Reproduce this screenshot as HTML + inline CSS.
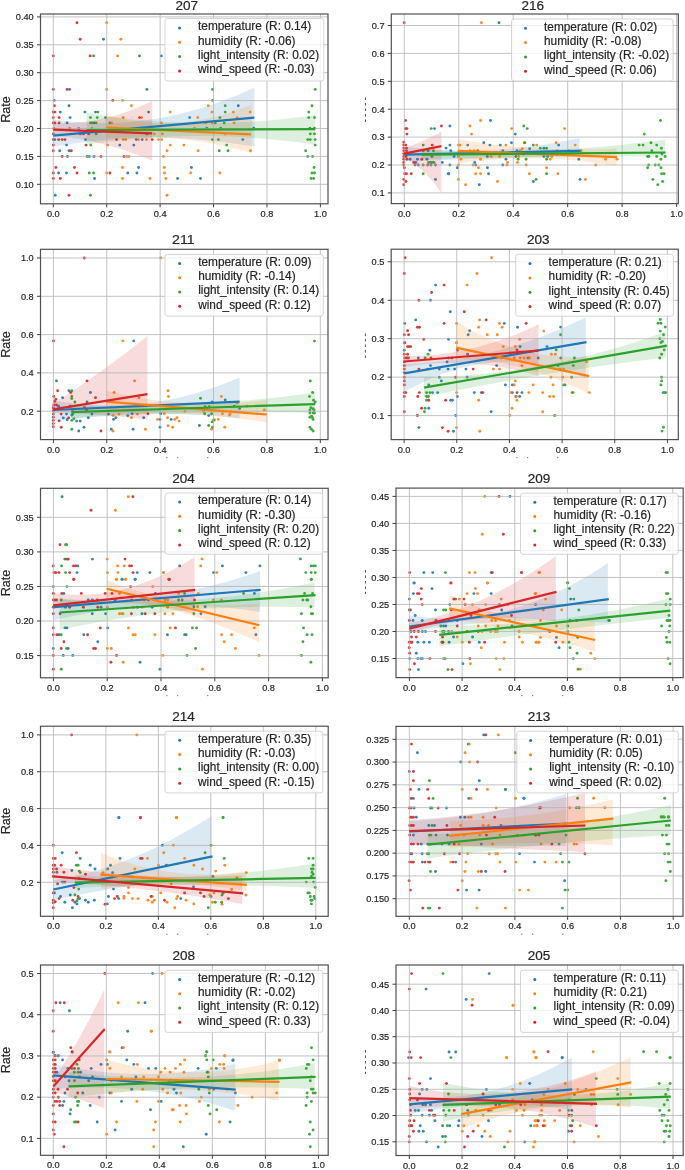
<!DOCTYPE html>
<html><head><meta charset="utf-8"><style>
html,body{margin:0;padding:0;background:#fff;width:685px;height:1170px;overflow:hidden}
svg{display:block;font-family:"Liberation Sans",sans-serif;filter:blur(0.35px)}
text{stroke:#262626;stroke-width:0.2px}
</style></head><body>
<svg width="685" height="1170" viewBox="0 0 685 1170">
<rect width="685" height="1170" fill="#fff"/>
<g>
<clipPath id="c207"><rect x="40.50" y="14.00" width="287.50" height="189.80"/></clipPath>
<g clip-path="url(#c207)">
<g fill="#1f77b4" opacity="0.9">
<circle cx="103.5" cy="39.2" r="1.45"/>
<circle cx="139.5" cy="55.9" r="1.45"/>
<circle cx="161.3" cy="55.9" r="1.45"/>
<circle cx="69.6" cy="89.4" r="1.45"/>
<circle cx="146.9" cy="89.4" r="1.45"/>
<circle cx="54.2" cy="100.4" r="1.45"/>
<circle cx="69.0" cy="105.7" r="1.45"/>
<circle cx="60.3" cy="112.1" r="1.45"/>
<circle cx="84.9" cy="112.1" r="1.45"/>
<circle cx="95.5" cy="112.1" r="1.45"/>
<circle cx="148.6" cy="112.1" r="1.45"/>
<circle cx="70.1" cy="117.6" r="1.45"/>
<circle cx="105.6" cy="117.6" r="1.45"/>
<circle cx="67.1" cy="122.9" r="1.45"/>
<circle cx="94.0" cy="122.9" r="1.45"/>
<circle cx="109.9" cy="122.9" r="1.45"/>
<circle cx="78.7" cy="128.6" r="1.45"/>
<circle cx="80.2" cy="133.9" r="1.45"/>
<circle cx="146.9" cy="133.9" r="1.45"/>
<circle cx="54.8" cy="139.6" r="1.45"/>
<circle cx="85.5" cy="139.6" r="1.45"/>
<circle cx="136.3" cy="139.6" r="1.45"/>
<circle cx="142.2" cy="139.6" r="1.45"/>
<circle cx="66.5" cy="145.1" r="1.45"/>
<circle cx="119.8" cy="145.1" r="1.45"/>
<circle cx="133.8" cy="145.1" r="1.45"/>
<circle cx="59.7" cy="150.8" r="1.45"/>
<circle cx="69.0" cy="150.8" r="1.45"/>
<circle cx="67.5" cy="156.5" r="1.45"/>
<circle cx="89.3" cy="156.5" r="1.45"/>
<circle cx="94.0" cy="156.5" r="1.45"/>
<circle cx="138.6" cy="167.5" r="1.45"/>
<circle cx="58.6" cy="173.0" r="1.45"/>
<circle cx="66.5" cy="173.0" r="1.45"/>
<circle cx="127.8" cy="173.0" r="1.45"/>
<circle cx="136.9" cy="173.0" r="1.45"/>
<circle cx="94.6" cy="178.5" r="1.45"/>
<circle cx="177.6" cy="178.5" r="1.45"/>
<circle cx="55.2" cy="195.3" r="1.45"/>
<circle cx="238.3" cy="105.7" r="1.45"/>
<circle cx="189.7" cy="117.6" r="1.45"/>
<circle cx="206.8" cy="128.2" r="1.45"/>
<circle cx="253.8" cy="128.2" r="1.45"/>
<circle cx="242.8" cy="139.6" r="1.45"/>
<circle cx="191.4" cy="167.5" r="1.45"/>
<circle cx="200.5" cy="178.5" r="1.45"/>
</g>
<polygon points="53.3,119.3 61.7,120.5 70.1,121.4 78.4,122.2 86.8,122.7 95.2,123.0 103.6,123.1 112.0,123.0 120.3,122.7 128.7,122.1 137.1,121.3 145.5,120.3 153.9,119.1 162.2,117.7 170.6,116.0 179.0,114.2 187.4,112.1 195.7,109.8 204.1,107.2 212.5,104.5 220.9,101.5 229.3,98.3 237.6,94.9 246.0,91.3 254.4,87.5 254.4,146.8 246.0,145.4 237.6,144.1 229.3,142.9 220.9,141.8 212.5,140.9 204.1,140.1 195.7,139.4 187.4,138.8 179.0,138.4 170.6,138.1 162.2,137.9 153.9,137.8 145.5,137.9 137.1,138.1 128.7,138.4 120.3,138.8 112.0,139.4 103.6,140.1 95.2,140.9 86.8,141.8 78.4,142.9 70.1,144.1 61.7,145.4 53.3,146.8" fill="#1f77b4" fill-opacity="0.16"/>
<g fill="#ff7f0e" opacity="0.9">
<circle cx="106.7" cy="22.7" r="1.45"/>
<circle cx="120.9" cy="39.2" r="1.45"/>
<circle cx="117.7" cy="55.9" r="1.45"/>
<circle cx="106.7" cy="89.4" r="1.45"/>
<circle cx="122.6" cy="100.4" r="1.45"/>
<circle cx="131.4" cy="105.7" r="1.45"/>
<circle cx="170.2" cy="112.1" r="1.45"/>
<circle cx="123.2" cy="117.6" r="1.45"/>
<circle cx="141.6" cy="117.6" r="1.45"/>
<circle cx="111.5" cy="122.9" r="1.45"/>
<circle cx="161.3" cy="122.9" r="1.45"/>
<circle cx="154.3" cy="133.9" r="1.45"/>
<circle cx="162.4" cy="133.9" r="1.45"/>
<circle cx="123.2" cy="139.6" r="1.45"/>
<circle cx="125.7" cy="139.6" r="1.45"/>
<circle cx="138.4" cy="139.6" r="1.45"/>
<circle cx="146.5" cy="139.6" r="1.45"/>
<circle cx="158.5" cy="139.6" r="1.45"/>
<circle cx="161.7" cy="139.6" r="1.45"/>
<circle cx="107.7" cy="145.1" r="1.45"/>
<circle cx="170.2" cy="145.1" r="1.45"/>
<circle cx="183.9" cy="145.1" r="1.45"/>
<circle cx="167.0" cy="150.8" r="1.45"/>
<circle cx="126.8" cy="156.5" r="1.45"/>
<circle cx="128.9" cy="156.5" r="1.45"/>
<circle cx="163.4" cy="156.5" r="1.45"/>
<circle cx="122.6" cy="167.5" r="1.45"/>
<circle cx="164.3" cy="167.5" r="1.45"/>
<circle cx="106.7" cy="173.0" r="1.45"/>
<circle cx="164.5" cy="173.0" r="1.45"/>
<circle cx="122.6" cy="178.5" r="1.45"/>
<circle cx="150.1" cy="178.5" r="1.45"/>
<circle cx="165.9" cy="178.5" r="1.45"/>
<circle cx="167.0" cy="195.3" r="1.45"/>
<circle cx="208.3" cy="105.7" r="1.45"/>
<circle cx="211.9" cy="112.1" r="1.45"/>
<circle cx="233.3" cy="112.1" r="1.45"/>
<circle cx="250.2" cy="112.1" r="1.45"/>
<circle cx="197.7" cy="117.6" r="1.45"/>
<circle cx="237.1" cy="117.6" r="1.45"/>
<circle cx="205.7" cy="122.9" r="1.45"/>
<circle cx="212.1" cy="122.9" r="1.45"/>
<circle cx="234.1" cy="122.9" r="1.45"/>
<circle cx="194.5" cy="128.2" r="1.45"/>
<circle cx="225.2" cy="133.9" r="1.45"/>
<circle cx="198.1" cy="150.8" r="1.45"/>
<circle cx="250.6" cy="150.8" r="1.45"/>
<circle cx="190.7" cy="173.0" r="1.45"/>
<circle cx="219.9" cy="173.0" r="1.45"/>
</g>
<polygon points="105.6,115.0 111.7,116.6 117.8,118.0 123.9,119.3 129.9,120.4 136.0,121.3 142.1,122.0 148.2,122.5 154.3,122.9 160.4,123.1 166.5,123.1 172.6,122.9 178.6,122.6 184.7,122.0 190.8,121.3 196.9,120.4 203.0,119.4 209.1,118.1 215.2,116.7 221.3,115.1 227.3,113.4 233.4,111.4 239.5,109.3 245.6,107.0 251.7,104.5 251.7,153.0 245.6,151.3 239.5,149.7 233.4,148.2 227.3,146.8 221.3,145.5 215.2,144.2 209.1,143.1 203.0,142.0 196.9,141.1 190.8,140.2 184.7,139.5 178.6,138.8 172.6,138.2 166.5,137.7 160.4,137.3 154.3,137.0 148.2,136.8 142.1,136.7 136.0,136.7 129.9,136.8 123.9,136.9 117.8,137.2 111.7,137.6 105.6,138.0" fill="#ff7f0e" fill-opacity="0.16"/>
<g fill="#2ca02c" opacity="0.9">
<circle cx="93.6" cy="55.9" r="1.45"/>
<circle cx="97.8" cy="112.1" r="1.45"/>
<circle cx="90.4" cy="117.6" r="1.45"/>
<circle cx="97.2" cy="117.6" r="1.45"/>
<circle cx="90.4" cy="122.9" r="1.45"/>
<circle cx="91.9" cy="122.9" r="1.45"/>
<circle cx="96.1" cy="122.9" r="1.45"/>
<circle cx="91.9" cy="128.6" r="1.45"/>
<circle cx="96.1" cy="133.9" r="1.45"/>
<circle cx="90.8" cy="145.1" r="1.45"/>
<circle cx="87.0" cy="156.5" r="1.45"/>
<circle cx="89.3" cy="173.0" r="1.45"/>
<circle cx="93.6" cy="173.0" r="1.45"/>
<circle cx="90.4" cy="195.3" r="1.45"/>
<circle cx="225.2" cy="105.7" r="1.45"/>
<circle cx="312.0" cy="105.7" r="1.45"/>
<circle cx="225.2" cy="112.1" r="1.45"/>
<circle cx="308.8" cy="112.1" r="1.45"/>
<circle cx="219.9" cy="117.6" r="1.45"/>
<circle cx="308.8" cy="117.6" r="1.45"/>
<circle cx="314.5" cy="117.6" r="1.45"/>
<circle cx="215.3" cy="122.9" r="1.45"/>
<circle cx="224.2" cy="122.9" r="1.45"/>
<circle cx="220.6" cy="128.2" r="1.45"/>
<circle cx="309.9" cy="128.2" r="1.45"/>
<circle cx="314.5" cy="128.2" r="1.45"/>
<circle cx="310.3" cy="133.9" r="1.45"/>
<circle cx="314.5" cy="133.9" r="1.45"/>
<circle cx="212.5" cy="139.6" r="1.45"/>
<circle cx="218.4" cy="139.6" r="1.45"/>
<circle cx="307.8" cy="139.6" r="1.45"/>
<circle cx="310.3" cy="139.6" r="1.45"/>
<circle cx="315.2" cy="139.6" r="1.45"/>
<circle cx="226.7" cy="145.1" r="1.45"/>
<circle cx="315.2" cy="145.1" r="1.45"/>
<circle cx="219.3" cy="150.8" r="1.45"/>
<circle cx="228.0" cy="150.8" r="1.45"/>
<circle cx="305.7" cy="150.8" r="1.45"/>
<circle cx="307.8" cy="156.5" r="1.45"/>
<circle cx="312.6" cy="156.5" r="1.45"/>
<circle cx="314.1" cy="167.5" r="1.45"/>
<circle cx="312.0" cy="173.0" r="1.45"/>
<circle cx="314.5" cy="173.0" r="1.45"/>
<circle cx="311.2" cy="178.5" r="1.45"/>
<circle cx="313.7" cy="178.5" r="1.45"/>
<circle cx="212.5" cy="89.4" r="1.45"/>
<circle cx="315.2" cy="89.4" r="1.45"/>
<circle cx="212.5" cy="100.4" r="1.45"/>
</g>
<polygon points="86.6,113.0 96.1,114.5 105.6,115.9 115.2,117.2 124.7,118.3 134.2,119.4 143.8,120.3 153.3,121.0 162.8,121.7 172.3,122.2 181.8,122.6 191.4,122.9 200.9,123.0 210.4,123.0 219.9,122.9 229.5,122.7 239.0,122.3 248.5,121.9 258.1,121.3 267.6,120.5 277.1,119.7 286.6,118.7 296.1,117.6 305.7,116.4 315.2,115.0 315.2,144.7 305.7,143.3 296.1,142.0 286.6,140.9 277.1,139.9 267.6,139.0 258.1,138.2 248.5,137.5 239.0,137.0 229.5,136.5 219.9,136.2 210.4,136.1 200.9,136.0 191.4,136.1 181.8,136.2 172.3,136.5 162.8,137.0 153.3,137.5 143.8,138.2 134.2,139.0 124.7,139.9 115.2,140.9 105.6,142.0 96.1,143.3 86.6,144.7" fill="#2ca02c" fill-opacity="0.16"/>
<g fill="#d62728" opacity="0.9">
<circle cx="77.0" cy="22.7" r="1.45"/>
<circle cx="80.2" cy="39.2" r="1.45"/>
<circle cx="53.3" cy="55.9" r="1.45"/>
<circle cx="90.2" cy="55.9" r="1.45"/>
<circle cx="53.3" cy="89.4" r="1.45"/>
<circle cx="67.1" cy="89.4" r="1.45"/>
<circle cx="112.8" cy="100.4" r="1.45"/>
<circle cx="54.4" cy="105.7" r="1.45"/>
<circle cx="53.3" cy="112.1" r="1.45"/>
<circle cx="54.8" cy="112.1" r="1.45"/>
<circle cx="53.3" cy="117.6" r="1.45"/>
<circle cx="59.1" cy="117.6" r="1.45"/>
<circle cx="139.5" cy="117.6" r="1.45"/>
<circle cx="53.3" cy="122.9" r="1.45"/>
<circle cx="54.8" cy="122.9" r="1.45"/>
<circle cx="59.1" cy="122.9" r="1.45"/>
<circle cx="53.8" cy="128.6" r="1.45"/>
<circle cx="69.6" cy="128.6" r="1.45"/>
<circle cx="53.3" cy="133.9" r="1.45"/>
<circle cx="83.4" cy="133.9" r="1.45"/>
<circle cx="88.7" cy="133.9" r="1.45"/>
<circle cx="53.3" cy="139.6" r="1.45"/>
<circle cx="58.6" cy="139.6" r="1.45"/>
<circle cx="62.2" cy="139.6" r="1.45"/>
<circle cx="65.0" cy="139.6" r="1.45"/>
<circle cx="116.6" cy="139.6" r="1.45"/>
<circle cx="152.2" cy="139.6" r="1.45"/>
<circle cx="53.3" cy="145.1" r="1.45"/>
<circle cx="86.1" cy="145.1" r="1.45"/>
<circle cx="53.3" cy="150.8" r="1.45"/>
<circle cx="71.3" cy="150.8" r="1.45"/>
<circle cx="62.2" cy="156.5" r="1.45"/>
<circle cx="101.0" cy="156.5" r="1.45"/>
<circle cx="124.0" cy="156.5" r="1.45"/>
<circle cx="55.9" cy="167.5" r="1.45"/>
<circle cx="74.5" cy="167.5" r="1.45"/>
<circle cx="53.3" cy="173.0" r="1.45"/>
<circle cx="77.0" cy="173.0" r="1.45"/>
<circle cx="109.9" cy="173.0" r="1.45"/>
<circle cx="53.3" cy="178.5" r="1.45"/>
<circle cx="60.3" cy="178.5" r="1.45"/>
<circle cx="69.0" cy="195.3" r="1.45"/>
</g>
<polygon points="53.3,123.0 57.4,123.1 61.5,123.2 65.7,123.1 69.8,123.0 73.9,122.8 78.0,122.5 82.1,122.0 86.3,121.5 90.4,120.9 94.5,120.3 98.6,119.5 102.8,118.6 106.9,117.6 111.0,116.6 115.1,115.4 119.2,114.2 123.4,112.9 127.5,111.5 131.6,109.9 135.7,108.3 139.8,106.6 144.0,104.9 148.1,103.0 152.2,101.0 152.2,160.8 148.1,159.0 144.0,157.4 139.8,155.7 135.7,154.2 131.6,152.7 127.5,151.2 123.4,149.8 119.2,148.5 115.1,147.3 111.0,146.1 106.9,145.0 102.8,143.9 98.6,142.9 94.5,142.0 90.4,141.1 86.3,140.3 82.1,139.5 78.0,138.8 73.9,138.2 69.8,137.6 65.7,137.1 61.5,136.7 57.4,136.3 53.3,136.0" fill="#d62728" fill-opacity="0.16"/>
</g>
<g clip-path="url(#c207)" stroke="#b0b0b0" stroke-width="0.9" fill="none" opacity="0.85">
<line x1="53.30" y1="14.00" x2="53.30" y2="203.80"/>
<line x1="106.72" y1="14.00" x2="106.72" y2="203.80"/>
<line x1="160.14" y1="14.00" x2="160.14" y2="203.80"/>
<line x1="213.56" y1="14.00" x2="213.56" y2="203.80"/>
<line x1="266.98" y1="14.00" x2="266.98" y2="203.80"/>
<line x1="320.40" y1="14.00" x2="320.40" y2="203.80"/>
<line x1="40.50" y1="184.30" x2="328.00" y2="184.30"/>
<line x1="40.50" y1="156.40" x2="328.00" y2="156.40"/>
<line x1="40.50" y1="128.50" x2="328.00" y2="128.50"/>
<line x1="40.50" y1="100.60" x2="328.00" y2="100.60"/>
<line x1="40.50" y1="72.70" x2="328.00" y2="72.70"/>
<line x1="40.50" y1="44.80" x2="328.00" y2="44.80"/>
<line x1="40.50" y1="16.90" x2="328.00" y2="16.90"/>
</g>
<g clip-path="url(#c207)">
<line x1="53.3" y1="135.6" x2="254.4" y2="117.6" stroke="#1f77b4" stroke-width="2.2"/>
<line x1="106.0" y1="127.5" x2="251.0" y2="134.3" stroke="#ff7f0e" stroke-width="2.2"/>
<line x1="86.6" y1="130.0" x2="315.2" y2="129.2" stroke="#2ca02c" stroke-width="2.2"/>
<line x1="53.3" y1="129.6" x2="152.2" y2="133.4" stroke="#d62728" stroke-width="2.2"/>
</g>
<rect x="165.0" y="18.5" width="158.8" height="62.5" rx="2.5" fill="#fff" fill-opacity="0.8" stroke="#d0d0d0" stroke-width="0.9"/>
<circle cx="179.6" cy="28.0" r="1.5" fill="#1f77b4"/>
<text x="198.0" y="30.3" font-size="11.85" fill="#262626">temperature (R: 0.14)</text>
<circle cx="179.6" cy="42.3" r="1.5" fill="#ff7f0e"/>
<text x="198.0" y="44.6" font-size="11.85" fill="#262626">humidity (R: -0.06)</text>
<circle cx="179.6" cy="56.6" r="1.5" fill="#2ca02c"/>
<text x="198.0" y="58.9" font-size="11.85" fill="#262626">light_intensity (R: 0.02)</text>
<circle cx="179.6" cy="70.9" r="1.5" fill="#d62728"/>
<text x="198.0" y="73.2" font-size="11.85" fill="#262626">wind_speed (R: -0.03)</text>
<rect x="40.50" y="14.00" width="287.50" height="189.80" fill="none" stroke="#505050" stroke-width="1.2"/>
<g stroke="#404040" stroke-width="1"><line x1="53.30" y1="203.80" x2="53.30" y2="207.30"/><line x1="106.72" y1="203.80" x2="106.72" y2="207.30"/><line x1="160.14" y1="203.80" x2="160.14" y2="207.30"/><line x1="213.56" y1="203.80" x2="213.56" y2="207.30"/><line x1="266.98" y1="203.80" x2="266.98" y2="207.30"/><line x1="320.40" y1="203.80" x2="320.40" y2="207.30"/><line x1="37.00" y1="184.30" x2="40.50" y2="184.30"/><line x1="37.00" y1="156.40" x2="40.50" y2="156.40"/><line x1="37.00" y1="128.50" x2="40.50" y2="128.50"/><line x1="37.00" y1="100.60" x2="40.50" y2="100.60"/><line x1="37.00" y1="72.70" x2="40.50" y2="72.70"/><line x1="37.00" y1="44.80" x2="40.50" y2="44.80"/><line x1="37.00" y1="16.90" x2="40.50" y2="16.90"/></g>
<text x="53.30" y="216.80" font-size="9.2" fill="#262626" text-anchor="middle">0.0</text>
<text x="106.72" y="216.80" font-size="9.2" fill="#262626" text-anchor="middle">0.2</text>
<text x="160.14" y="216.80" font-size="9.2" fill="#262626" text-anchor="middle">0.4</text>
<text x="213.56" y="216.80" font-size="9.2" fill="#262626" text-anchor="middle">0.6</text>
<text x="266.98" y="216.80" font-size="9.2" fill="#262626" text-anchor="middle">0.8</text>
<text x="320.40" y="216.80" font-size="9.2" fill="#262626" text-anchor="middle">1.0</text>
<text x="33.70" y="187.60" font-size="9.2" fill="#262626" text-anchor="end">0.10</text>
<text x="33.70" y="159.70" font-size="9.2" fill="#262626" text-anchor="end">0.15</text>
<text x="33.70" y="131.80" font-size="9.2" fill="#262626" text-anchor="end">0.20</text>
<text x="33.70" y="103.90" font-size="9.2" fill="#262626" text-anchor="end">0.25</text>
<text x="33.70" y="76.00" font-size="9.2" fill="#262626" text-anchor="end">0.30</text>
<text x="33.70" y="48.10" font-size="9.2" fill="#262626" text-anchor="end">0.35</text>
<text x="33.70" y="20.20" font-size="9.2" fill="#262626" text-anchor="end">0.40</text>
<text x="186.70" y="9.60" font-size="12.6" fill="#262626" text-anchor="middle" textLength="22.6" lengthAdjust="spacingAndGlyphs">207</text>
<text transform="translate(10.3,109.5) rotate(-90)" font-size="13" fill="#262626" text-anchor="middle" textLength="26.6" lengthAdjust="spacingAndGlyphs">Rate</text>
</g>
<g>
<clipPath id="c216"><rect x="391.30" y="14.00" width="287.00" height="189.60"/></clipPath>
<g clip-path="url(#c216)">
<g fill="#1f77b4" opacity="0.9">
<circle cx="499.0" cy="22.7" r="1.45"/>
<circle cx="490.5" cy="120.5" r="1.45"/>
<circle cx="434.5" cy="128.6" r="1.45"/>
<circle cx="449.9" cy="126.0" r="1.45"/>
<circle cx="515.3" cy="134.1" r="1.45"/>
<circle cx="483.8" cy="142.8" r="1.45"/>
<circle cx="449.9" cy="145.1" r="1.45"/>
<circle cx="467.7" cy="145.1" r="1.45"/>
<circle cx="489.9" cy="145.1" r="1.45"/>
<circle cx="500.3" cy="145.1" r="1.45"/>
<circle cx="511.5" cy="142.8" r="1.45"/>
<circle cx="446.1" cy="148.1" r="1.45"/>
<circle cx="428.1" cy="150.8" r="1.45"/>
<circle cx="450.8" cy="150.8" r="1.45"/>
<circle cx="477.8" cy="150.8" r="1.45"/>
<circle cx="502.8" cy="150.8" r="1.45"/>
<circle cx="517.0" cy="150.8" r="1.45"/>
<circle cx="529.7" cy="148.7" r="1.45"/>
<circle cx="454.1" cy="156.5" r="1.45"/>
<circle cx="487.4" cy="156.5" r="1.45"/>
<circle cx="515.9" cy="156.5" r="1.45"/>
<circle cx="410.1" cy="159.3" r="1.45"/>
<circle cx="417.5" cy="159.3" r="1.45"/>
<circle cx="427.0" cy="159.3" r="1.45"/>
<circle cx="506.0" cy="159.3" r="1.45"/>
<circle cx="415.8" cy="162.4" r="1.45"/>
<circle cx="442.3" cy="162.4" r="1.45"/>
<circle cx="474.7" cy="162.4" r="1.45"/>
<circle cx="418.2" cy="165.0" r="1.45"/>
<circle cx="430.9" cy="165.0" r="1.45"/>
<circle cx="435.5" cy="165.0" r="1.45"/>
<circle cx="449.9" cy="165.0" r="1.45"/>
<circle cx="475.7" cy="165.0" r="1.45"/>
<circle cx="502.8" cy="165.0" r="1.45"/>
<circle cx="457.3" cy="167.7" r="1.45"/>
<circle cx="487.4" cy="167.7" r="1.45"/>
<circle cx="448.2" cy="173.7" r="1.45"/>
<circle cx="448.8" cy="173.7" r="1.45"/>
<circle cx="488.6" cy="173.7" r="1.45"/>
<circle cx="435.5" cy="179.4" r="1.45"/>
<circle cx="533.3" cy="181.5" r="1.45"/>
<circle cx="479.3" cy="184.7" r="1.45"/>
<circle cx="543.9" cy="148.3" r="1.45"/>
<circle cx="558.7" cy="145.1" r="1.45"/>
<circle cx="543.9" cy="156.5" r="1.45"/>
<circle cx="547.7" cy="156.5" r="1.45"/>
<circle cx="578.8" cy="159.3" r="1.45"/>
<circle cx="580.1" cy="179.4" r="1.45"/>
</g>
<polygon points="404.2,146.6 411.5,147.5 418.8,148.2 426.1,148.8 433.4,149.4 440.7,149.8 448.0,150.1 455.3,150.4 462.6,150.5 469.9,150.5 477.2,150.4 484.5,150.2 491.9,149.9 499.2,149.5 506.5,149.0 513.8,148.4 521.1,147.7 528.4,146.8 535.7,145.9 543.0,144.9 550.3,143.7 557.6,142.5 564.9,141.1 572.2,139.7 579.5,138.1 579.5,156.0 572.2,156.2 564.9,156.4 557.6,156.6 550.3,156.8 543.0,157.0 535.7,157.2 528.4,157.4 521.1,157.6 513.8,157.8 506.5,158.0 499.2,158.2 491.9,158.4 484.5,158.7 477.2,158.9 469.9,159.1 462.6,159.4 455.3,159.6 448.0,159.9 440.7,160.1 433.4,160.4 426.1,160.6 418.8,160.9 411.5,161.1 404.2,161.4" fill="#1f77b4" fill-opacity="0.16"/>
<g fill="#ff7f0e" opacity="0.9">
<circle cx="481.4" cy="22.7" r="1.45"/>
<circle cx="480.6" cy="120.5" r="1.45"/>
<circle cx="470.0" cy="126.0" r="1.45"/>
<circle cx="511.7" cy="128.6" r="1.45"/>
<circle cx="471.5" cy="134.1" r="1.45"/>
<circle cx="524.4" cy="142.8" r="1.45"/>
<circle cx="458.4" cy="145.1" r="1.45"/>
<circle cx="459.9" cy="145.1" r="1.45"/>
<circle cx="506.0" cy="145.1" r="1.45"/>
<circle cx="470.0" cy="150.8" r="1.45"/>
<circle cx="474.2" cy="150.8" r="1.45"/>
<circle cx="520.2" cy="150.8" r="1.45"/>
<circle cx="522.3" cy="148.7" r="1.45"/>
<circle cx="458.4" cy="156.5" r="1.45"/>
<circle cx="491.2" cy="156.5" r="1.45"/>
<circle cx="499.6" cy="156.5" r="1.45"/>
<circle cx="518.7" cy="156.5" r="1.45"/>
<circle cx="460.9" cy="159.3" r="1.45"/>
<circle cx="480.6" cy="159.3" r="1.45"/>
<circle cx="507.5" cy="162.4" r="1.45"/>
<circle cx="517.4" cy="162.4" r="1.45"/>
<circle cx="458.4" cy="165.0" r="1.45"/>
<circle cx="473.0" cy="165.0" r="1.45"/>
<circle cx="507.1" cy="165.0" r="1.45"/>
<circle cx="526.1" cy="165.0" r="1.45"/>
<circle cx="478.5" cy="167.7" r="1.45"/>
<circle cx="475.7" cy="173.7" r="1.45"/>
<circle cx="480.6" cy="173.7" r="1.45"/>
<circle cx="529.3" cy="173.7" r="1.45"/>
<circle cx="458.4" cy="179.4" r="1.45"/>
<circle cx="497.5" cy="181.5" r="1.45"/>
<circle cx="465.6" cy="184.7" r="1.45"/>
<circle cx="564.6" cy="128.6" r="1.45"/>
<circle cx="536.7" cy="145.1" r="1.45"/>
<circle cx="556.2" cy="142.8" r="1.45"/>
<circle cx="575.2" cy="145.1" r="1.45"/>
<circle cx="557.2" cy="150.8" r="1.45"/>
<circle cx="568.9" cy="150.8" r="1.45"/>
<circle cx="581.1" cy="150.8" r="1.45"/>
<circle cx="551.9" cy="156.5" r="1.45"/>
<circle cx="550.2" cy="159.3" r="1.45"/>
<circle cx="605.5" cy="159.3" r="1.45"/>
<circle cx="617.1" cy="159.3" r="1.45"/>
<circle cx="595.8" cy="165.0" r="1.45"/>
<circle cx="546.6" cy="167.7" r="1.45"/>
<circle cx="557.9" cy="173.7" r="1.45"/>
<circle cx="585.4" cy="179.4" r="1.45"/>
</g>
<polygon points="457.7,139.2 464.3,140.3 470.9,141.4 477.6,142.3 484.2,143.3 490.8,144.1 497.4,144.9 504.0,145.6 510.6,146.3 517.2,146.9 523.9,147.5 530.5,147.9 537.1,148.3 543.7,148.7 550.3,149.0 557.0,149.2 563.6,149.3 570.2,149.4 576.8,149.5 583.4,149.4 590.0,149.3 596.6,149.2 603.3,148.9 609.9,148.7 616.5,148.3 616.5,166.0 609.9,164.9 603.3,163.9 596.6,162.9 590.0,162.1 583.4,161.3 576.8,160.6 570.2,160.1 563.6,159.6 557.0,159.2 550.3,158.8 543.7,158.6 537.1,158.4 530.5,158.4 523.9,158.4 517.2,158.5 510.6,158.7 504.0,159.0 497.4,159.4 490.8,159.9 484.2,160.4 477.6,161.1 470.9,161.8 464.3,162.6 457.7,163.5" fill="#ff7f0e" fill-opacity="0.16"/>
<g fill="#2ca02c" opacity="0.9">
<circle cx="431.3" cy="128.6" r="1.45"/>
<circle cx="523.8" cy="126.0" r="1.45"/>
<circle cx="527.2" cy="128.6" r="1.45"/>
<circle cx="423.2" cy="145.1" r="1.45"/>
<circle cx="524.8" cy="142.8" r="1.45"/>
<circle cx="533.3" cy="145.1" r="1.45"/>
<circle cx="423.2" cy="150.8" r="1.45"/>
<circle cx="433.4" cy="150.8" r="1.45"/>
<circle cx="431.9" cy="156.5" r="1.45"/>
<circle cx="523.4" cy="154.0" r="1.45"/>
<circle cx="518.1" cy="159.3" r="1.45"/>
<circle cx="526.1" cy="159.3" r="1.45"/>
<circle cx="428.7" cy="162.4" r="1.45"/>
<circle cx="430.6" cy="162.4" r="1.45"/>
<circle cx="432.3" cy="162.4" r="1.45"/>
<circle cx="434.0" cy="162.4" r="1.45"/>
<circle cx="423.2" cy="165.0" r="1.45"/>
<circle cx="423.2" cy="173.7" r="1.45"/>
<circle cx="660.5" cy="120.5" r="1.45"/>
<circle cx="644.2" cy="134.1" r="1.45"/>
<circle cx="540.3" cy="148.3" r="1.45"/>
<circle cx="546.6" cy="148.3" r="1.45"/>
<circle cx="639.1" cy="145.1" r="1.45"/>
<circle cx="643.0" cy="145.1" r="1.45"/>
<circle cx="651.0" cy="142.8" r="1.45"/>
<circle cx="656.7" cy="145.1" r="1.45"/>
<circle cx="661.4" cy="148.3" r="1.45"/>
<circle cx="651.8" cy="150.8" r="1.45"/>
<circle cx="647.6" cy="156.5" r="1.45"/>
<circle cx="648.9" cy="156.5" r="1.45"/>
<circle cx="656.7" cy="156.5" r="1.45"/>
<circle cx="662.0" cy="154.0" r="1.45"/>
<circle cx="665.2" cy="156.5" r="1.45"/>
<circle cx="546.6" cy="159.3" r="1.45"/>
<circle cx="660.9" cy="159.3" r="1.45"/>
<circle cx="648.7" cy="165.0" r="1.45"/>
<circle cx="655.2" cy="165.0" r="1.45"/>
<circle cx="658.8" cy="165.0" r="1.45"/>
<circle cx="647.6" cy="167.7" r="1.45"/>
<circle cx="660.9" cy="167.7" r="1.45"/>
<circle cx="546.6" cy="173.7" r="1.45"/>
<circle cx="661.6" cy="173.7" r="1.45"/>
<circle cx="664.1" cy="173.7" r="1.45"/>
<circle cx="536.1" cy="179.4" r="1.45"/>
<circle cx="652.9" cy="179.4" r="1.45"/>
<circle cx="662.6" cy="181.5" r="1.45"/>
<circle cx="657.8" cy="184.7" r="1.45"/>
</g>
<polygon points="421.8,149.7 431.9,150.2 442.1,150.6 452.2,150.9 462.4,151.1 472.5,151.3 482.7,151.4 492.8,151.4 502.9,151.3 513.1,151.2 523.2,151.0 533.4,150.7 543.5,150.3 553.6,149.8 563.8,149.3 573.9,148.7 584.1,148.0 594.2,147.2 604.4,146.4 614.5,145.4 624.6,144.4 634.8,143.3 644.9,142.2 655.1,140.9 665.2,139.6 665.2,156.7 655.1,156.6 644.9,156.5 634.8,156.4 624.6,156.4 614.5,156.4 604.4,156.3 594.2,156.3 584.1,156.4 573.9,156.4 563.8,156.5 553.6,156.6 543.5,156.7 533.4,156.8 523.2,156.9 513.1,157.1 502.9,157.2 492.8,157.4 482.7,157.6 472.5,157.9 462.4,158.1 452.2,158.4 442.1,158.7 431.9,159.0 421.8,159.3" fill="#2ca02c" fill-opacity="0.16"/>
<g fill="#d62728" opacity="0.9">
<circle cx="404.2" cy="22.7" r="1.45"/>
<circle cx="405.5" cy="120.5" r="1.45"/>
<circle cx="405.5" cy="128.6" r="1.45"/>
<circle cx="406.9" cy="128.6" r="1.45"/>
<circle cx="441.4" cy="126.0" r="1.45"/>
<circle cx="406.9" cy="134.1" r="1.45"/>
<circle cx="403.8" cy="142.3" r="1.45"/>
<circle cx="403.8" cy="145.1" r="1.45"/>
<circle cx="405.9" cy="145.1" r="1.45"/>
<circle cx="432.3" cy="145.1" r="1.45"/>
<circle cx="403.8" cy="148.1" r="1.45"/>
<circle cx="406.5" cy="148.1" r="1.45"/>
<circle cx="403.8" cy="150.8" r="1.45"/>
<circle cx="406.5" cy="150.8" r="1.45"/>
<circle cx="403.8" cy="153.6" r="1.45"/>
<circle cx="406.9" cy="153.6" r="1.45"/>
<circle cx="403.8" cy="156.5" r="1.45"/>
<circle cx="405.9" cy="156.5" r="1.45"/>
<circle cx="403.8" cy="159.3" r="1.45"/>
<circle cx="406.9" cy="159.3" r="1.45"/>
<circle cx="421.8" cy="159.3" r="1.45"/>
<circle cx="403.8" cy="162.4" r="1.45"/>
<circle cx="413.7" cy="162.4" r="1.45"/>
<circle cx="403.8" cy="165.0" r="1.45"/>
<circle cx="415.0" cy="165.0" r="1.45"/>
<circle cx="427.7" cy="165.0" r="1.45"/>
<circle cx="404.4" cy="167.7" r="1.45"/>
<circle cx="404.8" cy="173.7" r="1.45"/>
<circle cx="406.5" cy="173.7" r="1.45"/>
<circle cx="411.2" cy="173.7" r="1.45"/>
<circle cx="403.8" cy="179.4" r="1.45"/>
<circle cx="405.9" cy="181.5" r="1.45"/>
<circle cx="403.8" cy="184.7" r="1.45"/>
</g>
<polygon points="404.2,148.0 405.8,147.5 407.3,146.9 408.8,146.4 410.4,145.8 411.9,145.3 413.5,144.7 415.1,144.1 416.6,143.5 418.1,142.8 419.7,142.2 421.2,141.5 422.8,140.9 424.3,140.2 425.9,139.5 427.4,138.8 429.0,138.1 430.5,137.3 432.1,136.6 433.6,135.8 435.2,135.0 436.8,134.2 438.3,133.4 439.8,132.6 441.4,131.8 441.4,193.1 439.8,190.9 438.3,188.7 436.8,186.6 435.2,184.6 433.6,182.7 432.1,180.8 430.5,179.0 429.0,177.2 427.4,175.5 425.9,173.9 424.3,172.3 422.8,170.8 421.2,169.4 419.7,168.0 418.1,166.7 416.6,165.5 415.1,164.3 413.5,163.2 411.9,162.2 410.4,161.2 408.8,160.3 407.3,159.5 405.8,158.7 404.2,158.0" fill="#d62728" fill-opacity="0.16"/>
</g>
<g clip-path="url(#c216)" stroke="#b0b0b0" stroke-width="0.9" fill="none" opacity="0.85">
<line x1="404.30" y1="14.00" x2="404.30" y2="203.60"/>
<line x1="458.76" y1="14.00" x2="458.76" y2="203.60"/>
<line x1="513.22" y1="14.00" x2="513.22" y2="203.60"/>
<line x1="567.68" y1="14.00" x2="567.68" y2="203.60"/>
<line x1="622.14" y1="14.00" x2="622.14" y2="203.60"/>
<line x1="676.60" y1="14.00" x2="676.60" y2="203.60"/>
<line x1="391.30" y1="192.90" x2="678.30" y2="192.90"/>
<line x1="391.30" y1="165.00" x2="678.30" y2="165.00"/>
<line x1="391.30" y1="137.10" x2="678.30" y2="137.10"/>
<line x1="391.30" y1="109.20" x2="678.30" y2="109.20"/>
<line x1="391.30" y1="81.30" x2="678.30" y2="81.30"/>
<line x1="391.30" y1="53.40" x2="678.30" y2="53.40"/>
<line x1="391.30" y1="25.50" x2="678.30" y2="25.50"/>
</g>
<g clip-path="url(#c216)">
<line x1="404.2" y1="154.6" x2="580.5" y2="150.8" stroke="#1f77b4" stroke-width="2.2"/>
<line x1="457.7" y1="150.8" x2="617.1" y2="157.2" stroke="#ff7f0e" stroke-width="2.2"/>
<line x1="421.8" y1="154.6" x2="665.6" y2="152.5" stroke="#2ca02c" stroke-width="2.2"/>
<line x1="404.2" y1="153.6" x2="441.4" y2="146.1" stroke="#d62728" stroke-width="2.2"/>
</g>
<rect x="511.5" y="19.0" width="161.5" height="62.0" rx="2.5" fill="#fff" fill-opacity="0.8" stroke="#d0d0d0" stroke-width="0.9"/>
<circle cx="525.5" cy="28.3" r="1.5" fill="#1f77b4"/>
<text x="544.0" y="30.6" font-size="11.85" fill="#262626">temperature (R: 0.02)</text>
<circle cx="525.5" cy="42.6" r="1.5" fill="#ff7f0e"/>
<text x="544.0" y="44.9" font-size="11.85" fill="#262626">humidity (R: -0.08)</text>
<circle cx="525.5" cy="56.9" r="1.5" fill="#2ca02c"/>
<text x="544.0" y="59.2" font-size="11.85" fill="#262626">light_intensity (R: -0.02)</text>
<circle cx="525.5" cy="71.2" r="1.5" fill="#d62728"/>
<text x="544.0" y="73.5" font-size="11.85" fill="#262626">wind_speed (R: 0.06)</text>
<rect x="391.30" y="14.00" width="287.00" height="189.60" fill="none" stroke="#505050" stroke-width="1.2"/>
<g stroke="#404040" stroke-width="1"><line x1="404.30" y1="203.60" x2="404.30" y2="207.10"/><line x1="458.76" y1="203.60" x2="458.76" y2="207.10"/><line x1="513.22" y1="203.60" x2="513.22" y2="207.10"/><line x1="567.68" y1="203.60" x2="567.68" y2="207.10"/><line x1="622.14" y1="203.60" x2="622.14" y2="207.10"/><line x1="676.60" y1="203.60" x2="676.60" y2="207.10"/><line x1="387.80" y1="192.90" x2="391.30" y2="192.90"/><line x1="387.80" y1="165.00" x2="391.30" y2="165.00"/><line x1="387.80" y1="137.10" x2="391.30" y2="137.10"/><line x1="387.80" y1="109.20" x2="391.30" y2="109.20"/><line x1="387.80" y1="81.30" x2="391.30" y2="81.30"/><line x1="387.80" y1="53.40" x2="391.30" y2="53.40"/><line x1="387.80" y1="25.50" x2="391.30" y2="25.50"/></g>
<text x="404.30" y="216.60" font-size="9.2" fill="#262626" text-anchor="middle">0.0</text>
<text x="458.76" y="216.60" font-size="9.2" fill="#262626" text-anchor="middle">0.2</text>
<text x="513.22" y="216.60" font-size="9.2" fill="#262626" text-anchor="middle">0.4</text>
<text x="567.68" y="216.60" font-size="9.2" fill="#262626" text-anchor="middle">0.6</text>
<text x="622.14" y="216.60" font-size="9.2" fill="#262626" text-anchor="middle">0.8</text>
<text x="676.60" y="216.60" font-size="9.2" fill="#262626" text-anchor="middle">1.0</text>
<text x="384.50" y="196.20" font-size="9.2" fill="#262626" text-anchor="end">0.1</text>
<text x="384.50" y="168.30" font-size="9.2" fill="#262626" text-anchor="end">0.2</text>
<text x="384.50" y="140.40" font-size="9.2" fill="#262626" text-anchor="end">0.3</text>
<text x="384.50" y="112.50" font-size="9.2" fill="#262626" text-anchor="end">0.4</text>
<text x="384.50" y="84.60" font-size="9.2" fill="#262626" text-anchor="end">0.5</text>
<text x="384.50" y="56.70" font-size="9.2" fill="#262626" text-anchor="end">0.6</text>
<text x="384.50" y="28.80" font-size="9.2" fill="#262626" text-anchor="end">0.7</text>
<text x="532.70" y="9.60" font-size="12.6" fill="#262626" text-anchor="middle" textLength="22.6" lengthAdjust="spacingAndGlyphs">216</text>
<line x1="365.5" y1="97.5" x2="365.5" y2="122" stroke="#444" stroke-width="0.9" stroke-dasharray="2.5,3"/>
</g>
<g>
<clipPath id="c211"><rect x="40.50" y="249.30" width="287.50" height="190.30"/></clipPath>
<g clip-path="url(#c211)">
<g fill="#1f77b4" opacity="0.9">
<circle cx="133.7" cy="340.9" r="1.45"/>
<circle cx="56.5" cy="380.9" r="1.45"/>
<circle cx="69.0" cy="390.8" r="1.45"/>
<circle cx="90.4" cy="392.5" r="1.45"/>
<circle cx="62.6" cy="397.8" r="1.45"/>
<circle cx="87.0" cy="402.0" r="1.45"/>
<circle cx="58.6" cy="406.3" r="1.45"/>
<circle cx="72.4" cy="409.9" r="1.45"/>
<circle cx="66.5" cy="414.1" r="1.45"/>
<circle cx="71.8" cy="415.1" r="1.45"/>
<circle cx="91.9" cy="414.1" r="1.45"/>
<circle cx="108.4" cy="414.1" r="1.45"/>
<circle cx="127.8" cy="415.6" r="1.45"/>
<circle cx="132.1" cy="413.7" r="1.45"/>
<circle cx="160.7" cy="413.7" r="1.45"/>
<circle cx="63.3" cy="417.9" r="1.45"/>
<circle cx="67.1" cy="419.8" r="1.45"/>
<circle cx="76.6" cy="421.1" r="1.45"/>
<circle cx="80.2" cy="421.1" r="1.45"/>
<circle cx="88.3" cy="417.7" r="1.45"/>
<circle cx="113.5" cy="419.4" r="1.45"/>
<circle cx="115.8" cy="417.7" r="1.45"/>
<circle cx="143.7" cy="417.7" r="1.45"/>
<circle cx="160.0" cy="419.4" r="1.45"/>
<circle cx="171.2" cy="419.4" r="1.45"/>
<circle cx="84.0" cy="427.2" r="1.45"/>
<circle cx="78.7" cy="431.0" r="1.45"/>
<circle cx="111.3" cy="429.3" r="1.45"/>
<circle cx="133.1" cy="429.3" r="1.45"/>
<circle cx="160.0" cy="427.2" r="1.45"/>
<circle cx="225.2" cy="399.9" r="1.45"/>
<circle cx="212.1" cy="402.0" r="1.45"/>
<circle cx="239.6" cy="408.4" r="1.45"/>
<circle cx="208.7" cy="415.6" r="1.45"/>
<circle cx="199.4" cy="425.5" r="1.45"/>
</g>
<polygon points="52.9,400.0 60.7,401.4 68.5,402.6 76.2,403.6 84.0,404.3 91.8,404.9 99.6,405.3 107.4,405.5 115.1,405.4 122.9,405.2 130.7,404.8 138.5,404.1 146.2,403.3 154.0,402.3 161.8,401.0 169.6,399.6 177.4,397.9 185.1,396.1 192.9,394.0 200.7,391.8 208.5,389.3 216.3,386.7 224.0,383.8 231.8,380.8 239.6,377.5 239.6,418.3 231.8,417.5 224.0,416.8 216.3,416.1 208.5,415.5 200.7,415.1 192.9,414.7 185.1,414.3 177.4,414.1 169.6,413.9 161.8,413.8 154.0,413.8 146.2,413.9 138.5,414.0 130.7,414.3 122.9,414.6 115.1,415.0 107.4,415.4 99.6,416.0 91.8,416.6 84.0,417.3 76.2,418.1 68.5,419.0 60.7,420.0 52.9,421.0" fill="#1f77b4" fill-opacity="0.16"/>
<g fill="#ff7f0e" opacity="0.9">
<circle cx="160.7" cy="258.0" r="1.45"/>
<circle cx="122.9" cy="340.9" r="1.45"/>
<circle cx="134.6" cy="380.9" r="1.45"/>
<circle cx="114.1" cy="392.5" r="1.45"/>
<circle cx="168.1" cy="390.8" r="1.45"/>
<circle cx="138.9" cy="397.8" r="1.45"/>
<circle cx="168.5" cy="396.5" r="1.45"/>
<circle cx="113.0" cy="415.6" r="1.45"/>
<circle cx="119.0" cy="414.1" r="1.45"/>
<circle cx="137.4" cy="414.1" r="1.45"/>
<circle cx="164.3" cy="413.7" r="1.45"/>
<circle cx="131.4" cy="417.7" r="1.45"/>
<circle cx="157.5" cy="419.4" r="1.45"/>
<circle cx="167.6" cy="417.7" r="1.45"/>
<circle cx="174.8" cy="419.4" r="1.45"/>
<circle cx="177.0" cy="417.7" r="1.45"/>
<circle cx="179.1" cy="421.1" r="1.45"/>
<circle cx="113.0" cy="431.0" r="1.45"/>
<circle cx="145.4" cy="429.3" r="1.45"/>
<circle cx="168.1" cy="425.7" r="1.45"/>
<circle cx="172.7" cy="427.2" r="1.45"/>
<circle cx="221.4" cy="396.5" r="1.45"/>
<circle cx="237.1" cy="402.9" r="1.45"/>
<circle cx="247.0" cy="406.3" r="1.45"/>
<circle cx="264.4" cy="409.9" r="1.45"/>
<circle cx="185.0" cy="411.3" r="1.45"/>
<circle cx="203.6" cy="411.3" r="1.45"/>
<circle cx="222.5" cy="413.7" r="1.45"/>
<circle cx="229.5" cy="415.1" r="1.45"/>
<circle cx="230.1" cy="414.1" r="1.45"/>
<circle cx="214.6" cy="420.0" r="1.45"/>
<circle cx="218.2" cy="419.4" r="1.45"/>
<circle cx="211.5" cy="429.3" r="1.45"/>
<circle cx="224.8" cy="427.2" r="1.45"/>
</g>
<polygon points="106.3,390.7 113.0,392.3 119.6,393.8 126.3,395.2 133.0,396.5 139.7,397.7 146.3,398.8 153.0,399.8 159.7,400.7 166.4,401.4 173.1,402.1 179.7,402.6 186.4,403.1 193.1,403.4 199.8,403.6 206.4,403.8 213.1,403.8 219.8,403.7 226.4,403.5 233.1,403.2 239.8,402.7 246.5,402.2 253.1,401.6 259.8,400.8 266.5,400.0 266.5,422.1 259.8,421.2 253.1,420.3 246.5,419.5 239.8,418.7 233.1,418.0 226.4,417.3 219.8,416.6 213.1,416.0 206.4,415.5 199.8,415.0 193.1,414.5 186.4,414.1 179.7,413.7 173.1,413.4 166.4,413.1 159.7,412.9 153.0,412.7 146.3,412.5 139.7,412.4 133.0,412.4 126.3,412.4 119.6,412.4 113.0,412.5 106.3,412.6" fill="#ff7f0e" fill-opacity="0.16"/>
<g fill="#2ca02c" opacity="0.9">
<circle cx="71.8" cy="390.8" r="1.45"/>
<circle cx="71.8" cy="396.5" r="1.45"/>
<circle cx="71.8" cy="398.6" r="1.45"/>
<circle cx="74.9" cy="402.0" r="1.45"/>
<circle cx="72.8" cy="414.1" r="1.45"/>
<circle cx="71.8" cy="420.4" r="1.45"/>
<circle cx="73.9" cy="418.7" r="1.45"/>
<circle cx="71.8" cy="429.3" r="1.45"/>
<circle cx="314.5" cy="341.1" r="1.45"/>
<circle cx="310.3" cy="380.9" r="1.45"/>
<circle cx="312.6" cy="392.5" r="1.45"/>
<circle cx="309.5" cy="396.5" r="1.45"/>
<circle cx="313.5" cy="400.3" r="1.45"/>
<circle cx="315.2" cy="402.0" r="1.45"/>
<circle cx="200.5" cy="398.2" r="1.45"/>
<circle cx="234.3" cy="406.3" r="1.45"/>
<circle cx="205.1" cy="406.7" r="1.45"/>
<circle cx="209.3" cy="406.7" r="1.45"/>
<circle cx="310.9" cy="407.7" r="1.45"/>
<circle cx="313.1" cy="408.8" r="1.45"/>
<circle cx="309.9" cy="409.9" r="1.45"/>
<circle cx="314.1" cy="409.9" r="1.45"/>
<circle cx="204.7" cy="413.7" r="1.45"/>
<circle cx="211.5" cy="413.7" r="1.45"/>
<circle cx="309.9" cy="413.0" r="1.45"/>
<circle cx="313.1" cy="413.0" r="1.45"/>
<circle cx="314.5" cy="413.0" r="1.45"/>
<circle cx="309.9" cy="417.3" r="1.45"/>
<circle cx="311.6" cy="416.2" r="1.45"/>
<circle cx="312.6" cy="417.9" r="1.45"/>
<circle cx="213.6" cy="420.0" r="1.45"/>
<circle cx="212.1" cy="421.9" r="1.45"/>
<circle cx="313.1" cy="419.4" r="1.45"/>
<circle cx="208.7" cy="425.5" r="1.45"/>
<circle cx="212.5" cy="427.2" r="1.45"/>
<circle cx="309.9" cy="427.2" r="1.45"/>
<circle cx="311.4" cy="429.3" r="1.45"/>
<circle cx="313.1" cy="431.0" r="1.45"/>
</g>
<polygon points="71.3,405.0 81.4,405.4 91.6,405.7 101.7,405.9 111.9,406.0 122.0,406.1 132.2,406.1 142.3,406.0 152.5,405.8 162.6,405.6 172.8,405.2 182.9,404.8 193.1,404.3 203.2,403.8 213.3,403.1 223.5,402.4 233.6,401.6 243.8,400.8 253.9,399.8 264.1,398.8 274.2,397.7 284.4,396.5 294.5,395.3 304.7,393.9 314.8,392.5 314.8,413.0 304.7,412.8 294.5,412.6 284.4,412.5 274.2,412.3 264.1,412.3 253.9,412.3 243.8,412.3 233.6,412.3 223.5,412.4 213.3,412.5 203.2,412.7 193.1,412.9 182.9,413.2 172.8,413.5 162.6,413.8 152.5,414.2 142.3,414.6 132.2,415.0 122.0,415.5 111.9,416.0 101.7,416.6 91.6,417.2 81.4,417.8 71.3,418.5" fill="#2ca02c" fill-opacity="0.16"/>
<g fill="#d62728" opacity="0.9">
<circle cx="84.3" cy="258.0" r="1.45"/>
<circle cx="53.5" cy="340.9" r="1.45"/>
<circle cx="87.0" cy="380.9" r="1.45"/>
<circle cx="57.6" cy="390.8" r="1.45"/>
<circle cx="70.7" cy="392.5" r="1.45"/>
<circle cx="53.8" cy="396.5" r="1.45"/>
<circle cx="55.9" cy="399.3" r="1.45"/>
<circle cx="54.8" cy="401.4" r="1.45"/>
<circle cx="95.5" cy="397.8" r="1.45"/>
<circle cx="53.8" cy="405.0" r="1.45"/>
<circle cx="56.5" cy="405.0" r="1.45"/>
<circle cx="70.3" cy="406.3" r="1.45"/>
<circle cx="84.5" cy="407.7" r="1.45"/>
<circle cx="53.3" cy="407.7" r="1.45"/>
<circle cx="53.3" cy="410.9" r="1.45"/>
<circle cx="53.3" cy="414.1" r="1.45"/>
<circle cx="53.3" cy="417.3" r="1.45"/>
<circle cx="53.3" cy="420.4" r="1.45"/>
<circle cx="53.3" cy="423.6" r="1.45"/>
<circle cx="53.3" cy="426.8" r="1.45"/>
<circle cx="61.2" cy="414.1" r="1.45"/>
<circle cx="86.6" cy="410.3" r="1.45"/>
<circle cx="148.0" cy="413.7" r="1.45"/>
<circle cx="59.1" cy="420.9" r="1.45"/>
<circle cx="68.6" cy="417.9" r="1.45"/>
<circle cx="61.2" cy="427.2" r="1.45"/>
<circle cx="101.0" cy="431.0" r="1.45"/>
</g>
<polygon points="52.9,404.0 56.8,401.5 60.8,398.9 64.7,396.3 68.7,393.7 72.6,391.1 76.5,388.4 80.5,385.7 84.4,383.0 88.4,380.2 92.3,377.5 96.3,374.7 100.2,371.9 104.1,369.0 108.1,366.1 112.0,363.2 116.0,360.3 119.9,357.4 123.8,354.4 127.8,351.4 131.7,348.4 135.7,345.3 139.6,342.2 143.6,339.1 147.5,336.0 147.5,419.6 143.6,419.1 139.6,418.7 135.7,418.2 131.7,417.8 127.8,417.4 123.8,417.0 119.9,416.6 116.0,416.3 112.0,415.9 108.1,415.6 104.1,415.3 100.2,415.0 96.3,414.7 92.3,414.5 88.4,414.3 84.4,414.1 80.5,413.9 76.5,413.7 72.6,413.5 68.7,413.4 64.7,413.3 60.8,413.2 56.8,413.1 52.9,413.0" fill="#d62728" fill-opacity="0.16"/>
</g>
<g clip-path="url(#c211)" stroke="#b0b0b0" stroke-width="0.9" fill="none" opacity="0.85">
<line x1="53.40" y1="249.30" x2="53.40" y2="439.60"/>
<line x1="106.78" y1="249.30" x2="106.78" y2="439.60"/>
<line x1="160.16" y1="249.30" x2="160.16" y2="439.60"/>
<line x1="213.54" y1="249.30" x2="213.54" y2="439.60"/>
<line x1="266.92" y1="249.30" x2="266.92" y2="439.60"/>
<line x1="320.30" y1="249.30" x2="320.30" y2="439.60"/>
<line x1="40.50" y1="411.20" x2="328.00" y2="411.20"/>
<line x1="40.50" y1="372.90" x2="328.00" y2="372.90"/>
<line x1="40.50" y1="334.60" x2="328.00" y2="334.60"/>
<line x1="40.50" y1="296.30" x2="328.00" y2="296.30"/>
<line x1="40.50" y1="258.00" x2="328.00" y2="258.00"/>
</g>
<g clip-path="url(#c211)">
<line x1="52.9" y1="410.0" x2="239.6" y2="401.6" stroke="#1f77b4" stroke-width="2.2"/>
<line x1="106.3" y1="401.7" x2="266.9" y2="414.5" stroke="#ff7f0e" stroke-width="2.2"/>
<line x1="71.3" y1="412.2" x2="315.2" y2="404.1" stroke="#2ca02c" stroke-width="2.2"/>
<line x1="52.9" y1="409.4" x2="147.5" y2="394.2" stroke="#d62728" stroke-width="2.2"/>
</g>
<rect x="165.0" y="254.5" width="158.3" height="61.6" rx="2.5" fill="#fff" fill-opacity="0.8" stroke="#d0d0d0" stroke-width="0.9"/>
<circle cx="179.7" cy="263.4" r="1.5" fill="#1f77b4"/>
<text x="198.2" y="265.7" font-size="11.85" fill="#262626">temperature (R: 0.09)</text>
<circle cx="179.7" cy="277.7" r="1.5" fill="#ff7f0e"/>
<text x="198.2" y="280.0" font-size="11.85" fill="#262626">humidity (R: -0.14)</text>
<circle cx="179.7" cy="292.0" r="1.5" fill="#2ca02c"/>
<text x="198.2" y="294.3" font-size="11.85" fill="#262626">light_intensity (R: 0.14)</text>
<circle cx="179.7" cy="306.3" r="1.5" fill="#d62728"/>
<text x="198.2" y="308.6" font-size="11.85" fill="#262626">wind_speed (R: 0.12)</text>
<rect x="40.50" y="249.30" width="287.50" height="190.30" fill="none" stroke="#505050" stroke-width="1.2"/>
<g stroke="#404040" stroke-width="1"><line x1="53.40" y1="439.60" x2="53.40" y2="443.10"/><line x1="106.78" y1="439.60" x2="106.78" y2="443.10"/><line x1="160.16" y1="439.60" x2="160.16" y2="443.10"/><line x1="213.54" y1="439.60" x2="213.54" y2="443.10"/><line x1="266.92" y1="439.60" x2="266.92" y2="443.10"/><line x1="320.30" y1="439.60" x2="320.30" y2="443.10"/><line x1="37.00" y1="411.20" x2="40.50" y2="411.20"/><line x1="37.00" y1="372.90" x2="40.50" y2="372.90"/><line x1="37.00" y1="334.60" x2="40.50" y2="334.60"/><line x1="37.00" y1="296.30" x2="40.50" y2="296.30"/><line x1="37.00" y1="258.00" x2="40.50" y2="258.00"/></g>
<text x="53.40" y="452.60" font-size="9.2" fill="#262626" text-anchor="middle">0.0</text>
<text x="106.78" y="452.60" font-size="9.2" fill="#262626" text-anchor="middle">0.2</text>
<text x="160.16" y="452.60" font-size="9.2" fill="#262626" text-anchor="middle">0.4</text>
<text x="213.54" y="452.60" font-size="9.2" fill="#262626" text-anchor="middle">0.6</text>
<text x="266.92" y="452.60" font-size="9.2" fill="#262626" text-anchor="middle">0.8</text>
<text x="320.30" y="452.60" font-size="9.2" fill="#262626" text-anchor="middle">1.0</text>
<text x="33.70" y="414.50" font-size="9.2" fill="#262626" text-anchor="end">0.2</text>
<text x="33.70" y="376.20" font-size="9.2" fill="#262626" text-anchor="end">0.4</text>
<text x="33.70" y="337.90" font-size="9.2" fill="#262626" text-anchor="end">0.6</text>
<text x="33.70" y="299.60" font-size="9.2" fill="#262626" text-anchor="end">0.8</text>
<text x="33.70" y="261.30" font-size="9.2" fill="#262626" text-anchor="end">1.0</text>
<text x="183.40" y="244.20" font-size="12.6" fill="#262626" text-anchor="middle" textLength="22.6" lengthAdjust="spacingAndGlyphs">211</text>
<text transform="translate(10.3,344.5) rotate(-90)" font-size="13" fill="#262626" text-anchor="middle" textLength="26.6" lengthAdjust="spacingAndGlyphs">Rate</text>
<circle cx="166.9" cy="457.6" r="0.6" fill="#555"/><circle cx="177.7" cy="457.6" r="0.6" fill="#555"/><circle cx="207.8" cy="457.6" r="0.6" fill="#555"/>
</g>
<g>
<clipPath id="c203"><rect x="391.20" y="249.20" width="287.10" height="190.40"/></clipPath>
<g clip-path="url(#c203)">
<g fill="#1f77b4" opacity="0.9">
<circle cx="435.6" cy="285.1" r="1.45"/>
<circle cx="430.5" cy="300.2" r="1.45"/>
<circle cx="450.3" cy="311.8" r="1.45"/>
<circle cx="415.7" cy="319.9" r="1.45"/>
<circle cx="404.7" cy="323.4" r="1.45"/>
<circle cx="504.3" cy="323.4" r="1.45"/>
<circle cx="469.7" cy="330.8" r="1.45"/>
<circle cx="517.5" cy="327.3" r="1.45"/>
<circle cx="468.2" cy="334.8" r="1.45"/>
<circle cx="448.5" cy="339.2" r="1.45"/>
<circle cx="404.3" cy="350.3" r="1.45"/>
<circle cx="429.9" cy="350.3" r="1.45"/>
<circle cx="520.1" cy="346.6" r="1.45"/>
<circle cx="467.6" cy="354.2" r="1.45"/>
<circle cx="418.3" cy="358.0" r="1.45"/>
<circle cx="448.5" cy="358.0" r="1.45"/>
<circle cx="528.0" cy="358.0" r="1.45"/>
<circle cx="447.0" cy="361.9" r="1.45"/>
<circle cx="430.5" cy="365.6" r="1.45"/>
<circle cx="439.3" cy="369.1" r="1.45"/>
<circle cx="448.1" cy="369.1" r="1.45"/>
<circle cx="454.6" cy="369.1" r="1.45"/>
<circle cx="466.0" cy="369.1" r="1.45"/>
<circle cx="496.7" cy="365.6" r="1.45"/>
<circle cx="439.3" cy="377.2" r="1.45"/>
<circle cx="467.1" cy="377.2" r="1.45"/>
<circle cx="441.3" cy="380.9" r="1.45"/>
<circle cx="428.8" cy="384.9" r="1.45"/>
<circle cx="505.4" cy="384.9" r="1.45"/>
<circle cx="512.4" cy="384.9" r="1.45"/>
<circle cx="432.5" cy="392.6" r="1.45"/>
<circle cx="437.6" cy="392.6" r="1.45"/>
<circle cx="474.3" cy="392.6" r="1.45"/>
<circle cx="482.9" cy="392.6" r="1.45"/>
<circle cx="512.4" cy="392.6" r="1.45"/>
<circle cx="521.9" cy="392.6" r="1.45"/>
<circle cx="457.3" cy="396.5" r="1.45"/>
<circle cx="515.9" cy="396.5" r="1.45"/>
<circle cx="519.7" cy="396.5" r="1.45"/>
<circle cx="450.7" cy="400.2" r="1.45"/>
<circle cx="452.4" cy="400.2" r="1.45"/>
<circle cx="428.8" cy="408.3" r="1.45"/>
<circle cx="491.2" cy="411.8" r="1.45"/>
<circle cx="455.7" cy="415.5" r="1.45"/>
<circle cx="418.9" cy="427.6" r="1.45"/>
<circle cx="453.5" cy="431.3" r="1.45"/>
<circle cx="560.6" cy="327.1" r="1.45"/>
<circle cx="547.0" cy="346.6" r="1.45"/>
<circle cx="538.3" cy="358.0" r="1.45"/>
</g>
<polygon points="404.3,364.0 411.9,363.8 419.4,363.4 427.0,362.8 434.6,362.1 442.1,361.3 449.7,360.3 457.2,359.2 464.8,357.9 472.4,356.5 479.9,354.9 487.5,353.2 495.0,351.3 502.6,349.3 510.2,347.1 517.7,344.8 525.3,342.3 532.9,339.7 540.4,337.0 548.0,334.1 555.5,331.0 563.1,327.8 570.7,324.4 578.2,320.9 585.8,317.3 585.8,378.3 578.2,375.2 570.7,372.5 563.1,370.0 555.5,367.9 548.0,366.1 540.4,364.6 532.9,363.4 525.3,362.6 517.7,362.0 510.2,361.8 502.6,361.9 495.0,362.3 487.5,363.0 479.9,364.1 472.4,365.4 464.8,367.1 457.2,369.1 449.7,371.4 442.1,374.1 434.6,377.0 427.0,380.3 419.4,383.9 411.9,387.8 404.3,392.0" fill="#1f77b4" fill-opacity="0.16"/>
<g fill="#ff7f0e" opacity="0.9">
<circle cx="491.6" cy="257.7" r="1.45"/>
<circle cx="477.0" cy="273.5" r="1.45"/>
<circle cx="467.1" cy="285.1" r="1.45"/>
<circle cx="479.6" cy="319.9" r="1.45"/>
<circle cx="456.6" cy="323.4" r="1.45"/>
<circle cx="499.5" cy="323.4" r="1.45"/>
<circle cx="478.7" cy="327.3" r="1.45"/>
<circle cx="502.2" cy="327.3" r="1.45"/>
<circle cx="487.3" cy="334.8" r="1.45"/>
<circle cx="497.3" cy="334.8" r="1.45"/>
<circle cx="456.6" cy="342.9" r="1.45"/>
<circle cx="519.7" cy="339.2" r="1.45"/>
<circle cx="456.6" cy="342.6" r="1.45"/>
<circle cx="503.2" cy="346.6" r="1.45"/>
<circle cx="515.3" cy="346.6" r="1.45"/>
<circle cx="501.1" cy="358.0" r="1.45"/>
<circle cx="514.2" cy="358.0" r="1.45"/>
<circle cx="520.1" cy="358.0" r="1.45"/>
<circle cx="524.1" cy="358.0" r="1.45"/>
<circle cx="529.5" cy="358.0" r="1.45"/>
<circle cx="521.9" cy="365.6" r="1.45"/>
<circle cx="493.4" cy="369.1" r="1.45"/>
<circle cx="499.5" cy="369.1" r="1.45"/>
<circle cx="515.3" cy="380.9" r="1.45"/>
<circle cx="514.2" cy="384.9" r="1.45"/>
<circle cx="533.2" cy="384.9" r="1.45"/>
<circle cx="456.6" cy="392.6" r="1.45"/>
<circle cx="510.9" cy="392.6" r="1.45"/>
<circle cx="528.9" cy="392.6" r="1.45"/>
<circle cx="516.4" cy="396.5" r="1.45"/>
<circle cx="478.7" cy="400.2" r="1.45"/>
<circle cx="517.0" cy="400.2" r="1.45"/>
<circle cx="512.0" cy="408.3" r="1.45"/>
<circle cx="509.8" cy="415.5" r="1.45"/>
<circle cx="456.6" cy="427.6" r="1.45"/>
<circle cx="479.8" cy="431.3" r="1.45"/>
<circle cx="543.8" cy="331.1" r="1.45"/>
<circle cx="551.4" cy="354.2" r="1.45"/>
<circle cx="555.4" cy="354.2" r="1.45"/>
<circle cx="586.5" cy="361.9" r="1.45"/>
<circle cx="560.2" cy="369.1" r="1.45"/>
<circle cx="563.5" cy="369.1" r="1.45"/>
<circle cx="551.0" cy="377.2" r="1.45"/>
<circle cx="562.8" cy="377.2" r="1.45"/>
<circle cx="553.0" cy="384.9" r="1.45"/>
<circle cx="542.7" cy="392.6" r="1.45"/>
<circle cx="573.3" cy="392.6" r="1.45"/>
<circle cx="589.3" cy="392.6" r="1.45"/>
<circle cx="549.7" cy="396.5" r="1.45"/>
<circle cx="553.6" cy="396.5" r="1.45"/>
<circle cx="542.7" cy="411.8" r="1.45"/>
</g>
<polygon points="456.2,321.8 461.7,325.0 467.2,328.1 472.8,331.0 478.3,333.7 483.8,336.3 489.3,338.7 494.8,341.0 500.3,343.2 505.9,345.1 511.4,347.0 516.9,348.6 522.4,350.2 527.9,351.5 533.4,352.7 539.0,353.8 544.5,354.7 550.0,355.4 555.5,356.0 561.0,356.5 566.5,356.8 572.0,356.9 577.6,356.9 583.1,356.7 588.6,356.4 588.6,393.6 583.1,390.8 577.6,388.2 572.0,385.6 566.5,383.2 561.0,380.9 555.5,378.7 550.0,376.6 544.5,374.6 539.0,372.8 533.4,371.0 527.9,369.4 522.4,367.9 516.9,366.5 511.4,365.3 505.9,364.1 500.3,363.1 494.8,362.2 489.3,361.4 483.8,360.7 478.3,360.1 472.8,359.7 467.2,359.3 461.7,359.1 456.2,359.0" fill="#ff7f0e" fill-opacity="0.16"/>
<g fill="#2ca02c" opacity="0.9">
<circle cx="428.1" cy="354.2" r="1.45"/>
<circle cx="425.1" cy="358.0" r="1.45"/>
<circle cx="427.7" cy="369.1" r="1.45"/>
<circle cx="426.6" cy="392.6" r="1.45"/>
<circle cx="429.9" cy="392.6" r="1.45"/>
<circle cx="426.6" cy="396.5" r="1.45"/>
<circle cx="428.4" cy="396.5" r="1.45"/>
<circle cx="426.6" cy="400.2" r="1.45"/>
<circle cx="425.1" cy="408.3" r="1.45"/>
<circle cx="424.4" cy="411.8" r="1.45"/>
<circle cx="560.6" cy="334.8" r="1.45"/>
<circle cx="660.3" cy="319.5" r="1.45"/>
<circle cx="658.1" cy="323.2" r="1.45"/>
<circle cx="660.9" cy="323.2" r="1.45"/>
<circle cx="665.3" cy="327.1" r="1.45"/>
<circle cx="660.3" cy="331.1" r="1.45"/>
<circle cx="663.5" cy="334.8" r="1.45"/>
<circle cx="659.8" cy="338.7" r="1.45"/>
<circle cx="662.4" cy="341.4" r="1.45"/>
<circle cx="556.2" cy="349.9" r="1.45"/>
<circle cx="560.8" cy="358.0" r="1.45"/>
<circle cx="574.4" cy="358.0" r="1.45"/>
<circle cx="558.0" cy="365.6" r="1.45"/>
<circle cx="573.3" cy="365.6" r="1.45"/>
<circle cx="571.6" cy="377.2" r="1.45"/>
<circle cx="563.5" cy="384.9" r="1.45"/>
<circle cx="565.0" cy="384.9" r="1.45"/>
<circle cx="572.2" cy="392.6" r="1.45"/>
<circle cx="554.7" cy="415.5" r="1.45"/>
<circle cx="660.9" cy="342.6" r="1.45"/>
<circle cx="664.2" cy="349.9" r="1.45"/>
<circle cx="661.6" cy="354.2" r="1.45"/>
<circle cx="659.8" cy="358.0" r="1.45"/>
<circle cx="665.7" cy="345.9" r="1.45"/>
<circle cx="661.6" cy="377.2" r="1.45"/>
<circle cx="661.6" cy="380.9" r="1.45"/>
<circle cx="660.9" cy="384.9" r="1.45"/>
<circle cx="663.1" cy="392.6" r="1.45"/>
<circle cx="664.6" cy="392.6" r="1.45"/>
<circle cx="665.7" cy="392.6" r="1.45"/>
<circle cx="663.5" cy="427.2" r="1.45"/>
<circle cx="662.0" cy="431.1" r="1.45"/>
</g>
<polygon points="424.0,377.0 434.1,376.8 444.1,376.5 454.2,376.0 464.3,375.4 474.4,374.6 484.4,373.7 494.5,372.6 504.6,371.4 514.6,370.0 524.7,368.5 534.8,366.8 544.9,365.0 554.9,363.0 565.0,360.9 575.1,358.7 585.1,356.3 595.2,353.7 605.3,351.0 615.3,348.2 625.4,345.2 635.5,342.0 645.6,338.7 655.6,335.3 665.7,331.7 665.7,357.5 655.6,358.7 645.6,359.9 635.5,361.2 625.4,362.5 615.3,363.9 605.3,365.3 595.2,366.7 585.1,368.2 575.1,369.7 565.0,371.2 554.9,372.8 544.9,374.4 534.8,376.1 524.7,377.8 514.6,379.5 504.6,381.3 494.5,383.2 484.4,385.0 474.4,386.9 464.3,388.9 454.2,390.8 444.1,392.8 434.1,394.9 424.0,397.0" fill="#2ca02c" fill-opacity="0.16"/>
<g fill="#d62728" opacity="0.9">
<circle cx="405.1" cy="257.7" r="1.45"/>
<circle cx="404.3" cy="273.5" r="1.45"/>
<circle cx="444.1" cy="285.1" r="1.45"/>
<circle cx="431.6" cy="292.5" r="1.45"/>
<circle cx="418.9" cy="300.2" r="1.45"/>
<circle cx="464.3" cy="311.8" r="1.45"/>
<circle cx="486.2" cy="319.9" r="1.45"/>
<circle cx="444.1" cy="323.4" r="1.45"/>
<circle cx="526.2" cy="323.4" r="1.45"/>
<circle cx="407.6" cy="330.8" r="1.45"/>
<circle cx="417.4" cy="327.3" r="1.45"/>
<circle cx="419.4" cy="327.3" r="1.45"/>
<circle cx="404.3" cy="334.8" r="1.45"/>
<circle cx="408.6" cy="334.8" r="1.45"/>
<circle cx="404.7" cy="342.9" r="1.45"/>
<circle cx="423.8" cy="339.2" r="1.45"/>
<circle cx="404.7" cy="342.6" r="1.45"/>
<circle cx="407.6" cy="346.6" r="1.45"/>
<circle cx="409.1" cy="346.6" r="1.45"/>
<circle cx="410.6" cy="346.6" r="1.45"/>
<circle cx="457.3" cy="350.3" r="1.45"/>
<circle cx="517.0" cy="349.9" r="1.45"/>
<circle cx="404.3" cy="354.2" r="1.45"/>
<circle cx="407.6" cy="354.2" r="1.45"/>
<circle cx="404.7" cy="358.0" r="1.45"/>
<circle cx="406.9" cy="358.0" r="1.45"/>
<circle cx="408.4" cy="358.0" r="1.45"/>
<circle cx="431.0" cy="358.0" r="1.45"/>
<circle cx="451.8" cy="358.0" r="1.45"/>
<circle cx="404.3" cy="361.9" r="1.45"/>
<circle cx="404.3" cy="365.6" r="1.45"/>
<circle cx="404.3" cy="369.1" r="1.45"/>
<circle cx="418.9" cy="369.1" r="1.45"/>
<circle cx="473.2" cy="369.1" r="1.45"/>
<circle cx="404.3" cy="372.8" r="1.45"/>
<circle cx="404.3" cy="377.2" r="1.45"/>
<circle cx="455.5" cy="377.2" r="1.45"/>
<circle cx="404.3" cy="380.9" r="1.45"/>
<circle cx="404.3" cy="384.9" r="1.45"/>
<circle cx="404.3" cy="392.6" r="1.45"/>
<circle cx="405.8" cy="392.6" r="1.45"/>
<circle cx="419.4" cy="392.6" r="1.45"/>
<circle cx="481.4" cy="392.6" r="1.45"/>
<circle cx="517.0" cy="392.6" r="1.45"/>
<circle cx="404.3" cy="396.5" r="1.45"/>
<circle cx="417.8" cy="396.5" r="1.45"/>
<circle cx="428.8" cy="400.2" r="1.45"/>
<circle cx="445.7" cy="400.2" r="1.45"/>
<circle cx="421.6" cy="408.3" r="1.45"/>
<circle cx="404.3" cy="411.8" r="1.45"/>
<circle cx="417.4" cy="415.5" r="1.45"/>
<circle cx="442.4" cy="427.6" r="1.45"/>
<circle cx="448.1" cy="431.3" r="1.45"/>
</g>
<polygon points="403.6,356.0 409.2,356.0 414.8,355.9 420.5,355.7 426.1,355.4 431.7,355.0 437.3,354.4 442.9,353.8 448.6,353.0 454.2,352.1 459.8,351.0 465.4,349.9 471.1,348.6 476.7,347.3 482.3,345.8 487.9,344.1 493.5,342.4 499.2,340.6 504.8,338.6 510.4,336.5 516.0,334.3 521.6,332.0 527.3,329.5 532.9,327.0 538.5,324.3 538.5,376.0 532.9,374.4 527.3,372.8 521.6,371.4 516.0,370.1 510.4,368.9 504.8,367.8 499.2,366.8 493.5,365.9 487.9,365.1 482.3,364.5 476.7,364.0 471.1,363.5 465.4,363.2 459.8,363.0 454.2,362.9 448.6,362.9 442.9,363.0 437.3,363.3 431.7,363.6 426.1,364.1 420.5,364.6 414.8,365.3 409.2,366.1 403.6,367.0" fill="#d62728" fill-opacity="0.16"/>
</g>
<g clip-path="url(#c203)" stroke="#b0b0b0" stroke-width="0.9" fill="none" opacity="0.85">
<line x1="404.10" y1="249.20" x2="404.10" y2="439.60"/>
<line x1="456.76" y1="249.20" x2="456.76" y2="439.60"/>
<line x1="509.42" y1="249.20" x2="509.42" y2="439.60"/>
<line x1="562.08" y1="249.20" x2="562.08" y2="439.60"/>
<line x1="614.74" y1="249.20" x2="614.74" y2="439.60"/>
<line x1="667.40" y1="249.20" x2="667.40" y2="439.60"/>
<line x1="391.20" y1="415.60" x2="678.30" y2="415.60"/>
<line x1="391.20" y1="377.15" x2="678.30" y2="377.15"/>
<line x1="391.20" y1="338.70" x2="678.30" y2="338.70"/>
<line x1="391.20" y1="300.25" x2="678.30" y2="300.25"/>
<line x1="391.20" y1="261.80" x2="678.30" y2="261.80"/>
</g>
<g clip-path="url(#c203)">
<line x1="404.3" y1="373.3" x2="586.5" y2="342.2" stroke="#1f77b4" stroke-width="2.2"/>
<line x1="456.2" y1="347.7" x2="589.3" y2="376.1" stroke="#ff7f0e" stroke-width="2.2"/>
<line x1="424.0" y1="387.7" x2="665.9" y2="345.9" stroke="#2ca02c" stroke-width="2.2"/>
<line x1="403.6" y1="361.5" x2="538.5" y2="350.6" stroke="#d62728" stroke-width="2.2"/>
</g>
<rect x="515.7" y="254.3" width="157.7" height="61.9" rx="2.5" fill="#fff" fill-opacity="0.8" stroke="#d0d0d0" stroke-width="0.9"/>
<circle cx="530.0" cy="263.6" r="1.5" fill="#1f77b4"/>
<text x="548.6" y="265.9" font-size="11.85" fill="#262626">temperature (R: 0.21)</text>
<circle cx="530.0" cy="277.9" r="1.5" fill="#ff7f0e"/>
<text x="548.6" y="280.2" font-size="11.85" fill="#262626">humidity (R: -0.20)</text>
<circle cx="530.0" cy="292.2" r="1.5" fill="#2ca02c"/>
<text x="548.6" y="294.5" font-size="11.85" fill="#262626">light_intensity (R: 0.45)</text>
<circle cx="530.0" cy="306.5" r="1.5" fill="#d62728"/>
<text x="548.6" y="308.8" font-size="11.85" fill="#262626">wind_speed (R: 0.07)</text>
<rect x="391.20" y="249.20" width="287.10" height="190.40" fill="none" stroke="#505050" stroke-width="1.2"/>
<g stroke="#404040" stroke-width="1"><line x1="404.10" y1="439.60" x2="404.10" y2="443.10"/><line x1="456.76" y1="439.60" x2="456.76" y2="443.10"/><line x1="509.42" y1="439.60" x2="509.42" y2="443.10"/><line x1="562.08" y1="439.60" x2="562.08" y2="443.10"/><line x1="614.74" y1="439.60" x2="614.74" y2="443.10"/><line x1="667.40" y1="439.60" x2="667.40" y2="443.10"/><line x1="387.70" y1="415.60" x2="391.20" y2="415.60"/><line x1="387.70" y1="377.15" x2="391.20" y2="377.15"/><line x1="387.70" y1="338.70" x2="391.20" y2="338.70"/><line x1="387.70" y1="300.25" x2="391.20" y2="300.25"/><line x1="387.70" y1="261.80" x2="391.20" y2="261.80"/></g>
<text x="404.10" y="452.60" font-size="9.2" fill="#262626" text-anchor="middle">0.0</text>
<text x="456.76" y="452.60" font-size="9.2" fill="#262626" text-anchor="middle">0.2</text>
<text x="509.42" y="452.60" font-size="9.2" fill="#262626" text-anchor="middle">0.4</text>
<text x="562.08" y="452.60" font-size="9.2" fill="#262626" text-anchor="middle">0.6</text>
<text x="614.74" y="452.60" font-size="9.2" fill="#262626" text-anchor="middle">0.8</text>
<text x="667.40" y="452.60" font-size="9.2" fill="#262626" text-anchor="middle">1.0</text>
<text x="384.40" y="418.90" font-size="9.2" fill="#262626" text-anchor="end">0.1</text>
<text x="384.40" y="380.45" font-size="9.2" fill="#262626" text-anchor="end">0.2</text>
<text x="384.40" y="342.00" font-size="9.2" fill="#262626" text-anchor="end">0.3</text>
<text x="384.40" y="303.55" font-size="9.2" fill="#262626" text-anchor="end">0.4</text>
<text x="384.40" y="265.10" font-size="9.2" fill="#262626" text-anchor="end">0.5</text>
<text x="538.20" y="244.10" font-size="12.6" fill="#262626" text-anchor="middle" textLength="22.6" lengthAdjust="spacingAndGlyphs">203</text>
<line x1="365.4" y1="333.5" x2="365.4" y2="358" stroke="#444" stroke-width="0.9" stroke-dasharray="2.5,3"/>
<circle cx="516.9" cy="457.6" r="0.6" fill="#555"/><circle cx="527.7" cy="457.6" r="0.6" fill="#555"/><circle cx="557.8" cy="457.6" r="0.6" fill="#555"/>
</g>
<g>
<clipPath id="c204"><rect x="40.50" y="488.30" width="287.70" height="189.50"/></clipPath>
<g clip-path="url(#c204)">
<g fill="#1f77b4" opacity="0.9">
<circle cx="62.1" cy="496.7" r="1.45"/>
<circle cx="64.8" cy="559.1" r="1.45"/>
<circle cx="92.4" cy="559.1" r="1.45"/>
<circle cx="77.8" cy="565.9" r="1.45"/>
<circle cx="77.0" cy="572.6" r="1.45"/>
<circle cx="137.2" cy="572.6" r="1.45"/>
<circle cx="149.9" cy="572.6" r="1.45"/>
<circle cx="122.1" cy="579.4" r="1.45"/>
<circle cx="135.0" cy="579.4" r="1.45"/>
<circle cx="122.1" cy="579.2" r="1.45"/>
<circle cx="135.3" cy="579.2" r="1.45"/>
<circle cx="53.3" cy="586.6" r="1.45"/>
<circle cx="63.9" cy="593.4" r="1.45"/>
<circle cx="155.4" cy="593.4" r="1.45"/>
<circle cx="88.3" cy="600.0" r="1.45"/>
<circle cx="92.3" cy="600.0" r="1.45"/>
<circle cx="115.1" cy="600.0" r="1.45"/>
<circle cx="148.4" cy="600.0" r="1.45"/>
<circle cx="65.4" cy="607.2" r="1.45"/>
<circle cx="101.0" cy="607.2" r="1.45"/>
<circle cx="137.4" cy="607.2" r="1.45"/>
<circle cx="152.2" cy="607.2" r="1.45"/>
<circle cx="92.3" cy="613.7" r="1.45"/>
<circle cx="105.6" cy="613.7" r="1.45"/>
<circle cx="142.0" cy="613.7" r="1.45"/>
<circle cx="65.0" cy="627.9" r="1.45"/>
<circle cx="66.9" cy="627.9" r="1.45"/>
<circle cx="107.7" cy="627.9" r="1.45"/>
<circle cx="59.1" cy="634.7" r="1.45"/>
<circle cx="83.8" cy="634.7" r="1.45"/>
<circle cx="167.4" cy="634.7" r="1.45"/>
<circle cx="97.8" cy="641.7" r="1.45"/>
<circle cx="53.3" cy="648.5" r="1.45"/>
<circle cx="68.2" cy="648.5" r="1.45"/>
<circle cx="63.3" cy="655.4" r="1.45"/>
<circle cx="72.8" cy="655.4" r="1.45"/>
<circle cx="140.1" cy="662.2" r="1.45"/>
<circle cx="160.0" cy="669.2" r="1.45"/>
<circle cx="254.4" cy="593.4" r="1.45"/>
<circle cx="193.9" cy="606.8" r="1.45"/>
<circle cx="205.1" cy="606.8" r="1.45"/>
<circle cx="200.9" cy="613.7" r="1.45"/>
<circle cx="186.1" cy="634.7" r="1.45"/>
<circle cx="255.9" cy="634.7" r="1.45"/>
<circle cx="179.7" cy="565.9" r="1.45"/>
<circle cx="222.4" cy="565.9" r="1.45"/>
<circle cx="259.9" cy="565.9" r="1.45"/>
<circle cx="213.5" cy="572.6" r="1.45"/>
<circle cx="245.9" cy="572.6" r="1.45"/>
</g>
<polygon points="53.3,599.0 61.9,599.6 70.5,600.1 79.2,600.4 87.8,600.5 96.4,600.5 105.0,600.4 113.6,600.0 122.2,599.6 130.8,598.9 139.5,598.2 148.1,597.2 156.7,596.1 165.3,594.9 173.9,593.5 182.6,591.9 191.2,590.2 199.8,588.4 208.4,586.4 217.0,584.2 225.6,581.9 234.2,579.4 242.9,576.7 251.5,573.9 260.1,571.0 260.1,612.0 251.5,610.7 242.9,609.5 234.2,608.4 225.6,607.5 217.0,606.8 208.4,606.2 199.8,605.7 191.2,605.4 182.6,605.3 173.9,605.3 165.3,605.4 156.7,605.7 148.1,606.1 139.5,606.7 130.8,607.4 122.2,608.3 113.6,609.3 105.0,610.4 96.4,611.8 87.8,613.2 79.2,614.8 70.5,616.6 61.9,618.5 53.3,620.5" fill="#1f77b4" fill-opacity="0.16"/>
<g fill="#ff7f0e" opacity="0.9">
<circle cx="128.3" cy="496.7" r="1.45"/>
<circle cx="115.3" cy="510.2" r="1.45"/>
<circle cx="107.2" cy="559.1" r="1.45"/>
<circle cx="117.5" cy="565.9" r="1.45"/>
<circle cx="124.2" cy="565.9" r="1.45"/>
<circle cx="107.5" cy="572.6" r="1.45"/>
<circle cx="118.0" cy="572.6" r="1.45"/>
<circle cx="163.4" cy="572.6" r="1.45"/>
<circle cx="116.1" cy="579.4" r="1.45"/>
<circle cx="125.6" cy="579.4" r="1.45"/>
<circle cx="116.6" cy="579.2" r="1.45"/>
<circle cx="125.7" cy="579.2" r="1.45"/>
<circle cx="152.8" cy="586.6" r="1.45"/>
<circle cx="119.4" cy="593.4" r="1.45"/>
<circle cx="178.6" cy="593.4" r="1.45"/>
<circle cx="144.4" cy="600.0" r="1.45"/>
<circle cx="164.9" cy="600.0" r="1.45"/>
<circle cx="167.6" cy="600.0" r="1.45"/>
<circle cx="107.3" cy="607.2" r="1.45"/>
<circle cx="133.1" cy="607.2" r="1.45"/>
<circle cx="142.0" cy="607.2" r="1.45"/>
<circle cx="167.6" cy="607.2" r="1.45"/>
<circle cx="119.4" cy="613.7" r="1.45"/>
<circle cx="121.5" cy="613.7" r="1.45"/>
<circle cx="123.0" cy="613.7" r="1.45"/>
<circle cx="164.9" cy="613.7" r="1.45"/>
<circle cx="172.9" cy="613.7" r="1.45"/>
<circle cx="128.5" cy="627.9" r="1.45"/>
<circle cx="170.2" cy="627.9" r="1.45"/>
<circle cx="133.1" cy="634.7" r="1.45"/>
<circle cx="135.3" cy="634.7" r="1.45"/>
<circle cx="154.9" cy="634.7" r="1.45"/>
<circle cx="107.3" cy="648.5" r="1.45"/>
<circle cx="111.3" cy="648.5" r="1.45"/>
<circle cx="162.8" cy="655.4" r="1.45"/>
<circle cx="123.2" cy="662.2" r="1.45"/>
<circle cx="198.3" cy="593.4" r="1.45"/>
<circle cx="213.6" cy="600.0" r="1.45"/>
<circle cx="221.4" cy="600.0" r="1.45"/>
<circle cx="197.7" cy="606.8" r="1.45"/>
<circle cx="254.4" cy="627.9" r="1.45"/>
<circle cx="221.6" cy="634.7" r="1.45"/>
<circle cx="231.6" cy="634.7" r="1.45"/>
<circle cx="224.2" cy="641.7" r="1.45"/>
<circle cx="235.4" cy="648.5" r="1.45"/>
<circle cx="259.1" cy="655.4" r="1.45"/>
<circle cx="202.6" cy="669.2" r="1.45"/>
<circle cx="202.1" cy="558.9" r="1.45"/>
<circle cx="200.8" cy="565.9" r="1.45"/>
<circle cx="163.5" cy="572.6" r="1.45"/>
<circle cx="216.7" cy="572.6" r="1.45"/>
</g>
<polygon points="106.7,580.0 113.1,582.5 119.4,584.9 125.8,587.2 132.1,589.3 138.5,591.3 144.8,593.1 151.2,594.9 157.5,596.5 163.9,597.9 170.2,599.2 176.6,600.4 182.9,601.5 189.3,602.4 195.6,603.2 202.0,603.8 208.3,604.3 214.7,604.7 221.0,604.9 227.4,605.1 233.7,605.0 240.1,604.9 246.4,604.6 252.8,604.2 259.1,603.6 259.1,642.3 252.8,639.3 246.4,636.4 240.1,633.7 233.7,631.0 227.4,628.4 221.0,625.9 214.7,623.5 208.3,621.2 202.0,618.9 195.6,616.8 189.3,614.8 182.9,612.9 176.6,611.0 170.2,609.3 163.9,607.6 157.5,606.1 151.2,604.6 144.8,603.2 138.5,602.0 132.1,600.8 125.8,599.7 119.4,598.7 113.1,597.8 106.7,597.0" fill="#ff7f0e" fill-opacity="0.16"/>
<g fill="#2ca02c" opacity="0.9">
<circle cx="65.6" cy="544.8" r="1.45"/>
<circle cx="66.7" cy="544.8" r="1.45"/>
<circle cx="66.2" cy="559.1" r="1.45"/>
<circle cx="61.6" cy="565.9" r="1.45"/>
<circle cx="65.6" cy="572.6" r="1.45"/>
<circle cx="66.9" cy="586.6" r="1.45"/>
<circle cx="184.6" cy="593.4" r="1.45"/>
<circle cx="61.2" cy="600.0" r="1.45"/>
<circle cx="178.6" cy="600.0" r="1.45"/>
<circle cx="182.2" cy="600.0" r="1.45"/>
<circle cx="61.2" cy="634.7" r="1.45"/>
<circle cx="184.6" cy="634.7" r="1.45"/>
<circle cx="66.5" cy="648.5" r="1.45"/>
<circle cx="61.2" cy="669.2" r="1.45"/>
<circle cx="311.4" cy="579.2" r="1.45"/>
<circle cx="243.6" cy="593.4" r="1.45"/>
<circle cx="304.6" cy="593.4" r="1.45"/>
<circle cx="312.6" cy="593.4" r="1.45"/>
<circle cx="302.9" cy="600.0" r="1.45"/>
<circle cx="306.7" cy="600.0" r="1.45"/>
<circle cx="307.8" cy="600.0" r="1.45"/>
<circle cx="310.9" cy="606.8" r="1.45"/>
<circle cx="193.9" cy="613.7" r="1.45"/>
<circle cx="301.4" cy="613.7" r="1.45"/>
<circle cx="311.4" cy="613.7" r="1.45"/>
<circle cx="312.6" cy="613.7" r="1.45"/>
<circle cx="192.4" cy="627.9" r="1.45"/>
<circle cx="196.6" cy="627.9" r="1.45"/>
<circle cx="303.5" cy="627.9" r="1.45"/>
<circle cx="307.1" cy="634.7" r="1.45"/>
<circle cx="312.0" cy="634.7" r="1.45"/>
<circle cx="302.9" cy="641.7" r="1.45"/>
<circle cx="195.6" cy="648.5" r="1.45"/>
<circle cx="187.1" cy="655.4" r="1.45"/>
<circle cx="301.4" cy="655.4" r="1.45"/>
<circle cx="310.9" cy="662.2" r="1.45"/>
<circle cx="300.4" cy="558.9" r="1.45"/>
<circle cx="311.2" cy="565.9" r="1.45"/>
<circle cx="313.4" cy="565.9" r="1.45"/>
<circle cx="315.3" cy="565.9" r="1.45"/>
<circle cx="305.8" cy="572.6" r="1.45"/>
<circle cx="311.2" cy="572.6" r="1.45"/>
<circle cx="315.3" cy="572.6" r="1.45"/>
<circle cx="311.2" cy="579.4" r="1.45"/>
</g>
<polygon points="59.7,598.3 70.3,599.2 80.9,600.0 91.6,600.6 102.2,601.1 112.8,601.5 123.4,601.7 134.0,601.8 144.7,601.7 155.3,601.6 165.9,601.2 176.5,600.8 187.2,600.2 197.8,599.5 208.4,598.6 219.0,597.6 229.6,596.4 240.3,595.2 250.9,593.7 261.5,592.2 272.1,590.5 282.7,588.7 293.4,586.7 304.0,584.6 314.6,582.4 314.6,607.8 304.0,607.3 293.4,607.0 282.7,606.8 272.1,606.7 261.5,606.7 250.9,606.9 240.3,607.1 229.6,607.5 219.0,608.0 208.4,608.6 197.8,609.4 187.2,610.2 176.5,611.2 165.9,612.3 155.3,613.6 144.7,614.9 134.0,616.4 123.4,618.0 112.8,619.7 102.2,621.5 91.6,623.4 80.9,625.5 70.3,627.7 59.7,630.0" fill="#2ca02c" fill-opacity="0.16"/>
<g fill="#d62728" opacity="0.9">
<circle cx="132.9" cy="496.7" r="1.45"/>
<circle cx="91.0" cy="510.2" r="1.45"/>
<circle cx="60.0" cy="544.8" r="1.45"/>
<circle cx="67.5" cy="559.1" r="1.45"/>
<circle cx="68.3" cy="559.1" r="1.45"/>
<circle cx="125.0" cy="559.1" r="1.45"/>
<circle cx="53.2" cy="565.9" r="1.45"/>
<circle cx="73.5" cy="565.9" r="1.45"/>
<circle cx="75.6" cy="565.9" r="1.45"/>
<circle cx="129.6" cy="565.9" r="1.45"/>
<circle cx="131.5" cy="565.9" r="1.45"/>
<circle cx="54.0" cy="572.6" r="1.45"/>
<circle cx="55.9" cy="572.6" r="1.45"/>
<circle cx="58.9" cy="572.6" r="1.45"/>
<circle cx="69.7" cy="572.6" r="1.45"/>
<circle cx="133.1" cy="572.6" r="1.45"/>
<circle cx="73.7" cy="579.4" r="1.45"/>
<circle cx="169.3" cy="579.4" r="1.45"/>
<circle cx="73.9" cy="579.2" r="1.45"/>
<circle cx="169.1" cy="579.2" r="1.45"/>
<circle cx="130.6" cy="586.6" r="1.45"/>
<circle cx="53.3" cy="593.4" r="1.45"/>
<circle cx="61.8" cy="593.4" r="1.45"/>
<circle cx="81.3" cy="593.4" r="1.45"/>
<circle cx="105.2" cy="593.4" r="1.45"/>
<circle cx="112.0" cy="593.4" r="1.45"/>
<circle cx="53.3" cy="600.0" r="1.45"/>
<circle cx="54.8" cy="600.0" r="1.45"/>
<circle cx="56.5" cy="600.0" r="1.45"/>
<circle cx="97.2" cy="600.0" r="1.45"/>
<circle cx="131.7" cy="600.0" r="1.45"/>
<circle cx="53.3" cy="607.2" r="1.45"/>
<circle cx="69.6" cy="607.2" r="1.45"/>
<circle cx="83.4" cy="607.2" r="1.45"/>
<circle cx="97.8" cy="607.2" r="1.45"/>
<circle cx="53.3" cy="613.7" r="1.45"/>
<circle cx="60.1" cy="613.7" r="1.45"/>
<circle cx="131.4" cy="613.7" r="1.45"/>
<circle cx="145.2" cy="613.7" r="1.45"/>
<circle cx="154.9" cy="613.7" r="1.45"/>
<circle cx="53.3" cy="627.9" r="1.45"/>
<circle cx="100.3" cy="627.9" r="1.45"/>
<circle cx="175.5" cy="627.9" r="1.45"/>
<circle cx="53.3" cy="634.7" r="1.45"/>
<circle cx="56.9" cy="634.7" r="1.45"/>
<circle cx="87.6" cy="634.7" r="1.45"/>
<circle cx="63.9" cy="641.7" r="1.45"/>
<circle cx="61.2" cy="648.5" r="1.45"/>
<circle cx="93.6" cy="648.5" r="1.45"/>
<circle cx="95.5" cy="648.5" r="1.45"/>
<circle cx="53.3" cy="655.4" r="1.45"/>
<circle cx="116.6" cy="655.4" r="1.45"/>
<circle cx="110.9" cy="662.2" r="1.45"/>
<circle cx="53.3" cy="669.2" r="1.45"/>
<circle cx="194.5" cy="600.0" r="1.45"/>
<circle cx="168.9" cy="579.4" r="1.45"/>
</g>
<polygon points="53.3,593.0 59.2,593.7 65.1,594.3 71.0,594.6 76.8,594.8 82.7,594.7 88.6,594.5 94.5,594.1 100.4,593.4 106.3,592.6 112.2,591.6 118.1,590.4 124.0,589.0 129.8,587.4 135.7,585.6 141.6,583.6 147.5,581.4 153.4,579.1 159.3,576.5 165.2,573.7 171.1,570.8 176.9,567.6 182.8,564.3 188.7,560.7 194.6,557.0 194.6,614.0 188.7,612.5 182.8,611.0 176.9,609.7 171.1,608.5 165.2,607.5 159.3,606.5 153.4,605.7 147.5,604.9 141.6,604.3 135.7,603.8 129.8,603.4 124.0,603.2 118.1,603.0 112.2,603.0 106.3,603.1 100.4,603.3 94.5,603.6 88.6,604.0 82.7,604.5 76.8,605.2 71.0,606.0 65.1,606.9 59.2,607.9 53.3,609.0" fill="#d62728" fill-opacity="0.16"/>
</g>
<g clip-path="url(#c204)" stroke="#b0b0b0" stroke-width="0.9" fill="none" opacity="0.85">
<line x1="53.40" y1="488.30" x2="53.40" y2="677.80"/>
<line x1="107.20" y1="488.30" x2="107.20" y2="677.80"/>
<line x1="161.00" y1="488.30" x2="161.00" y2="677.80"/>
<line x1="214.80" y1="488.30" x2="214.80" y2="677.80"/>
<line x1="268.60" y1="488.30" x2="268.60" y2="677.80"/>
<line x1="322.40" y1="488.30" x2="322.40" y2="677.80"/>
<line x1="40.50" y1="655.60" x2="328.20" y2="655.60"/>
<line x1="40.50" y1="621.02" x2="328.20" y2="621.02"/>
<line x1="40.50" y1="586.45" x2="328.20" y2="586.45"/>
<line x1="40.50" y1="551.88" x2="328.20" y2="551.88"/>
<line x1="40.50" y1="517.30" x2="328.20" y2="517.30"/>
</g>
<g clip-path="url(#c204)">
<line x1="53.3" y1="607.2" x2="260.6" y2="589.8" stroke="#1f77b4" stroke-width="2.2"/>
<line x1="106.7" y1="588.8" x2="259.5" y2="625.2" stroke="#ff7f0e" stroke-width="2.2"/>
<line x1="59.7" y1="612.5" x2="315.6" y2="595.1" stroke="#2ca02c" stroke-width="2.2"/>
<line x1="53.3" y1="605.3" x2="195.2" y2="589.8" stroke="#d62728" stroke-width="2.2"/>
</g>
<rect x="165.0" y="493.0" width="157.8" height="61.3" rx="2.5" fill="#fff" fill-opacity="0.8" stroke="#d0d0d0" stroke-width="0.9"/>
<circle cx="179.7" cy="502.0" r="1.5" fill="#1f77b4"/>
<text x="198.0" y="504.3" font-size="11.85" fill="#262626">temperature (R: 0.14)</text>
<circle cx="179.7" cy="516.3" r="1.5" fill="#ff7f0e"/>
<text x="198.0" y="518.6" font-size="11.85" fill="#262626">humidity (R: -0.30)</text>
<circle cx="179.7" cy="530.6" r="1.5" fill="#2ca02c"/>
<text x="198.0" y="532.9" font-size="11.85" fill="#262626">light_intensity (R: 0.20)</text>
<circle cx="179.7" cy="544.9" r="1.5" fill="#d62728"/>
<text x="198.0" y="547.2" font-size="11.85" fill="#262626">wind_speed (R: 0.12)</text>
<rect x="40.50" y="488.30" width="287.70" height="189.50" fill="none" stroke="#505050" stroke-width="1.2"/>
<g stroke="#404040" stroke-width="1"><line x1="53.40" y1="677.80" x2="53.40" y2="681.30"/><line x1="107.20" y1="677.80" x2="107.20" y2="681.30"/><line x1="161.00" y1="677.80" x2="161.00" y2="681.30"/><line x1="214.80" y1="677.80" x2="214.80" y2="681.30"/><line x1="268.60" y1="677.80" x2="268.60" y2="681.30"/><line x1="322.40" y1="677.80" x2="322.40" y2="681.30"/><line x1="37.00" y1="655.60" x2="40.50" y2="655.60"/><line x1="37.00" y1="621.02" x2="40.50" y2="621.02"/><line x1="37.00" y1="586.45" x2="40.50" y2="586.45"/><line x1="37.00" y1="551.88" x2="40.50" y2="551.88"/><line x1="37.00" y1="517.30" x2="40.50" y2="517.30"/></g>
<text x="53.40" y="690.80" font-size="9.2" fill="#262626" text-anchor="middle">0.0</text>
<text x="107.20" y="690.80" font-size="9.2" fill="#262626" text-anchor="middle">0.2</text>
<text x="161.00" y="690.80" font-size="9.2" fill="#262626" text-anchor="middle">0.4</text>
<text x="214.80" y="690.80" font-size="9.2" fill="#262626" text-anchor="middle">0.6</text>
<text x="268.60" y="690.80" font-size="9.2" fill="#262626" text-anchor="middle">0.8</text>
<text x="322.40" y="690.80" font-size="9.2" fill="#262626" text-anchor="middle">1.0</text>
<text x="33.70" y="658.90" font-size="9.2" fill="#262626" text-anchor="end">0.15</text>
<text x="33.70" y="624.32" font-size="9.2" fill="#262626" text-anchor="end">0.20</text>
<text x="33.70" y="589.75" font-size="9.2" fill="#262626" text-anchor="end">0.25</text>
<text x="33.70" y="555.17" font-size="9.2" fill="#262626" text-anchor="end">0.30</text>
<text x="33.70" y="520.60" font-size="9.2" fill="#262626" text-anchor="end">0.35</text>
<text x="183.50" y="483.00" font-size="12.6" fill="#262626" text-anchor="middle" textLength="22.6" lengthAdjust="spacingAndGlyphs">204</text>
<text transform="translate(10.3,583.0) rotate(-90)" font-size="13" fill="#262626" text-anchor="middle" textLength="26.6" lengthAdjust="spacingAndGlyphs">Rate</text>
<circle cx="166.9" cy="695.6" r="0.6" fill="#555"/><circle cx="177.7" cy="695.6" r="0.6" fill="#555"/><circle cx="207.8" cy="695.6" r="0.6" fill="#555"/>
</g>
<g>
<clipPath id="c209"><rect x="396.00" y="488.10" width="287.20" height="189.50"/></clipPath>
<g clip-path="url(#c209)">
<g fill="#1f77b4" opacity="0.9">
<circle cx="510.0" cy="496.4" r="1.45"/>
<circle cx="423.9" cy="572.6" r="1.45"/>
<circle cx="432.7" cy="572.6" r="1.45"/>
<circle cx="492.3" cy="572.6" r="1.45"/>
<circle cx="414.1" cy="582.9" r="1.45"/>
<circle cx="414.1" cy="583.1" r="1.45"/>
<circle cx="413.4" cy="593.6" r="1.45"/>
<circle cx="432.0" cy="588.6" r="1.45"/>
<circle cx="473.9" cy="593.6" r="1.45"/>
<circle cx="491.2" cy="593.6" r="1.45"/>
<circle cx="409.3" cy="599.1" r="1.45"/>
<circle cx="455.7" cy="599.1" r="1.45"/>
<circle cx="449.8" cy="604.6" r="1.45"/>
<circle cx="535.6" cy="604.6" r="1.45"/>
<circle cx="409.3" cy="610.0" r="1.45"/>
<circle cx="435.5" cy="610.0" r="1.45"/>
<circle cx="501.7" cy="610.0" r="1.45"/>
<circle cx="415.2" cy="615.5" r="1.45"/>
<circle cx="413.0" cy="620.5" r="1.45"/>
<circle cx="422.2" cy="620.5" r="1.45"/>
<circle cx="457.2" cy="620.5" r="1.45"/>
<circle cx="443.6" cy="626.0" r="1.45"/>
<circle cx="445.8" cy="626.0" r="1.45"/>
<circle cx="512.0" cy="626.0" r="1.45"/>
<circle cx="410.8" cy="631.5" r="1.45"/>
<circle cx="422.4" cy="631.5" r="1.45"/>
<circle cx="425.5" cy="631.5" r="1.45"/>
<circle cx="448.5" cy="631.5" r="1.45"/>
<circle cx="453.5" cy="637.0" r="1.45"/>
<circle cx="472.6" cy="637.0" r="1.45"/>
<circle cx="417.8" cy="642.2" r="1.45"/>
<circle cx="423.9" cy="642.2" r="1.45"/>
<circle cx="429.4" cy="642.2" r="1.45"/>
<circle cx="449.1" cy="642.2" r="1.45"/>
<circle cx="479.3" cy="642.2" r="1.45"/>
<circle cx="416.3" cy="653.2" r="1.45"/>
<circle cx="409.7" cy="658.6" r="1.45"/>
<circle cx="417.8" cy="658.6" r="1.45"/>
<circle cx="420.7" cy="658.6" r="1.45"/>
<circle cx="422.4" cy="658.6" r="1.45"/>
<circle cx="462.9" cy="663.7" r="1.45"/>
<circle cx="418.5" cy="669.6" r="1.45"/>
<circle cx="570.7" cy="599.1" r="1.45"/>
<circle cx="576.6" cy="620.5" r="1.45"/>
<circle cx="608.8" cy="620.5" r="1.45"/>
<circle cx="556.5" cy="637.4" r="1.45"/>
<circle cx="559.1" cy="647.7" r="1.45"/>
</g>
<polygon points="409.3,615.5 417.6,616.6 425.9,617.4 434.1,618.0 442.4,618.2 450.7,618.2 458.9,617.8 467.2,617.2 475.5,616.3 483.8,615.2 492.1,613.7 500.3,611.9 508.6,609.9 516.9,607.6 525.1,604.9 533.4,602.0 541.7,598.8 550.0,595.4 558.2,591.6 566.5,587.5 574.8,583.2 583.1,578.6 591.3,573.7 599.6,568.5 607.9,563.0 607.9,622.7 599.6,622.2 591.3,621.7 583.1,621.3 574.8,621.0 566.5,620.8 558.2,620.7 550.0,620.6 541.7,620.6 533.4,620.8 525.1,620.9 516.9,621.2 508.6,621.6 500.3,622.0 492.1,622.5 483.8,623.1 475.5,623.7 467.2,624.5 458.9,625.3 450.7,626.2 442.4,627.2 434.1,628.3 425.9,629.5 417.6,630.7 409.3,632.0" fill="#1f77b4" fill-opacity="0.16"/>
<g fill="#ff7f0e" opacity="0.9">
<circle cx="484.8" cy="496.4" r="1.45"/>
<circle cx="482.4" cy="534.3" r="1.45"/>
<circle cx="469.5" cy="572.6" r="1.45"/>
<circle cx="475.0" cy="572.6" r="1.45"/>
<circle cx="538.9" cy="572.6" r="1.45"/>
<circle cx="487.4" cy="582.9" r="1.45"/>
<circle cx="487.4" cy="583.1" r="1.45"/>
<circle cx="467.1" cy="593.6" r="1.45"/>
<circle cx="475.4" cy="588.6" r="1.45"/>
<circle cx="477.6" cy="593.6" r="1.45"/>
<circle cx="535.0" cy="593.6" r="1.45"/>
<circle cx="459.4" cy="599.1" r="1.45"/>
<circle cx="501.2" cy="599.1" r="1.45"/>
<circle cx="472.6" cy="604.6" r="1.45"/>
<circle cx="485.7" cy="604.6" r="1.45"/>
<circle cx="508.2" cy="604.6" r="1.45"/>
<circle cx="479.3" cy="610.0" r="1.45"/>
<circle cx="491.8" cy="620.5" r="1.45"/>
<circle cx="495.5" cy="620.5" r="1.45"/>
<circle cx="509.3" cy="620.5" r="1.45"/>
<circle cx="478.2" cy="626.0" r="1.45"/>
<circle cx="485.7" cy="626.0" r="1.45"/>
<circle cx="498.0" cy="626.0" r="1.45"/>
<circle cx="451.8" cy="631.5" r="1.45"/>
<circle cx="482.0" cy="631.5" r="1.45"/>
<circle cx="490.7" cy="631.5" r="1.45"/>
<circle cx="495.1" cy="631.5" r="1.45"/>
<circle cx="497.3" cy="631.5" r="1.45"/>
<circle cx="519.2" cy="631.5" r="1.45"/>
<circle cx="457.2" cy="637.0" r="1.45"/>
<circle cx="519.2" cy="637.0" r="1.45"/>
<circle cx="462.3" cy="642.2" r="1.45"/>
<circle cx="504.5" cy="642.2" r="1.45"/>
<circle cx="522.5" cy="642.2" r="1.45"/>
<circle cx="536.3" cy="642.2" r="1.45"/>
<circle cx="538.9" cy="642.2" r="1.45"/>
<circle cx="481.3" cy="647.7" r="1.45"/>
<circle cx="496.2" cy="658.6" r="1.45"/>
<circle cx="503.9" cy="658.6" r="1.45"/>
<circle cx="470.4" cy="663.7" r="1.45"/>
<circle cx="499.9" cy="669.6" r="1.45"/>
<circle cx="535.7" cy="593.6" r="1.45"/>
<circle cx="545.5" cy="599.1" r="1.45"/>
<circle cx="543.3" cy="610.0" r="1.45"/>
<circle cx="561.7" cy="610.0" r="1.45"/>
<circle cx="540.5" cy="620.5" r="1.45"/>
<circle cx="556.5" cy="626.0" r="1.45"/>
<circle cx="540.5" cy="637.4" r="1.45"/>
<circle cx="536.1" cy="642.2" r="1.45"/>
<circle cx="538.7" cy="642.2" r="1.45"/>
<circle cx="562.8" cy="642.2" r="1.45"/>
<circle cx="590.8" cy="653.2" r="1.45"/>
<circle cx="594.8" cy="658.6" r="1.45"/>
<circle cx="580.3" cy="669.2" r="1.45"/>
<circle cx="539.7" cy="572.6" r="1.45"/>
</g>
<polygon points="449.1,594.7 455.2,597.5 461.2,600.2 467.3,602.7 473.4,605.0 479.5,607.2 485.5,609.3 491.6,611.2 497.7,612.9 503.7,614.5 509.8,615.9 515.9,617.2 522.0,618.3 528.0,619.3 534.1,620.1 540.2,620.8 546.2,621.3 552.3,621.7 558.4,621.9 564.4,621.9 570.5,621.8 576.6,621.6 582.7,621.2 588.7,620.6 594.8,619.9 594.8,651.6 588.7,649.8 582.7,648.0 576.6,646.3 570.5,644.6 564.4,642.9 558.4,641.3 552.3,639.8 546.2,638.2 540.2,636.7 534.1,635.2 528.0,633.8 522.0,632.4 515.9,631.1 509.8,629.8 503.7,628.5 497.7,627.3 491.6,626.1 485.5,624.9 479.5,623.8 473.4,622.7 467.3,621.7 461.2,620.7 455.2,619.7 449.1,618.8" fill="#ff7f0e" fill-opacity="0.16"/>
<g fill="#2ca02c" opacity="0.9">
<circle cx="445.4" cy="572.6" r="1.45"/>
<circle cx="443.6" cy="610.0" r="1.45"/>
<circle cx="445.8" cy="610.0" r="1.45"/>
<circle cx="440.8" cy="626.0" r="1.45"/>
<circle cx="442.6" cy="631.5" r="1.45"/>
<circle cx="444.3" cy="631.5" r="1.45"/>
<circle cx="467.1" cy="631.5" r="1.45"/>
<circle cx="441.9" cy="642.2" r="1.45"/>
<circle cx="443.0" cy="642.2" r="1.45"/>
<circle cx="443.6" cy="658.6" r="1.45"/>
<circle cx="445.2" cy="658.6" r="1.45"/>
<circle cx="448.0" cy="669.6" r="1.45"/>
<circle cx="567.8" cy="583.1" r="1.45"/>
<circle cx="569.4" cy="588.6" r="1.45"/>
<circle cx="573.8" cy="599.1" r="1.45"/>
<circle cx="666.4" cy="593.6" r="1.45"/>
<circle cx="667.9" cy="593.6" r="1.45"/>
<circle cx="670.3" cy="599.1" r="1.45"/>
<circle cx="665.9" cy="604.6" r="1.45"/>
<circle cx="670.3" cy="604.6" r="1.45"/>
<circle cx="578.8" cy="610.0" r="1.45"/>
<circle cx="669.0" cy="615.5" r="1.45"/>
<circle cx="570.0" cy="620.5" r="1.45"/>
<circle cx="609.5" cy="620.5" r="1.45"/>
<circle cx="667.0" cy="620.5" r="1.45"/>
<circle cx="668.6" cy="620.5" r="1.45"/>
<circle cx="670.1" cy="620.5" r="1.45"/>
<circle cx="567.8" cy="626.0" r="1.45"/>
<circle cx="661.6" cy="626.0" r="1.45"/>
<circle cx="669.7" cy="626.0" r="1.45"/>
<circle cx="567.8" cy="631.5" r="1.45"/>
<circle cx="669.0" cy="631.5" r="1.45"/>
<circle cx="577.7" cy="637.4" r="1.45"/>
<circle cx="666.4" cy="637.4" r="1.45"/>
<circle cx="568.9" cy="642.2" r="1.45"/>
<circle cx="667.0" cy="642.2" r="1.45"/>
<circle cx="669.7" cy="642.2" r="1.45"/>
<circle cx="570.0" cy="647.7" r="1.45"/>
<circle cx="577.0" cy="653.2" r="1.45"/>
<circle cx="573.3" cy="658.6" r="1.45"/>
<circle cx="668.1" cy="658.6" r="1.45"/>
<circle cx="578.1" cy="669.2" r="1.45"/>
<circle cx="670.1" cy="663.7" r="1.45"/>
<circle cx="666.1" cy="572.6" r="1.45"/>
<circle cx="667.4" cy="572.6" r="1.45"/>
<circle cx="567.5" cy="582.6" r="1.45"/>
</g>
<polygon points="439.3,625.4 448.9,625.5 458.5,625.5 468.2,625.5 477.8,625.2 487.4,624.9 497.0,624.5 506.6,624.0 516.2,623.3 525.9,622.6 535.5,621.7 545.1,620.7 554.7,619.6 564.3,618.4 573.9,617.1 583.5,615.7 593.2,614.2 602.8,612.6 612.4,610.8 622.0,609.0 631.6,607.0 641.2,604.9 650.9,602.7 660.5,600.4 670.1,598.0 670.1,617.7 660.5,618.7 650.9,619.7 641.2,620.7 631.6,621.7 622.0,622.8 612.4,623.9 602.8,624.9 593.2,626.0 583.5,627.2 573.9,628.3 564.3,629.5 554.7,630.7 545.1,631.8 535.5,633.1 525.9,634.3 516.2,635.5 506.6,636.8 497.0,638.1 487.4,639.4 477.8,640.7 468.2,642.1 458.5,643.4 448.9,644.8 439.3,646.2" fill="#2ca02c" fill-opacity="0.16"/>
<g fill="#d62728" opacity="0.9">
<circle cx="499.1" cy="496.4" r="1.45"/>
<circle cx="503.4" cy="534.3" r="1.45"/>
<circle cx="409.7" cy="572.6" r="1.45"/>
<circle cx="491.2" cy="572.6" r="1.45"/>
<circle cx="521.4" cy="572.6" r="1.45"/>
<circle cx="450.9" cy="582.9" r="1.45"/>
<circle cx="450.9" cy="583.1" r="1.45"/>
<circle cx="417.4" cy="593.6" r="1.45"/>
<circle cx="419.1" cy="593.6" r="1.45"/>
<circle cx="421.3" cy="588.6" r="1.45"/>
<circle cx="421.3" cy="599.1" r="1.45"/>
<circle cx="453.9" cy="599.1" r="1.45"/>
<circle cx="464.0" cy="599.1" r="1.45"/>
<circle cx="422.2" cy="604.6" r="1.45"/>
<circle cx="465.1" cy="604.6" r="1.45"/>
<circle cx="499.5" cy="604.6" r="1.45"/>
<circle cx="410.4" cy="610.0" r="1.45"/>
<circle cx="451.3" cy="610.0" r="1.45"/>
<circle cx="471.0" cy="615.5" r="1.45"/>
<circle cx="511.5" cy="615.5" r="1.45"/>
<circle cx="409.3" cy="620.5" r="1.45"/>
<circle cx="436.0" cy="620.5" r="1.45"/>
<circle cx="457.2" cy="626.0" r="1.45"/>
<circle cx="414.1" cy="631.5" r="1.45"/>
<circle cx="418.5" cy="631.5" r="1.45"/>
<circle cx="435.5" cy="631.5" r="1.45"/>
<circle cx="478.2" cy="631.5" r="1.45"/>
<circle cx="411.5" cy="637.0" r="1.45"/>
<circle cx="416.3" cy="637.0" r="1.45"/>
<circle cx="442.6" cy="637.0" r="1.45"/>
<circle cx="409.3" cy="642.2" r="1.45"/>
<circle cx="410.8" cy="642.2" r="1.45"/>
<circle cx="411.9" cy="642.2" r="1.45"/>
<circle cx="442.6" cy="642.2" r="1.45"/>
<circle cx="469.3" cy="642.2" r="1.45"/>
<circle cx="484.6" cy="642.2" r="1.45"/>
<circle cx="409.3" cy="647.7" r="1.45"/>
<circle cx="409.7" cy="653.2" r="1.45"/>
<circle cx="429.9" cy="658.6" r="1.45"/>
<circle cx="469.9" cy="658.6" r="1.45"/>
<circle cx="414.5" cy="663.7" r="1.45"/>
<circle cx="409.7" cy="669.6" r="1.45"/>
<circle cx="452.0" cy="669.6" r="1.45"/>
<circle cx="549.7" cy="631.5" r="1.45"/>
<circle cx="555.8" cy="642.2" r="1.45"/>
<circle cx="521.6" cy="572.6" r="1.45"/>
</g>
<polygon points="409.3,623.0 415.4,621.8 421.5,620.5 427.6,619.0 433.7,617.4 439.8,615.7 445.9,613.8 452.0,611.8 458.1,609.6 464.2,607.3 470.3,604.9 476.4,602.3 482.5,599.6 488.7,596.7 494.8,593.7 500.9,590.6 507.0,587.3 513.1,583.9 519.2,580.3 525.3,576.6 531.4,572.8 537.5,568.8 543.6,564.7 549.7,560.4 555.8,556.0 555.8,622.0 549.7,621.1 543.6,620.3 537.5,619.6 531.4,619.0 525.3,618.6 519.2,618.2 513.1,618.0 507.0,617.9 500.9,618.0 494.8,618.1 488.7,618.4 482.5,618.8 476.4,619.3 470.3,620.0 464.2,620.7 458.1,621.6 452.0,622.6 445.9,623.7 439.8,625.0 433.7,626.3 427.6,627.8 421.5,629.4 415.4,631.2 409.3,633.0" fill="#d62728" fill-opacity="0.16"/>
</g>
<g clip-path="url(#c209)" stroke="#b0b0b0" stroke-width="0.9" fill="none" opacity="0.85">
<line x1="409.40" y1="488.10" x2="409.40" y2="677.60"/>
<line x1="462.08" y1="488.10" x2="462.08" y2="677.60"/>
<line x1="514.76" y1="488.10" x2="514.76" y2="677.60"/>
<line x1="567.44" y1="488.10" x2="567.44" y2="677.60"/>
<line x1="620.12" y1="488.10" x2="620.12" y2="677.60"/>
<line x1="672.80" y1="488.10" x2="672.80" y2="677.60"/>
<line x1="396.00" y1="658.50" x2="683.20" y2="658.50"/>
<line x1="396.00" y1="631.48" x2="683.20" y2="631.48"/>
<line x1="396.00" y1="604.47" x2="683.20" y2="604.47"/>
<line x1="396.00" y1="577.45" x2="683.20" y2="577.45"/>
<line x1="396.00" y1="550.43" x2="683.20" y2="550.43"/>
<line x1="396.00" y1="523.42" x2="683.20" y2="523.42"/>
<line x1="396.00" y1="496.40" x2="683.20" y2="496.40"/>
</g>
<g clip-path="url(#c209)">
<line x1="409.3" y1="626.5" x2="608.8" y2="599.1" stroke="#1f77b4" stroke-width="2.2"/>
<line x1="449.1" y1="608.3" x2="595.2" y2="640.0" stroke="#ff7f0e" stroke-width="2.2"/>
<line x1="439.3" y1="634.8" x2="670.3" y2="610.7" stroke="#2ca02c" stroke-width="2.2"/>
<line x1="409.3" y1="628.6" x2="556.5" y2="591.9" stroke="#d62728" stroke-width="2.2"/>
</g>
<rect x="520.5" y="493.2" width="157.7" height="61.1" rx="2.5" fill="#fff" fill-opacity="0.8" stroke="#d0d0d0" stroke-width="0.9"/>
<circle cx="534.8" cy="502.2" r="1.5" fill="#1f77b4"/>
<text x="553.5" y="504.5" font-size="11.85" fill="#262626">temperature (R: 0.17)</text>
<circle cx="534.8" cy="516.5" r="1.5" fill="#ff7f0e"/>
<text x="553.5" y="518.8" font-size="11.85" fill="#262626">humidity (R: -0.16)</text>
<circle cx="534.8" cy="530.8" r="1.5" fill="#2ca02c"/>
<text x="553.5" y="533.1" font-size="11.85" fill="#262626">light_intensity (R: 0.22)</text>
<circle cx="534.8" cy="545.1" r="1.5" fill="#d62728"/>
<text x="553.5" y="547.4" font-size="11.85" fill="#262626">wind_speed (R: 0.33)</text>
<rect x="396.00" y="488.10" width="287.20" height="189.50" fill="none" stroke="#505050" stroke-width="1.2"/>
<g stroke="#404040" stroke-width="1"><line x1="409.40" y1="677.60" x2="409.40" y2="681.10"/><line x1="462.08" y1="677.60" x2="462.08" y2="681.10"/><line x1="514.76" y1="677.60" x2="514.76" y2="681.10"/><line x1="567.44" y1="677.60" x2="567.44" y2="681.10"/><line x1="620.12" y1="677.60" x2="620.12" y2="681.10"/><line x1="672.80" y1="677.60" x2="672.80" y2="681.10"/><line x1="392.50" y1="658.50" x2="396.00" y2="658.50"/><line x1="392.50" y1="631.48" x2="396.00" y2="631.48"/><line x1="392.50" y1="604.47" x2="396.00" y2="604.47"/><line x1="392.50" y1="577.45" x2="396.00" y2="577.45"/><line x1="392.50" y1="550.43" x2="396.00" y2="550.43"/><line x1="392.50" y1="523.42" x2="396.00" y2="523.42"/><line x1="392.50" y1="496.40" x2="396.00" y2="496.40"/></g>
<text x="409.40" y="690.60" font-size="9.2" fill="#262626" text-anchor="middle">0.0</text>
<text x="462.08" y="690.60" font-size="9.2" fill="#262626" text-anchor="middle">0.2</text>
<text x="514.76" y="690.60" font-size="9.2" fill="#262626" text-anchor="middle">0.4</text>
<text x="567.44" y="690.60" font-size="9.2" fill="#262626" text-anchor="middle">0.6</text>
<text x="620.12" y="690.60" font-size="9.2" fill="#262626" text-anchor="middle">0.8</text>
<text x="672.80" y="690.60" font-size="9.2" fill="#262626" text-anchor="middle">1.0</text>
<text x="389.20" y="661.80" font-size="9.2" fill="#262626" text-anchor="end">0.15</text>
<text x="389.20" y="634.78" font-size="9.2" fill="#262626" text-anchor="end">0.20</text>
<text x="389.20" y="607.77" font-size="9.2" fill="#262626" text-anchor="end">0.25</text>
<text x="389.20" y="580.75" font-size="9.2" fill="#262626" text-anchor="end">0.30</text>
<text x="389.20" y="553.73" font-size="9.2" fill="#262626" text-anchor="end">0.35</text>
<text x="389.20" y="526.72" font-size="9.2" fill="#262626" text-anchor="end">0.40</text>
<text x="389.20" y="499.70" font-size="9.2" fill="#262626" text-anchor="end">0.45</text>
<text x="539.00" y="483.00" font-size="12.6" fill="#262626" text-anchor="middle" textLength="22.6" lengthAdjust="spacingAndGlyphs">209</text>
<line x1="365.5" y1="570" x2="365.5" y2="594" stroke="#444" stroke-width="0.9" stroke-dasharray="2.5,3"/>
<circle cx="521.9" cy="695.6" r="0.6" fill="#555"/><circle cx="532.7" cy="695.6" r="0.6" fill="#555"/><circle cx="562.8" cy="695.6" r="0.6" fill="#555"/>
</g>
<g>
<clipPath id="c214"><rect x="40.50" y="726.20" width="287.70" height="190.10"/></clipPath>
<g clip-path="url(#c214)">
<g fill="#1f77b4" opacity="0.9">
<circle cx="118.8" cy="817.8" r="1.45"/>
<circle cx="119.0" cy="817.5" r="1.45"/>
<circle cx="162.4" cy="845.3" r="1.45"/>
<circle cx="62.2" cy="852.7" r="1.45"/>
<circle cx="80.2" cy="858.4" r="1.45"/>
<circle cx="120.0" cy="858.4" r="1.45"/>
<circle cx="90.2" cy="865.2" r="1.45"/>
<circle cx="110.5" cy="865.2" r="1.45"/>
<circle cx="166.4" cy="865.2" r="1.45"/>
<circle cx="95.0" cy="869.0" r="1.45"/>
<circle cx="107.7" cy="869.0" r="1.45"/>
<circle cx="56.9" cy="872.2" r="1.45"/>
<circle cx="71.8" cy="870.5" r="1.45"/>
<circle cx="112.6" cy="872.6" r="1.45"/>
<circle cx="62.2" cy="882.1" r="1.45"/>
<circle cx="63.7" cy="882.1" r="1.45"/>
<circle cx="113.5" cy="889.1" r="1.45"/>
<circle cx="54.4" cy="892.9" r="1.45"/>
<circle cx="60.5" cy="896.5" r="1.45"/>
<circle cx="70.3" cy="895.0" r="1.45"/>
<circle cx="79.6" cy="898.6" r="1.45"/>
<circle cx="85.5" cy="900.3" r="1.45"/>
<circle cx="88.3" cy="902.2" r="1.45"/>
<circle cx="94.4" cy="900.3" r="1.45"/>
<circle cx="108.4" cy="896.5" r="1.45"/>
<circle cx="118.7" cy="898.6" r="1.45"/>
<circle cx="180.8" cy="898.6" r="1.45"/>
<circle cx="64.8" cy="902.2" r="1.45"/>
<circle cx="74.9" cy="902.2" r="1.45"/>
<circle cx="77.0" cy="903.9" r="1.45"/>
<circle cx="72.4" cy="907.7" r="1.45"/>
<circle cx="107.3" cy="903.9" r="1.45"/>
<circle cx="212.9" cy="876.4" r="1.45"/>
<circle cx="193.5" cy="887.0" r="1.45"/>
</g>
<polygon points="53.3,880.0 59.9,878.9 66.5,877.7 73.1,876.3 79.7,874.8 86.3,873.2 92.8,871.4 99.4,869.5 106.0,867.4 112.6,865.2 119.2,862.9 125.8,860.4 132.4,857.8 139.0,855.1 145.6,852.2 152.2,849.2 158.8,846.1 165.4,842.8 171.9,839.4 178.5,835.8 185.1,832.1 191.7,828.3 198.3,824.3 204.9,820.2 211.5,816.0 211.5,879.0 204.9,879.3 198.3,879.7 191.7,880.1 185.1,880.5 178.5,881.0 171.9,881.6 165.4,882.2 158.8,882.8 152.2,883.5 145.6,884.3 139.0,885.1 132.4,885.9 125.8,886.8 119.2,887.8 112.6,888.8 106.0,889.8 99.4,890.9 92.8,892.1 86.3,893.3 79.7,894.5 73.1,895.8 66.5,897.2 59.9,898.6 53.3,900.0" fill="#1f77b4" fill-opacity="0.16"/>
<g fill="#ff7f0e" opacity="0.9">
<circle cx="136.9" cy="734.9" r="1.45"/>
<circle cx="176.4" cy="817.8" r="1.45"/>
<circle cx="176.5" cy="817.5" r="1.45"/>
<circle cx="173.4" cy="845.3" r="1.45"/>
<circle cx="163.8" cy="852.7" r="1.45"/>
<circle cx="147.5" cy="858.4" r="1.45"/>
<circle cx="184.6" cy="858.4" r="1.45"/>
<circle cx="158.5" cy="865.2" r="1.45"/>
<circle cx="134.8" cy="869.0" r="1.45"/>
<circle cx="103.1" cy="872.6" r="1.45"/>
<circle cx="112.0" cy="877.4" r="1.45"/>
<circle cx="128.5" cy="887.6" r="1.45"/>
<circle cx="171.2" cy="883.8" r="1.45"/>
<circle cx="124.0" cy="896.5" r="1.45"/>
<circle cx="124.0" cy="898.2" r="1.45"/>
<circle cx="128.5" cy="892.9" r="1.45"/>
<circle cx="132.5" cy="898.6" r="1.45"/>
<circle cx="138.0" cy="898.6" r="1.45"/>
<circle cx="148.0" cy="900.3" r="1.45"/>
<circle cx="152.2" cy="896.5" r="1.45"/>
<circle cx="154.3" cy="900.3" r="1.45"/>
<circle cx="152.2" cy="902.2" r="1.45"/>
<circle cx="160.7" cy="892.9" r="1.45"/>
<circle cx="167.0" cy="902.2" r="1.45"/>
<circle cx="177.6" cy="896.5" r="1.45"/>
<circle cx="176.5" cy="898.6" r="1.45"/>
<circle cx="174.8" cy="907.7" r="1.45"/>
<circle cx="193.9" cy="865.2" r="1.45"/>
<circle cx="202.6" cy="869.0" r="1.45"/>
<circle cx="224.8" cy="865.2" r="1.45"/>
<circle cx="215.7" cy="871.1" r="1.45"/>
<circle cx="246.4" cy="872.6" r="1.45"/>
<circle cx="236.9" cy="877.9" r="1.45"/>
<circle cx="231.6" cy="889.5" r="1.45"/>
<circle cx="214.0" cy="892.9" r="1.45"/>
<circle cx="246.0" cy="895.0" r="1.45"/>
<circle cx="186.1" cy="900.3" r="1.45"/>
<circle cx="193.9" cy="903.9" r="1.45"/>
<circle cx="212.5" cy="902.2" r="1.45"/>
<circle cx="222.0" cy="904.3" r="1.45"/>
<circle cx="209.8" cy="895.0" r="1.45"/>
<circle cx="176.5" cy="817.8" r="1.45"/>
</g>
<polygon points="101.0,853.1 107.1,855.5 113.1,857.8 119.2,859.9 125.2,861.9 131.3,863.7 137.3,865.4 143.4,866.9 149.5,868.3 155.5,869.6 161.6,870.7 167.6,871.7 173.7,872.5 179.8,873.2 185.8,873.7 191.9,874.1 197.9,874.3 204.0,874.4 210.1,874.4 216.1,874.2 222.2,873.9 228.2,873.4 234.3,872.8 240.3,872.0 246.4,871.1 246.4,891.2 240.3,890.1 234.3,889.2 228.2,888.3 222.2,887.5 216.1,886.7 210.1,886.1 204.0,885.5 197.9,885.1 191.9,884.7 185.8,884.4 179.8,884.2 173.7,884.0 167.6,884.0 161.6,884.0 155.5,884.2 149.5,884.4 143.4,884.7 137.3,885.0 131.3,885.5 125.2,886.1 119.2,886.7 113.1,887.4 107.1,888.2 101.0,889.1" fill="#ff7f0e" fill-opacity="0.16"/>
<g fill="#2ca02c" opacity="0.9">
<circle cx="76.4" cy="865.2" r="1.45"/>
<circle cx="78.1" cy="865.2" r="1.45"/>
<circle cx="79.2" cy="871.1" r="1.45"/>
<circle cx="80.2" cy="872.6" r="1.45"/>
<circle cx="78.7" cy="889.1" r="1.45"/>
<circle cx="74.9" cy="895.0" r="1.45"/>
<circle cx="77.0" cy="900.7" r="1.45"/>
<circle cx="78.1" cy="898.6" r="1.45"/>
<circle cx="223.1" cy="817.5" r="1.45"/>
<circle cx="211.0" cy="845.3" r="1.45"/>
<circle cx="205.1" cy="852.7" r="1.45"/>
<circle cx="224.2" cy="858.4" r="1.45"/>
<circle cx="222.0" cy="895.0" r="1.45"/>
<circle cx="223.1" cy="893.3" r="1.45"/>
<circle cx="208.3" cy="907.7" r="1.45"/>
<circle cx="215.3" cy="902.2" r="1.45"/>
<circle cx="221.6" cy="902.2" r="1.45"/>
<circle cx="211.0" cy="896.5" r="1.45"/>
<circle cx="308.8" cy="858.4" r="1.45"/>
<circle cx="313.1" cy="858.4" r="1.45"/>
<circle cx="313.1" cy="865.2" r="1.45"/>
<circle cx="311.4" cy="869.0" r="1.45"/>
<circle cx="313.1" cy="869.0" r="1.45"/>
<circle cx="312.0" cy="872.2" r="1.45"/>
<circle cx="313.1" cy="874.3" r="1.45"/>
<circle cx="311.4" cy="876.4" r="1.45"/>
<circle cx="306.3" cy="882.1" r="1.45"/>
<circle cx="313.5" cy="882.1" r="1.45"/>
<circle cx="315.2" cy="887.4" r="1.45"/>
<circle cx="307.8" cy="892.9" r="1.45"/>
<circle cx="309.3" cy="892.9" r="1.45"/>
<circle cx="310.3" cy="896.5" r="1.45"/>
<circle cx="314.1" cy="896.5" r="1.45"/>
<circle cx="314.8" cy="898.6" r="1.45"/>
<circle cx="310.9" cy="900.3" r="1.45"/>
<circle cx="312.0" cy="900.3" r="1.45"/>
<circle cx="311.4" cy="903.9" r="1.45"/>
<circle cx="222.9" cy="817.8" r="1.45"/>
</g>
<polygon points="74.9,875.3 84.9,875.9 94.9,876.4 104.9,876.8 115.0,877.2 125.0,877.4 135.0,877.5 145.0,877.6 155.0,877.5 165.0,877.3 175.0,877.1 185.0,876.7 195.1,876.3 205.1,875.7 215.1,875.1 225.1,874.3 235.1,873.5 245.1,872.6 255.1,871.5 265.1,870.4 275.1,869.2 285.2,867.8 295.2,866.4 305.2,864.9 315.2,863.3 315.2,888.0 305.2,887.5 295.2,887.1 285.2,886.7 275.1,886.3 265.1,886.0 255.1,885.7 245.1,885.5 235.1,885.3 225.1,885.2 215.1,885.1 205.1,885.0 195.1,885.0 185.0,885.0 175.0,885.1 165.0,885.2 155.0,885.3 145.0,885.5 135.0,885.7 125.0,886.0 115.0,886.3 104.9,886.7 94.9,887.1 84.9,887.5 74.9,888.0" fill="#2ca02c" fill-opacity="0.16"/>
<g fill="#d62728" opacity="0.9">
<circle cx="71.6" cy="734.9" r="1.45"/>
<circle cx="140.4" cy="817.8" r="1.45"/>
<circle cx="140.5" cy="817.5" r="1.45"/>
<circle cx="53.3" cy="845.3" r="1.45"/>
<circle cx="76.4" cy="852.7" r="1.45"/>
<circle cx="53.3" cy="858.4" r="1.45"/>
<circle cx="55.2" cy="858.4" r="1.45"/>
<circle cx="140.5" cy="858.4" r="1.45"/>
<circle cx="142.2" cy="858.4" r="1.45"/>
<circle cx="53.3" cy="865.2" r="1.45"/>
<circle cx="54.8" cy="865.2" r="1.45"/>
<circle cx="61.2" cy="865.2" r="1.45"/>
<circle cx="53.3" cy="869.0" r="1.45"/>
<circle cx="56.5" cy="869.0" r="1.45"/>
<circle cx="53.3" cy="872.2" r="1.45"/>
<circle cx="63.9" cy="872.2" r="1.45"/>
<circle cx="85.5" cy="874.3" r="1.45"/>
<circle cx="53.3" cy="876.4" r="1.45"/>
<circle cx="65.0" cy="882.1" r="1.45"/>
<circle cx="57.6" cy="883.8" r="1.45"/>
<circle cx="79.2" cy="878.5" r="1.45"/>
<circle cx="73.9" cy="887.6" r="1.45"/>
<circle cx="53.3" cy="892.9" r="1.45"/>
<circle cx="59.1" cy="898.6" r="1.45"/>
<circle cx="78.1" cy="896.5" r="1.45"/>
<circle cx="114.5" cy="898.6" r="1.45"/>
<circle cx="117.3" cy="896.5" r="1.45"/>
<circle cx="151.1" cy="896.5" r="1.45"/>
<circle cx="164.5" cy="900.3" r="1.45"/>
<circle cx="184.6" cy="892.9" r="1.45"/>
<circle cx="53.3" cy="900.3" r="1.45"/>
<circle cx="53.3" cy="902.8" r="1.45"/>
<circle cx="55.2" cy="901.8" r="1.45"/>
<circle cx="72.8" cy="900.3" r="1.45"/>
<circle cx="105.0" cy="904.3" r="1.45"/>
<circle cx="53.3" cy="907.7" r="1.45"/>
<circle cx="200.5" cy="892.9" r="1.45"/>
<circle cx="204.1" cy="896.5" r="1.45"/>
<circle cx="228.4" cy="898.6" r="1.45"/>
</g>
<polygon points="53.3,866.0 61.2,867.2 69.0,868.4 76.9,869.5 84.8,870.5 92.7,871.4 100.5,872.3 108.4,873.0 116.3,873.8 124.1,874.4 132.0,875.0 139.9,875.5 147.8,875.9 155.6,876.2 163.5,876.5 171.4,876.7 179.2,876.9 187.1,876.9 195.0,876.9 202.8,876.8 210.7,876.7 218.6,876.4 226.5,876.1 234.3,875.7 242.2,875.3 242.2,903.9 234.3,902.5 226.5,901.1 218.6,899.8 210.7,898.5 202.8,897.2 195.0,896.0 187.1,894.9 179.2,893.7 171.4,892.7 163.5,891.7 155.6,890.7 147.8,889.7 139.9,888.8 132.0,888.0 124.1,887.2 116.3,886.4 108.4,885.7 100.5,885.1 92.7,884.4 84.8,883.9 76.9,883.3 69.0,882.8 61.2,882.4 53.3,882.0" fill="#d62728" fill-opacity="0.16"/>
</g>
<g clip-path="url(#c214)" stroke="#b0b0b0" stroke-width="0.9" fill="none" opacity="0.85">
<line x1="53.40" y1="726.20" x2="53.40" y2="916.30"/>
<line x1="105.88" y1="726.20" x2="105.88" y2="916.30"/>
<line x1="158.36" y1="726.20" x2="158.36" y2="916.30"/>
<line x1="210.84" y1="726.20" x2="210.84" y2="916.30"/>
<line x1="263.32" y1="726.20" x2="263.32" y2="916.30"/>
<line x1="315.80" y1="726.20" x2="315.80" y2="916.30"/>
<line x1="40.50" y1="882.30" x2="328.20" y2="882.30"/>
<line x1="40.50" y1="845.45" x2="328.20" y2="845.45"/>
<line x1="40.50" y1="808.60" x2="328.20" y2="808.60"/>
<line x1="40.50" y1="771.75" x2="328.20" y2="771.75"/>
<line x1="40.50" y1="734.90" x2="328.20" y2="734.90"/>
</g>
<g clip-path="url(#c214)">
<line x1="53.3" y1="889.5" x2="212.5" y2="856.3" stroke="#1f77b4" stroke-width="2.2"/>
<line x1="100.3" y1="874.7" x2="246.8" y2="884.9" stroke="#ff7f0e" stroke-width="2.2"/>
<line x1="74.9" y1="882.7" x2="315.6" y2="877.9" stroke="#2ca02c" stroke-width="2.2"/>
<line x1="53.3" y1="876.4" x2="243.2" y2="893.3" stroke="#d62728" stroke-width="2.2"/>
</g>
<rect x="165.0" y="731.2" width="157.8" height="61.7" rx="2.5" fill="#fff" fill-opacity="0.8" stroke="#d0d0d0" stroke-width="0.9"/>
<circle cx="179.7" cy="740.3" r="1.5" fill="#1f77b4"/>
<text x="198.0" y="742.6" font-size="11.85" fill="#262626">temperature (R: 0.35)</text>
<circle cx="179.7" cy="754.6" r="1.5" fill="#ff7f0e"/>
<text x="198.0" y="756.9" font-size="11.85" fill="#262626">humidity (R: -0.03)</text>
<circle cx="179.7" cy="768.9" r="1.5" fill="#2ca02c"/>
<text x="198.0" y="771.2" font-size="11.85" fill="#262626">light_intensity (R: 0.00)</text>
<circle cx="179.7" cy="783.2" r="1.5" fill="#d62728"/>
<text x="198.0" y="785.5" font-size="11.85" fill="#262626">wind_speed (R: -0.15)</text>
<rect x="40.50" y="726.20" width="287.70" height="190.10" fill="none" stroke="#505050" stroke-width="1.2"/>
<g stroke="#404040" stroke-width="1"><line x1="53.40" y1="916.30" x2="53.40" y2="919.80"/><line x1="105.88" y1="916.30" x2="105.88" y2="919.80"/><line x1="158.36" y1="916.30" x2="158.36" y2="919.80"/><line x1="210.84" y1="916.30" x2="210.84" y2="919.80"/><line x1="263.32" y1="916.30" x2="263.32" y2="919.80"/><line x1="315.80" y1="916.30" x2="315.80" y2="919.80"/><line x1="37.00" y1="882.30" x2="40.50" y2="882.30"/><line x1="37.00" y1="845.45" x2="40.50" y2="845.45"/><line x1="37.00" y1="808.60" x2="40.50" y2="808.60"/><line x1="37.00" y1="771.75" x2="40.50" y2="771.75"/><line x1="37.00" y1="734.90" x2="40.50" y2="734.90"/></g>
<text x="53.40" y="929.30" font-size="9.2" fill="#262626" text-anchor="middle">0.0</text>
<text x="105.88" y="929.30" font-size="9.2" fill="#262626" text-anchor="middle">0.2</text>
<text x="158.36" y="929.30" font-size="9.2" fill="#262626" text-anchor="middle">0.4</text>
<text x="210.84" y="929.30" font-size="9.2" fill="#262626" text-anchor="middle">0.6</text>
<text x="263.32" y="929.30" font-size="9.2" fill="#262626" text-anchor="middle">0.8</text>
<text x="315.80" y="929.30" font-size="9.2" fill="#262626" text-anchor="middle">1.0</text>
<text x="33.70" y="885.60" font-size="9.2" fill="#262626" text-anchor="end">0.2</text>
<text x="33.70" y="848.75" font-size="9.2" fill="#262626" text-anchor="end">0.4</text>
<text x="33.70" y="811.90" font-size="9.2" fill="#262626" text-anchor="end">0.6</text>
<text x="33.70" y="775.05" font-size="9.2" fill="#262626" text-anchor="end">0.8</text>
<text x="33.70" y="738.20" font-size="9.2" fill="#262626" text-anchor="end">1.0</text>
<text x="183.50" y="721.20" font-size="12.6" fill="#262626" text-anchor="middle" textLength="22.6" lengthAdjust="spacingAndGlyphs">214</text>
<text transform="translate(10.3,821.0) rotate(-90)" font-size="13" fill="#262626" text-anchor="middle" textLength="26.6" lengthAdjust="spacingAndGlyphs">Rate</text>
<circle cx="166.9" cy="934.2" r="0.6" fill="#555"/><circle cx="177.7" cy="934.2" r="0.6" fill="#555"/><circle cx="207.8" cy="934.2" r="0.6" fill="#555"/>
</g>
<g>
<clipPath id="c213"><rect x="396.00" y="726.40" width="287.00" height="189.90"/></clipPath>
<g clip-path="url(#c213)">
<g fill="#1f77b4" opacity="0.9">
<circle cx="483.7" cy="734.9" r="1.45"/>
<circle cx="468.2" cy="744.1" r="1.45"/>
<circle cx="417.4" cy="752.8" r="1.45"/>
<circle cx="460.7" cy="762.0" r="1.45"/>
<circle cx="409.3" cy="771.5" r="1.45"/>
<circle cx="479.3" cy="780.7" r="1.45"/>
<circle cx="418.9" cy="789.4" r="1.45"/>
<circle cx="505.4" cy="789.4" r="1.45"/>
<circle cx="413.4" cy="798.4" r="1.45"/>
<circle cx="468.8" cy="798.4" r="1.45"/>
<circle cx="524.0" cy="798.4" r="1.45"/>
<circle cx="414.1" cy="808.0" r="1.45"/>
<circle cx="430.5" cy="808.0" r="1.45"/>
<circle cx="446.5" cy="808.0" r="1.45"/>
<circle cx="416.3" cy="817.2" r="1.45"/>
<circle cx="460.5" cy="817.2" r="1.45"/>
<circle cx="464.9" cy="817.2" r="1.45"/>
<circle cx="428.8" cy="825.5" r="1.45"/>
<circle cx="434.5" cy="825.5" r="1.45"/>
<circle cx="501.0" cy="825.5" r="1.45"/>
<circle cx="413.4" cy="835.1" r="1.45"/>
<circle cx="436.0" cy="835.1" r="1.45"/>
<circle cx="447.4" cy="835.1" r="1.45"/>
<circle cx="421.3" cy="844.1" r="1.45"/>
<circle cx="441.9" cy="844.1" r="1.45"/>
<circle cx="449.1" cy="844.1" r="1.45"/>
<circle cx="481.3" cy="844.1" r="1.45"/>
<circle cx="411.9" cy="853.8" r="1.45"/>
<circle cx="422.2" cy="853.8" r="1.45"/>
<circle cx="519.6" cy="853.8" r="1.45"/>
<circle cx="422.4" cy="862.1" r="1.45"/>
<circle cx="455.7" cy="862.1" r="1.45"/>
<circle cx="534.5" cy="862.1" r="1.45"/>
<circle cx="435.5" cy="871.5" r="1.45"/>
<circle cx="485.7" cy="871.5" r="1.45"/>
<circle cx="466.6" cy="890.1" r="1.45"/>
<circle cx="479.1" cy="890.1" r="1.45"/>
<circle cx="564.6" cy="880.7" r="1.45"/>
<circle cx="505.4" cy="789.4" r="1.45"/>
<circle cx="523.8" cy="798.3" r="1.45"/>
</g>
<polygon points="409.3,821.0 415.8,820.7 422.4,820.3 428.9,819.8 435.4,819.2 441.9,818.6 448.5,817.9 455.0,817.2 461.5,816.4 468.1,815.5 474.6,814.5 481.1,813.5 487.6,812.4 494.2,811.3 500.7,810.0 507.2,808.7 513.8,807.4 520.3,805.9 526.8,804.4 533.4,802.9 539.9,801.2 546.4,799.5 552.9,797.8 559.5,795.9 566.0,794.0 566.0,846.0 559.5,846.0 552.9,846.1 546.4,846.1 539.9,846.1 533.4,846.1 526.8,846.1 520.3,846.1 513.8,846.1 507.2,846.1 500.7,846.1 494.2,846.0 487.6,846.0 481.1,845.9 474.6,845.9 468.1,845.8 461.5,845.8 455.0,845.7 448.5,845.6 441.9,845.5 435.4,845.4 428.9,845.3 422.4,845.2 415.8,845.1 409.3,845.0" fill="#1f77b4" fill-opacity="0.16"/>
<g fill="#ff7f0e" opacity="0.9">
<circle cx="498.4" cy="734.9" r="1.45"/>
<circle cx="469.3" cy="744.1" r="1.45"/>
<circle cx="465.1" cy="752.8" r="1.45"/>
<circle cx="469.5" cy="762.0" r="1.45"/>
<circle cx="462.3" cy="789.4" r="1.45"/>
<circle cx="487.4" cy="789.4" r="1.45"/>
<circle cx="471.0" cy="798.4" r="1.45"/>
<circle cx="515.5" cy="798.4" r="1.45"/>
<circle cx="496.2" cy="808.0" r="1.45"/>
<circle cx="468.4" cy="817.2" r="1.45"/>
<circle cx="471.0" cy="817.2" r="1.45"/>
<circle cx="483.1" cy="817.2" r="1.45"/>
<circle cx="460.7" cy="825.5" r="1.45"/>
<circle cx="483.1" cy="825.5" r="1.45"/>
<circle cx="488.5" cy="825.5" r="1.45"/>
<circle cx="457.9" cy="835.1" r="1.45"/>
<circle cx="464.0" cy="835.1" r="1.45"/>
<circle cx="479.8" cy="835.1" r="1.45"/>
<circle cx="500.1" cy="835.1" r="1.45"/>
<circle cx="517.7" cy="835.1" r="1.45"/>
<circle cx="524.0" cy="835.1" r="1.45"/>
<circle cx="459.0" cy="844.1" r="1.45"/>
<circle cx="492.5" cy="844.1" r="1.45"/>
<circle cx="467.7" cy="853.8" r="1.45"/>
<circle cx="489.2" cy="853.8" r="1.45"/>
<circle cx="495.8" cy="853.8" r="1.45"/>
<circle cx="497.7" cy="853.8" r="1.45"/>
<circle cx="450.7" cy="862.1" r="1.45"/>
<circle cx="466.0" cy="862.1" r="1.45"/>
<circle cx="499.9" cy="862.1" r="1.45"/>
<circle cx="515.9" cy="862.1" r="1.45"/>
<circle cx="464.9" cy="871.5" r="1.45"/>
<circle cx="478.2" cy="871.5" r="1.45"/>
<circle cx="462.3" cy="880.7" r="1.45"/>
<circle cx="519.6" cy="890.1" r="1.45"/>
<circle cx="528.4" cy="890.1" r="1.45"/>
<circle cx="476.9" cy="908.1" r="1.45"/>
<circle cx="505.4" cy="908.1" r="1.45"/>
<circle cx="541.1" cy="844.1" r="1.45"/>
<circle cx="574.0" cy="844.1" r="1.45"/>
<circle cx="576.6" cy="844.1" r="1.45"/>
<circle cx="544.9" cy="862.1" r="1.45"/>
<circle cx="556.2" cy="862.1" r="1.45"/>
<circle cx="515.4" cy="798.3" r="1.45"/>
<circle cx="593.7" cy="798.3" r="1.45"/>
<circle cx="569.7" cy="807.8" r="1.45"/>
<circle cx="604.8" cy="807.8" r="1.45"/>
</g>
<polygon points="450.2,821.0 457.0,820.8 463.7,820.6 470.5,820.3 477.3,819.9 484.1,819.5 490.8,819.0 497.6,818.5 504.4,817.9 511.1,817.2 517.9,816.5 524.7,815.7 531.5,814.8 538.2,813.9 545.0,812.9 551.8,811.8 558.5,810.7 565.3,809.5 572.1,808.3 578.8,807.0 585.6,805.6 592.4,804.2 599.2,802.7 605.9,801.1 612.7,799.5 612.7,845.5 605.9,845.0 599.2,844.6 592.4,844.2 585.6,843.8 578.8,843.5 572.1,843.3 565.3,843.1 558.5,843.0 551.8,842.9 545.0,842.9 538.2,842.9 531.5,843.0 524.7,843.1 517.9,843.3 511.1,843.5 504.4,843.8 497.6,844.2 490.8,844.5 484.1,845.0 477.3,845.5 470.5,846.0 463.7,846.6 457.0,847.3 450.2,848.0" fill="#ff7f0e" fill-opacity="0.16"/>
<g fill="#2ca02c" opacity="0.9">
<circle cx="429.4" cy="780.7" r="1.45"/>
<circle cx="433.1" cy="798.4" r="1.45"/>
<circle cx="432.0" cy="808.0" r="1.45"/>
<circle cx="432.0" cy="825.5" r="1.45"/>
<circle cx="429.4" cy="835.1" r="1.45"/>
<circle cx="430.9" cy="835.1" r="1.45"/>
<circle cx="535.2" cy="835.1" r="1.45"/>
<circle cx="427.7" cy="844.1" r="1.45"/>
<circle cx="430.9" cy="844.1" r="1.45"/>
<circle cx="427.2" cy="853.8" r="1.45"/>
<circle cx="428.8" cy="853.8" r="1.45"/>
<circle cx="428.3" cy="862.1" r="1.45"/>
<circle cx="430.5" cy="871.5" r="1.45"/>
<circle cx="428.3" cy="908.1" r="1.45"/>
<circle cx="429.9" cy="908.1" r="1.45"/>
<circle cx="661.6" cy="817.2" r="1.45"/>
<circle cx="664.2" cy="817.2" r="1.45"/>
<circle cx="668.6" cy="817.2" r="1.45"/>
<circle cx="666.4" cy="825.5" r="1.45"/>
<circle cx="669.0" cy="825.5" r="1.45"/>
<circle cx="566.1" cy="835.1" r="1.45"/>
<circle cx="662.4" cy="835.1" r="1.45"/>
<circle cx="666.4" cy="835.1" r="1.45"/>
<circle cx="559.1" cy="844.1" r="1.45"/>
<circle cx="667.0" cy="844.1" r="1.45"/>
<circle cx="669.0" cy="844.1" r="1.45"/>
<circle cx="560.6" cy="853.8" r="1.45"/>
<circle cx="664.6" cy="853.8" r="1.45"/>
<circle cx="668.6" cy="853.8" r="1.45"/>
<circle cx="562.4" cy="862.1" r="1.45"/>
<circle cx="568.9" cy="862.1" r="1.45"/>
<circle cx="668.1" cy="862.1" r="1.45"/>
<circle cx="670.1" cy="862.1" r="1.45"/>
<circle cx="670.3" cy="871.5" r="1.45"/>
<circle cx="665.9" cy="880.7" r="1.45"/>
<circle cx="565.0" cy="890.1" r="1.45"/>
<circle cx="567.8" cy="890.1" r="1.45"/>
<circle cx="562.4" cy="908.1" r="1.45"/>
<circle cx="577.5" cy="798.3" r="1.45"/>
<circle cx="664.7" cy="798.3" r="1.45"/>
<circle cx="576.4" cy="807.8" r="1.45"/>
<circle cx="579.1" cy="807.8" r="1.45"/>
<circle cx="661.2" cy="816.7" r="1.45"/>
<circle cx="663.4" cy="816.7" r="1.45"/>
<circle cx="668.3" cy="816.7" r="1.45"/>
</g>
<polygon points="427.7,834.0 437.8,833.8 448.0,833.5 458.1,833.2 468.2,832.7 478.3,832.1 488.5,831.5 498.6,830.8 508.7,830.0 518.9,829.1 529.0,828.1 539.1,827.0 549.2,825.9 559.4,824.6 569.5,823.3 579.6,821.8 589.8,820.3 599.9,818.7 610.0,817.0 620.2,815.2 630.3,813.4 640.4,811.4 650.5,809.4 660.7,807.2 670.8,805.0 670.8,835.0 660.7,835.6 650.5,836.2 640.4,836.9 630.3,837.6 620.2,838.3 610.0,839.1 599.9,839.9 589.8,840.7 579.6,841.6 569.5,842.5 559.4,843.4 549.2,844.4 539.1,845.4 529.0,846.4 518.9,847.5 508.7,848.6 498.6,849.7 488.5,850.9 478.3,852.0 468.2,853.3 458.1,854.5 448.0,855.8 437.8,857.1 427.7,858.5" fill="#2ca02c" fill-opacity="0.16"/>
<g fill="#d62728" opacity="0.9">
<circle cx="485.7" cy="734.9" r="1.45"/>
<circle cx="411.5" cy="744.1" r="1.45"/>
<circle cx="515.3" cy="752.8" r="1.45"/>
<circle cx="477.6" cy="762.0" r="1.45"/>
<circle cx="413.4" cy="771.5" r="1.45"/>
<circle cx="413.4" cy="780.7" r="1.45"/>
<circle cx="410.4" cy="789.4" r="1.45"/>
<circle cx="427.7" cy="789.4" r="1.45"/>
<circle cx="476.5" cy="789.4" r="1.45"/>
<circle cx="411.2" cy="798.4" r="1.45"/>
<circle cx="428.8" cy="798.4" r="1.45"/>
<circle cx="409.3" cy="808.0" r="1.45"/>
<circle cx="411.2" cy="808.0" r="1.45"/>
<circle cx="438.2" cy="808.0" r="1.45"/>
<circle cx="539.6" cy="808.0" r="1.45"/>
<circle cx="410.4" cy="817.2" r="1.45"/>
<circle cx="411.9" cy="817.2" r="1.45"/>
<circle cx="413.4" cy="817.2" r="1.45"/>
<circle cx="494.7" cy="817.2" r="1.45"/>
<circle cx="409.7" cy="825.5" r="1.45"/>
<circle cx="411.9" cy="825.5" r="1.45"/>
<circle cx="413.4" cy="825.5" r="1.45"/>
<circle cx="446.9" cy="825.5" r="1.45"/>
<circle cx="409.7" cy="835.1" r="1.45"/>
<circle cx="486.4" cy="835.1" r="1.45"/>
<circle cx="411.2" cy="844.1" r="1.45"/>
<circle cx="413.4" cy="844.1" r="1.45"/>
<circle cx="418.0" cy="844.1" r="1.45"/>
<circle cx="454.2" cy="844.1" r="1.45"/>
<circle cx="410.4" cy="853.8" r="1.45"/>
<circle cx="444.3" cy="853.8" r="1.45"/>
<circle cx="459.6" cy="853.8" r="1.45"/>
<circle cx="409.7" cy="862.1" r="1.45"/>
<circle cx="411.9" cy="862.1" r="1.45"/>
<circle cx="413.4" cy="862.1" r="1.45"/>
<circle cx="425.0" cy="862.1" r="1.45"/>
<circle cx="429.9" cy="862.1" r="1.45"/>
<circle cx="453.1" cy="862.1" r="1.45"/>
<circle cx="481.3" cy="871.5" r="1.45"/>
<circle cx="505.0" cy="871.5" r="1.45"/>
<circle cx="409.1" cy="880.7" r="1.45"/>
<circle cx="410.4" cy="890.1" r="1.45"/>
<circle cx="457.9" cy="890.1" r="1.45"/>
<circle cx="422.8" cy="908.1" r="1.45"/>
<circle cx="439.3" cy="908.1" r="1.45"/>
<circle cx="536.1" cy="835.1" r="1.45"/>
<circle cx="538.9" cy="835.1" r="1.45"/>
<circle cx="551.9" cy="844.1" r="1.45"/>
<circle cx="584.9" cy="853.8" r="1.45"/>
<circle cx="540.5" cy="807.8" r="1.45"/>
</g>
<polygon points="409.3,820.0 416.6,819.5 423.9,819.0 431.3,818.4 438.6,817.7 445.9,817.0 453.2,816.2 460.5,815.4 467.9,814.5 475.2,813.6 482.5,812.6 489.8,811.6 497.1,810.4 504.5,809.3 511.8,808.1 519.1,806.8 526.4,805.4 533.8,804.0 541.1,802.6 548.4,801.1 555.7,799.5 563.0,797.9 570.4,796.2 577.7,794.5 585.0,792.7 585.0,852.0 577.7,851.7 570.4,851.3 563.0,851.0 555.7,850.6 548.4,850.3 541.1,850.0 533.8,849.6 526.4,849.3 519.1,848.9 511.8,848.6 504.5,848.2 497.1,847.9 489.8,847.5 482.5,847.2 475.2,846.8 467.9,846.4 460.5,846.1 453.2,845.7 445.9,845.3 438.6,845.0 431.3,844.6 423.9,844.2 416.6,843.9 409.3,843.5" fill="#d62728" fill-opacity="0.16"/>
</g>
<g clip-path="url(#c213)" stroke="#b0b0b0" stroke-width="0.9" fill="none" opacity="0.85">
<line x1="409.30" y1="726.40" x2="409.30" y2="916.30"/>
<line x1="462.08" y1="726.40" x2="462.08" y2="916.30"/>
<line x1="514.86" y1="726.40" x2="514.86" y2="916.30"/>
<line x1="567.64" y1="726.40" x2="567.64" y2="916.30"/>
<line x1="620.42" y1="726.40" x2="620.42" y2="916.30"/>
<line x1="673.20" y1="726.40" x2="673.20" y2="916.30"/>
<line x1="396.00" y1="898.70" x2="683.00" y2="898.70"/>
<line x1="396.00" y1="875.93" x2="683.00" y2="875.93"/>
<line x1="396.00" y1="853.16" x2="683.00" y2="853.16"/>
<line x1="396.00" y1="830.39" x2="683.00" y2="830.39"/>
<line x1="396.00" y1="807.61" x2="683.00" y2="807.61"/>
<line x1="396.00" y1="784.84" x2="683.00" y2="784.84"/>
<line x1="396.00" y1="762.07" x2="683.00" y2="762.07"/>
<line x1="396.00" y1="739.30" x2="683.00" y2="739.30"/>
</g>
<g clip-path="url(#c213)">
<line x1="409.3" y1="831.5" x2="567.0" y2="823.5" stroke="#1f77b4" stroke-width="2.2"/>
<line x1="449.1" y1="835.8" x2="613.4" y2="818.7" stroke="#ff7f0e" stroke-width="2.2"/>
<line x1="427.7" y1="844.6" x2="670.8" y2="820.5" stroke="#2ca02c" stroke-width="2.2"/>
<line x1="409.3" y1="831.0" x2="585.5" y2="825.5" stroke="#d62728" stroke-width="2.2"/>
</g>
<rect x="516.8" y="731.2" width="161.4" height="61.7" rx="2.5" fill="#fff" fill-opacity="0.8" stroke="#d0d0d0" stroke-width="0.9"/>
<circle cx="530.6" cy="740.4" r="1.5" fill="#1f77b4"/>
<text x="549.2" y="742.7" font-size="11.85" fill="#262626">temperature (R: 0.01)</text>
<circle cx="530.6" cy="754.7" r="1.5" fill="#ff7f0e"/>
<text x="549.2" y="757.0" font-size="11.85" fill="#262626">humidity (R: 0.05)</text>
<circle cx="530.6" cy="769.0" r="1.5" fill="#2ca02c"/>
<text x="549.2" y="771.3" font-size="11.85" fill="#262626">light_intensity (R: -0.10)</text>
<circle cx="530.6" cy="783.3" r="1.5" fill="#d62728"/>
<text x="549.2" y="785.6" font-size="11.85" fill="#262626">wind_speed (R: 0.02)</text>
<rect x="396.00" y="726.40" width="287.00" height="189.90" fill="none" stroke="#505050" stroke-width="1.2"/>
<g stroke="#404040" stroke-width="1"><line x1="409.30" y1="916.30" x2="409.30" y2="919.80"/><line x1="462.08" y1="916.30" x2="462.08" y2="919.80"/><line x1="514.86" y1="916.30" x2="514.86" y2="919.80"/><line x1="567.64" y1="916.30" x2="567.64" y2="919.80"/><line x1="620.42" y1="916.30" x2="620.42" y2="919.80"/><line x1="673.20" y1="916.30" x2="673.20" y2="919.80"/><line x1="392.50" y1="898.70" x2="396.00" y2="898.70"/><line x1="392.50" y1="875.93" x2="396.00" y2="875.93"/><line x1="392.50" y1="853.16" x2="396.00" y2="853.16"/><line x1="392.50" y1="830.39" x2="396.00" y2="830.39"/><line x1="392.50" y1="807.61" x2="396.00" y2="807.61"/><line x1="392.50" y1="784.84" x2="396.00" y2="784.84"/><line x1="392.50" y1="762.07" x2="396.00" y2="762.07"/><line x1="392.50" y1="739.30" x2="396.00" y2="739.30"/></g>
<text x="409.30" y="929.30" font-size="9.2" fill="#262626" text-anchor="middle">0.0</text>
<text x="462.08" y="929.30" font-size="9.2" fill="#262626" text-anchor="middle">0.2</text>
<text x="514.86" y="929.30" font-size="9.2" fill="#262626" text-anchor="middle">0.4</text>
<text x="567.64" y="929.30" font-size="9.2" fill="#262626" text-anchor="middle">0.6</text>
<text x="620.42" y="929.30" font-size="9.2" fill="#262626" text-anchor="middle">0.8</text>
<text x="673.20" y="929.30" font-size="9.2" fill="#262626" text-anchor="middle">1.0</text>
<text x="389.20" y="902.00" font-size="9.2" fill="#262626" text-anchor="end">0.150</text>
<text x="389.20" y="879.23" font-size="9.2" fill="#262626" text-anchor="end">0.175</text>
<text x="389.20" y="856.46" font-size="9.2" fill="#262626" text-anchor="end">0.200</text>
<text x="389.20" y="833.69" font-size="9.2" fill="#262626" text-anchor="end">0.225</text>
<text x="389.20" y="810.91" font-size="9.2" fill="#262626" text-anchor="end">0.250</text>
<text x="389.20" y="788.14" font-size="9.2" fill="#262626" text-anchor="end">0.275</text>
<text x="389.20" y="765.37" font-size="9.2" fill="#262626" text-anchor="end">0.300</text>
<text x="389.20" y="742.60" font-size="9.2" fill="#262626" text-anchor="end">0.325</text>
<text x="539.00" y="721.20" font-size="12.6" fill="#262626" text-anchor="middle" textLength="22.6" lengthAdjust="spacingAndGlyphs">213</text>
<circle cx="521.9" cy="934.2" r="0.6" fill="#555"/><circle cx="532.7" cy="934.2" r="0.6" fill="#555"/><circle cx="562.8" cy="934.2" r="0.6" fill="#555"/>
</g>
<g>
<clipPath id="c208"><rect x="40.50" y="965.00" width="287.70" height="190.30"/></clipPath>
<g clip-path="url(#c208)">
<g fill="#1f77b4" opacity="0.9">
<circle cx="152.6" cy="973.5" r="1.45"/>
<circle cx="60.2" cy="1002.7" r="1.45"/>
<circle cx="145.0" cy="1002.7" r="1.45"/>
<circle cx="69.4" cy="1010.8" r="1.45"/>
<circle cx="127.7" cy="1031.3" r="1.45"/>
<circle cx="122.1" cy="1047.8" r="1.45"/>
<circle cx="53.2" cy="1052.4" r="1.45"/>
<circle cx="58.1" cy="1055.9" r="1.45"/>
<circle cx="53.3" cy="1052.1" r="1.45"/>
<circle cx="58.6" cy="1055.7" r="1.45"/>
<circle cx="62.6" cy="1059.9" r="1.45"/>
<circle cx="126.8" cy="1059.9" r="1.45"/>
<circle cx="101.0" cy="1064.4" r="1.45"/>
<circle cx="107.3" cy="1064.4" r="1.45"/>
<circle cx="133.8" cy="1064.4" r="1.45"/>
<circle cx="67.9" cy="1068.4" r="1.45"/>
<circle cx="91.2" cy="1068.4" r="1.45"/>
<circle cx="148.6" cy="1068.4" r="1.45"/>
<circle cx="155.8" cy="1068.4" r="1.45"/>
<circle cx="56.9" cy="1072.2" r="1.45"/>
<circle cx="80.6" cy="1072.2" r="1.45"/>
<circle cx="65.4" cy="1076.9" r="1.45"/>
<circle cx="92.5" cy="1076.9" r="1.45"/>
<circle cx="135.9" cy="1076.9" r="1.45"/>
<circle cx="69.0" cy="1080.7" r="1.45"/>
<circle cx="88.7" cy="1080.7" r="1.45"/>
<circle cx="131.7" cy="1089.2" r="1.45"/>
<circle cx="174.0" cy="1089.2" r="1.45"/>
<circle cx="65.0" cy="1093.0" r="1.45"/>
<circle cx="82.8" cy="1093.0" r="1.45"/>
<circle cx="109.9" cy="1093.0" r="1.45"/>
<circle cx="176.5" cy="1093.0" r="1.45"/>
<circle cx="99.3" cy="1097.2" r="1.45"/>
<circle cx="63.9" cy="1101.4" r="1.45"/>
<circle cx="121.5" cy="1101.4" r="1.45"/>
<circle cx="161.1" cy="1101.4" r="1.45"/>
<circle cx="62.6" cy="1105.5" r="1.45"/>
<circle cx="90.2" cy="1105.5" r="1.45"/>
<circle cx="150.5" cy="1109.7" r="1.45"/>
<circle cx="70.1" cy="1113.9" r="1.45"/>
<circle cx="97.2" cy="1122.0" r="1.45"/>
<circle cx="115.1" cy="1130.0" r="1.45"/>
<circle cx="183.3" cy="1146.7" r="1.45"/>
<circle cx="233.1" cy="1059.9" r="1.45"/>
<circle cx="198.1" cy="1068.4" r="1.45"/>
<circle cx="213.6" cy="1089.2" r="1.45"/>
<circle cx="235.4" cy="1093.0" r="1.45"/>
<circle cx="230.1" cy="1122.0" r="1.45"/>
<circle cx="206.2" cy="1134.2" r="1.45"/>
<circle cx="232.9" cy="1060.5" r="1.45"/>
</g>
<polygon points="53.3,1063.8 60.9,1065.4 68.5,1066.9 76.0,1068.3 83.6,1069.5 91.2,1070.5 98.8,1071.5 106.4,1072.2 113.9,1072.9 121.5,1073.4 129.1,1073.7 136.7,1074.0 144.2,1074.0 151.8,1074.0 159.4,1073.7 167.0,1073.4 174.6,1072.9 182.1,1072.2 189.7,1071.5 197.3,1070.5 204.9,1069.5 212.5,1068.3 220.0,1066.9 227.6,1065.4 235.2,1063.8 235.2,1111.0 227.6,1108.6 220.0,1106.2 212.5,1104.1 204.9,1102.0 197.3,1100.1 189.7,1098.3 182.1,1096.7 174.6,1095.2 167.0,1093.8 159.4,1092.6 151.8,1091.5 144.2,1090.5 136.7,1089.6 129.1,1088.9 121.5,1088.4 113.9,1087.9 106.4,1087.6 98.8,1087.4 91.2,1087.4 83.6,1087.5 76.0,1087.7 68.5,1088.1 60.9,1088.6 53.3,1089.2" fill="#1f77b4" fill-opacity="0.16"/>
<g fill="#ff7f0e" opacity="0.9">
<circle cx="162.0" cy="973.5" r="1.45"/>
<circle cx="118.3" cy="1002.7" r="1.45"/>
<circle cx="138.5" cy="1002.7" r="1.45"/>
<circle cx="151.2" cy="1031.3" r="1.45"/>
<circle cx="123.4" cy="1047.8" r="1.45"/>
<circle cx="109.6" cy="1051.8" r="1.45"/>
<circle cx="109.9" cy="1052.1" r="1.45"/>
<circle cx="106.7" cy="1059.9" r="1.45"/>
<circle cx="184.6" cy="1059.9" r="1.45"/>
<circle cx="137.4" cy="1064.4" r="1.45"/>
<circle cx="180.3" cy="1064.4" r="1.45"/>
<circle cx="109.9" cy="1068.4" r="1.45"/>
<circle cx="164.9" cy="1068.4" r="1.45"/>
<circle cx="175.5" cy="1068.4" r="1.45"/>
<circle cx="160.7" cy="1072.2" r="1.45"/>
<circle cx="170.2" cy="1072.2" r="1.45"/>
<circle cx="183.9" cy="1072.2" r="1.45"/>
<circle cx="121.5" cy="1076.9" r="1.45"/>
<circle cx="143.7" cy="1076.9" r="1.45"/>
<circle cx="158.5" cy="1076.9" r="1.45"/>
<circle cx="111.3" cy="1080.7" r="1.45"/>
<circle cx="169.1" cy="1080.7" r="1.45"/>
<circle cx="142.7" cy="1089.2" r="1.45"/>
<circle cx="162.8" cy="1089.2" r="1.45"/>
<circle cx="111.3" cy="1093.0" r="1.45"/>
<circle cx="167.6" cy="1093.0" r="1.45"/>
<circle cx="180.8" cy="1093.0" r="1.45"/>
<circle cx="136.9" cy="1101.4" r="1.45"/>
<circle cx="158.5" cy="1101.4" r="1.45"/>
<circle cx="179.7" cy="1105.5" r="1.45"/>
<circle cx="172.3" cy="1109.7" r="1.45"/>
<circle cx="173.4" cy="1109.7" r="1.45"/>
<circle cx="116.6" cy="1122.0" r="1.45"/>
<circle cx="155.4" cy="1122.0" r="1.45"/>
<circle cx="180.3" cy="1122.0" r="1.45"/>
<circle cx="153.7" cy="1130.0" r="1.45"/>
<circle cx="106.7" cy="1134.2" r="1.45"/>
<circle cx="153.7" cy="1146.7" r="1.45"/>
<circle cx="224.8" cy="1055.7" r="1.45"/>
<circle cx="279.2" cy="1059.9" r="1.45"/>
<circle cx="211.5" cy="1068.4" r="1.45"/>
<circle cx="219.9" cy="1064.4" r="1.45"/>
<circle cx="223.7" cy="1064.4" r="1.45"/>
<circle cx="224.2" cy="1068.4" r="1.45"/>
<circle cx="208.3" cy="1072.2" r="1.45"/>
<circle cx="192.4" cy="1080.7" r="1.45"/>
<circle cx="209.3" cy="1089.2" r="1.45"/>
<circle cx="226.7" cy="1089.2" r="1.45"/>
<circle cx="276.7" cy="1093.0" r="1.45"/>
<circle cx="201.3" cy="1097.2" r="1.45"/>
<circle cx="252.1" cy="1097.2" r="1.45"/>
<circle cx="199.4" cy="1101.4" r="1.45"/>
<circle cx="186.1" cy="1105.5" r="1.45"/>
<circle cx="237.9" cy="1105.5" r="1.45"/>
<circle cx="186.5" cy="1113.9" r="1.45"/>
<circle cx="219.3" cy="1122.0" r="1.45"/>
<circle cx="151.4" cy="1031.3" r="1.45"/>
<circle cx="224.8" cy="1055.9" r="1.45"/>
<circle cx="279.6" cy="1060.5" r="1.45"/>
</g>
<polygon points="106.0,1059.5 113.2,1061.5 120.4,1063.3 127.6,1064.9 134.8,1066.3 142.0,1067.6 149.2,1068.8 156.4,1069.7 163.6,1070.5 170.8,1071.1 178.0,1071.6 185.2,1071.9 192.4,1072.0 199.6,1072.0 206.8,1071.8 214.0,1071.4 221.2,1070.9 228.4,1070.2 235.6,1069.3 242.8,1068.3 250.0,1067.1 257.2,1065.7 264.4,1064.2 271.6,1062.5 278.8,1060.6 278.8,1100.8 271.6,1099.4 264.4,1098.0 257.2,1096.8 250.0,1095.7 242.8,1094.6 235.6,1093.7 228.4,1092.9 221.2,1092.1 214.0,1091.5 206.8,1090.9 199.6,1090.5 192.4,1090.1 185.2,1089.8 178.0,1089.7 170.8,1089.6 163.6,1089.6 156.4,1089.8 149.2,1090.0 142.0,1090.3 134.8,1090.7 127.6,1091.3 120.4,1091.9 113.2,1092.6 106.0,1093.4" fill="#ff7f0e" fill-opacity="0.16"/>
<g fill="#2ca02c" opacity="0.9">
<circle cx="77.0" cy="1064.4" r="1.45"/>
<circle cx="71.8" cy="1068.4" r="1.45"/>
<circle cx="78.5" cy="1068.4" r="1.45"/>
<circle cx="74.3" cy="1072.2" r="1.45"/>
<circle cx="78.1" cy="1072.2" r="1.45"/>
<circle cx="74.5" cy="1080.7" r="1.45"/>
<circle cx="75.6" cy="1097.2" r="1.45"/>
<circle cx="77.5" cy="1101.4" r="1.45"/>
<circle cx="78.7" cy="1101.4" r="1.45"/>
<circle cx="77.7" cy="1105.5" r="1.45"/>
<circle cx="70.7" cy="1109.7" r="1.45"/>
<circle cx="74.5" cy="1122.0" r="1.45"/>
<circle cx="76.0" cy="1122.0" r="1.45"/>
<circle cx="206.8" cy="1052.1" r="1.45"/>
<circle cx="205.7" cy="1055.7" r="1.45"/>
<circle cx="206.8" cy="1059.9" r="1.45"/>
<circle cx="213.2" cy="1059.9" r="1.45"/>
<circle cx="313.1" cy="1059.9" r="1.45"/>
<circle cx="216.3" cy="1068.4" r="1.45"/>
<circle cx="307.4" cy="1064.4" r="1.45"/>
<circle cx="308.8" cy="1064.4" r="1.45"/>
<circle cx="306.3" cy="1068.4" r="1.45"/>
<circle cx="207.2" cy="1072.2" r="1.45"/>
<circle cx="208.3" cy="1076.9" r="1.45"/>
<circle cx="311.4" cy="1076.9" r="1.45"/>
<circle cx="310.3" cy="1080.7" r="1.45"/>
<circle cx="198.8" cy="1089.2" r="1.45"/>
<circle cx="311.4" cy="1089.2" r="1.45"/>
<circle cx="313.1" cy="1089.2" r="1.45"/>
<circle cx="209.3" cy="1093.0" r="1.45"/>
<circle cx="307.1" cy="1093.0" r="1.45"/>
<circle cx="313.1" cy="1093.0" r="1.45"/>
<circle cx="315.2" cy="1093.0" r="1.45"/>
<circle cx="307.1" cy="1097.2" r="1.45"/>
<circle cx="311.4" cy="1101.4" r="1.45"/>
<circle cx="208.3" cy="1105.5" r="1.45"/>
<circle cx="306.1" cy="1105.5" r="1.45"/>
<circle cx="210.0" cy="1113.9" r="1.45"/>
<circle cx="216.8" cy="1109.7" r="1.45"/>
<circle cx="310.3" cy="1122.0" r="1.45"/>
<circle cx="309.5" cy="1134.2" r="1.45"/>
<circle cx="313.1" cy="1130.0" r="1.45"/>
<circle cx="310.3" cy="1146.7" r="1.45"/>
<circle cx="206.7" cy="1051.8" r="1.45"/>
<circle cx="205.4" cy="1055.9" r="1.45"/>
<circle cx="311.5" cy="1047.8" r="1.45"/>
</g>
<polygon points="68.6,1072.0 78.9,1073.2 89.1,1074.3 99.4,1075.2 109.6,1076.0 119.9,1076.6 130.2,1077.1 140.4,1077.5 150.7,1077.7 160.9,1077.8 171.2,1077.8 181.4,1077.6 191.7,1077.3 202.0,1076.9 212.2,1076.3 222.5,1075.6 232.7,1074.8 243.0,1073.8 253.2,1072.7 263.5,1071.4 273.8,1070.0 284.0,1068.5 294.3,1066.8 304.5,1065.0 314.8,1063.1 314.8,1089.2 304.5,1088.7 294.3,1088.3 284.0,1088.0 273.8,1087.7 263.5,1087.6 253.2,1087.4 243.0,1087.4 232.7,1087.4 222.5,1087.5 212.2,1087.7 202.0,1087.9 191.7,1088.3 181.4,1088.6 171.2,1089.1 160.9,1089.6 150.7,1090.2 140.4,1090.9 130.2,1091.6 119.9,1092.5 109.6,1093.3 99.4,1094.3 89.1,1095.3 78.9,1096.4 68.6,1097.6" fill="#2ca02c" fill-opacity="0.16"/>
<g fill="#d62728" opacity="0.9">
<circle cx="104.8" cy="973.5" r="1.45"/>
<circle cx="55.9" cy="1002.7" r="1.45"/>
<circle cx="64.3" cy="1002.7" r="1.45"/>
<circle cx="53.2" cy="1010.8" r="1.45"/>
<circle cx="53.2" cy="1031.3" r="1.45"/>
<circle cx="70.8" cy="1047.8" r="1.45"/>
<circle cx="72.1" cy="1051.8" r="1.45"/>
<circle cx="54.8" cy="1055.9" r="1.45"/>
<circle cx="72.2" cy="1052.1" r="1.45"/>
<circle cx="55.2" cy="1055.7" r="1.45"/>
<circle cx="53.3" cy="1059.9" r="1.45"/>
<circle cx="55.2" cy="1059.9" r="1.45"/>
<circle cx="79.2" cy="1059.9" r="1.45"/>
<circle cx="53.8" cy="1064.4" r="1.45"/>
<circle cx="55.2" cy="1064.4" r="1.45"/>
<circle cx="53.3" cy="1068.4" r="1.45"/>
<circle cx="55.2" cy="1068.4" r="1.45"/>
<circle cx="74.5" cy="1068.4" r="1.45"/>
<circle cx="53.3" cy="1072.2" r="1.45"/>
<circle cx="55.2" cy="1072.2" r="1.45"/>
<circle cx="53.3" cy="1076.5" r="1.45"/>
<circle cx="79.6" cy="1076.9" r="1.45"/>
<circle cx="53.3" cy="1080.7" r="1.45"/>
<circle cx="55.2" cy="1080.7" r="1.45"/>
<circle cx="53.3" cy="1089.2" r="1.45"/>
<circle cx="58.0" cy="1089.2" r="1.45"/>
<circle cx="67.5" cy="1089.2" r="1.45"/>
<circle cx="53.3" cy="1093.0" r="1.45"/>
<circle cx="55.2" cy="1093.0" r="1.45"/>
<circle cx="77.7" cy="1093.0" r="1.45"/>
<circle cx="53.3" cy="1097.2" r="1.45"/>
<circle cx="58.4" cy="1097.2" r="1.45"/>
<circle cx="54.8" cy="1101.4" r="1.45"/>
<circle cx="56.9" cy="1101.4" r="1.45"/>
<circle cx="59.7" cy="1101.4" r="1.45"/>
<circle cx="53.3" cy="1105.5" r="1.45"/>
<circle cx="59.7" cy="1105.5" r="1.45"/>
<circle cx="53.3" cy="1113.9" r="1.45"/>
<circle cx="53.3" cy="1122.0" r="1.45"/>
<circle cx="55.2" cy="1122.0" r="1.45"/>
<circle cx="78.1" cy="1122.0" r="1.45"/>
<circle cx="53.3" cy="1130.0" r="1.45"/>
<circle cx="54.2" cy="1134.2" r="1.45"/>
<circle cx="63.9" cy="1146.7" r="1.45"/>
</g>
<polygon points="53.3,1080.0 55.4,1076.8 57.5,1073.6 59.7,1070.4 61.8,1067.1 63.9,1063.7 66.0,1060.3 68.1,1056.8 70.3,1053.3 72.4,1049.7 74.5,1046.1 76.6,1042.4 78.8,1038.7 80.9,1034.9 83.0,1031.0 85.1,1027.1 87.2,1023.2 89.4,1019.2 91.5,1015.1 93.6,1011.0 95.7,1006.9 97.8,1002.7 100.0,998.4 102.1,994.1 104.2,989.7 104.2,1108.2 102.1,1107.4 100.0,1106.6 97.8,1105.8 95.7,1105.0 93.6,1104.3 91.5,1103.5 89.4,1102.8 87.2,1102.0 85.1,1101.3 83.0,1100.6 80.9,1099.9 78.8,1099.2 76.6,1098.6 74.5,1097.9 72.4,1097.3 70.3,1096.6 68.1,1096.0 66.0,1095.4 63.9,1094.8 61.8,1094.2 59.7,1093.6 57.5,1093.1 55.4,1092.5 53.3,1092.0" fill="#d62728" fill-opacity="0.16"/>
</g>
<g clip-path="url(#c208)" stroke="#b0b0b0" stroke-width="0.9" fill="none" opacity="0.85">
<line x1="53.30" y1="965.00" x2="53.30" y2="1155.30"/>
<line x1="106.32" y1="965.00" x2="106.32" y2="1155.30"/>
<line x1="159.34" y1="965.00" x2="159.34" y2="1155.30"/>
<line x1="212.36" y1="965.00" x2="212.36" y2="1155.30"/>
<line x1="265.38" y1="965.00" x2="265.38" y2="1155.30"/>
<line x1="318.40" y1="965.00" x2="318.40" y2="1155.30"/>
<line x1="40.50" y1="1138.40" x2="328.20" y2="1138.40"/>
<line x1="40.50" y1="1097.18" x2="328.20" y2="1097.18"/>
<line x1="40.50" y1="1055.95" x2="328.20" y2="1055.95"/>
<line x1="40.50" y1="1014.73" x2="328.20" y2="1014.73"/>
<line x1="40.50" y1="973.50" x2="328.20" y2="973.50"/>
</g>
<g clip-path="url(#c208)">
<line x1="53.3" y1="1075.4" x2="235.8" y2="1089.6" stroke="#1f77b4" stroke-width="2.2"/>
<line x1="106.0" y1="1079.0" x2="279.6" y2="1081.8" stroke="#ff7f0e" stroke-width="2.2"/>
<line x1="68.6" y1="1086.4" x2="315.6" y2="1076.9" stroke="#2ca02c" stroke-width="2.2"/>
<line x1="53.3" y1="1086.4" x2="104.8" y2="1028.9" stroke="#d62728" stroke-width="2.2"/>
</g>
<rect x="165.0" y="970.3" width="157.8" height="62.1" rx="2.5" fill="#fff" fill-opacity="0.8" stroke="#d0d0d0" stroke-width="0.9"/>
<circle cx="179.7" cy="979.4" r="1.5" fill="#1f77b4"/>
<text x="198.0" y="981.7" font-size="11.85" fill="#262626">temperature (R: -0.12)</text>
<circle cx="179.7" cy="993.7" r="1.5" fill="#ff7f0e"/>
<text x="198.0" y="996.0" font-size="11.85" fill="#262626">humidity (R: -0.02)</text>
<circle cx="179.7" cy="1008.0" r="1.5" fill="#2ca02c"/>
<text x="198.0" y="1010.3" font-size="11.85" fill="#262626">light_intensity (R: 0.12)</text>
<circle cx="179.7" cy="1022.3" r="1.5" fill="#d62728"/>
<text x="198.0" y="1024.6" font-size="11.85" fill="#262626">wind_speed (R: 0.33)</text>
<rect x="40.50" y="965.00" width="287.70" height="190.30" fill="none" stroke="#505050" stroke-width="1.2"/>
<g stroke="#404040" stroke-width="1"><line x1="53.30" y1="1155.30" x2="53.30" y2="1158.80"/><line x1="106.32" y1="1155.30" x2="106.32" y2="1158.80"/><line x1="159.34" y1="1155.30" x2="159.34" y2="1158.80"/><line x1="212.36" y1="1155.30" x2="212.36" y2="1158.80"/><line x1="265.38" y1="1155.30" x2="265.38" y2="1158.80"/><line x1="318.40" y1="1155.30" x2="318.40" y2="1158.80"/><line x1="37.00" y1="1138.40" x2="40.50" y2="1138.40"/><line x1="37.00" y1="1097.18" x2="40.50" y2="1097.18"/><line x1="37.00" y1="1055.95" x2="40.50" y2="1055.95"/><line x1="37.00" y1="1014.73" x2="40.50" y2="1014.73"/><line x1="37.00" y1="973.50" x2="40.50" y2="973.50"/></g>
<text x="53.30" y="1168.30" font-size="9.2" fill="#262626" text-anchor="middle">0.0</text>
<text x="106.32" y="1168.30" font-size="9.2" fill="#262626" text-anchor="middle">0.2</text>
<text x="159.34" y="1168.30" font-size="9.2" fill="#262626" text-anchor="middle">0.4</text>
<text x="212.36" y="1168.30" font-size="9.2" fill="#262626" text-anchor="middle">0.6</text>
<text x="265.38" y="1168.30" font-size="9.2" fill="#262626" text-anchor="middle">0.8</text>
<text x="318.40" y="1168.30" font-size="9.2" fill="#262626" text-anchor="middle">1.0</text>
<text x="33.70" y="1141.70" font-size="9.2" fill="#262626" text-anchor="end">0.1</text>
<text x="33.70" y="1100.48" font-size="9.2" fill="#262626" text-anchor="end">0.2</text>
<text x="33.70" y="1059.25" font-size="9.2" fill="#262626" text-anchor="end">0.3</text>
<text x="33.70" y="1018.02" font-size="9.2" fill="#262626" text-anchor="end">0.4</text>
<text x="33.70" y="976.80" font-size="9.2" fill="#262626" text-anchor="end">0.5</text>
<text x="183.70" y="959.80" font-size="12.6" fill="#262626" text-anchor="middle" textLength="22.6" lengthAdjust="spacingAndGlyphs">208</text>
<text transform="translate(10.3,1060.0) rotate(-90)" font-size="13" fill="#262626" text-anchor="middle" textLength="26.6" lengthAdjust="spacingAndGlyphs">Rate</text>
</g>
<g>
<clipPath id="c205"><rect x="396.00" y="965.00" width="287.20" height="190.50"/></clipPath>
<g clip-path="url(#c205)">
<g fill="#1f77b4" opacity="0.9">
<circle cx="489.2" cy="973.6" r="1.45"/>
<circle cx="426.1" cy="989.1" r="1.45"/>
<circle cx="466.2" cy="999.4" r="1.45"/>
<circle cx="449.1" cy="1052.0" r="1.45"/>
<circle cx="455.7" cy="1052.0" r="1.45"/>
<circle cx="408.6" cy="1057.6" r="1.45"/>
<circle cx="430.5" cy="1078.6" r="1.45"/>
<circle cx="529.7" cy="1083.5" r="1.45"/>
<circle cx="422.2" cy="1089.4" r="1.45"/>
<circle cx="426.8" cy="1089.4" r="1.45"/>
<circle cx="486.4" cy="1089.4" r="1.45"/>
<circle cx="419.6" cy="1094.0" r="1.45"/>
<circle cx="532.3" cy="1099.9" r="1.45"/>
<circle cx="422.8" cy="1104.7" r="1.45"/>
<circle cx="425.5" cy="1104.7" r="1.45"/>
<circle cx="430.5" cy="1104.7" r="1.45"/>
<circle cx="499.5" cy="1104.7" r="1.45"/>
<circle cx="415.2" cy="1110.4" r="1.45"/>
<circle cx="418.5" cy="1110.4" r="1.45"/>
<circle cx="431.6" cy="1110.4" r="1.45"/>
<circle cx="467.7" cy="1110.4" r="1.45"/>
<circle cx="422.2" cy="1115.2" r="1.45"/>
<circle cx="429.4" cy="1115.2" r="1.45"/>
<circle cx="434.9" cy="1120.7" r="1.45"/>
<circle cx="459.0" cy="1120.7" r="1.45"/>
<circle cx="488.5" cy="1120.7" r="1.45"/>
<circle cx="420.2" cy="1125.7" r="1.45"/>
<circle cx="442.6" cy="1125.7" r="1.45"/>
<circle cx="449.8" cy="1125.7" r="1.45"/>
<circle cx="458.3" cy="1125.7" r="1.45"/>
<circle cx="530.8" cy="1125.7" r="1.45"/>
<circle cx="418.9" cy="1131.2" r="1.45"/>
<circle cx="423.3" cy="1131.2" r="1.45"/>
<circle cx="442.6" cy="1136.5" r="1.45"/>
<circle cx="482.0" cy="1136.5" r="1.45"/>
<circle cx="426.6" cy="1141.9" r="1.45"/>
<circle cx="524.7" cy="1141.9" r="1.45"/>
<circle cx="438.2" cy="1147.0" r="1.45"/>
<circle cx="562.4" cy="1057.6" r="1.45"/>
<circle cx="571.8" cy="1110.4" r="1.45"/>
<circle cx="568.5" cy="1131.2" r="1.45"/>
<circle cx="562.1" cy="1057.8" r="1.45"/>
</g>
<polygon points="409.3,1096.6 416.1,1097.2 422.8,1097.6 429.6,1097.8 436.4,1097.8 443.2,1097.6 449.9,1097.3 456.7,1096.7 463.5,1095.9 470.2,1095.0 477.0,1093.8 483.8,1092.5 490.5,1090.9 497.3,1089.2 504.1,1087.2 510.9,1085.1 517.6,1082.8 524.4,1080.3 531.2,1077.6 537.9,1074.7 544.7,1071.6 551.5,1068.3 558.3,1064.8 565.0,1061.1 571.8,1057.2 571.8,1109.7 565.0,1108.8 558.3,1108.0 551.5,1107.2 544.7,1106.6 537.9,1106.1 531.2,1105.6 524.4,1105.3 517.6,1105.0 510.9,1104.9 504.1,1104.8 497.3,1104.9 490.5,1105.0 483.8,1105.2 477.0,1105.6 470.2,1106.0 463.5,1106.5 456.7,1107.1 449.9,1107.8 443.2,1108.6 436.4,1109.5 429.6,1110.5 422.8,1111.6 416.1,1112.8 409.3,1114.1" fill="#1f77b4" fill-opacity="0.16"/>
<g fill="#ff7f0e" opacity="0.9">
<circle cx="472.6" cy="999.4" r="1.45"/>
<circle cx="513.1" cy="1005.3" r="1.45"/>
<circle cx="533.9" cy="1052.0" r="1.45"/>
<circle cx="506.5" cy="1057.6" r="1.45"/>
<circle cx="536.1" cy="1057.6" r="1.45"/>
<circle cx="520.3" cy="1083.5" r="1.45"/>
<circle cx="512.6" cy="1089.4" r="1.45"/>
<circle cx="512.6" cy="1099.9" r="1.45"/>
<circle cx="525.1" cy="1104.7" r="1.45"/>
<circle cx="475.8" cy="1110.4" r="1.45"/>
<circle cx="491.2" cy="1110.4" r="1.45"/>
<circle cx="516.6" cy="1110.4" r="1.45"/>
<circle cx="524.0" cy="1110.4" r="1.45"/>
<circle cx="468.4" cy="1115.2" r="1.45"/>
<circle cx="483.1" cy="1115.2" r="1.45"/>
<circle cx="522.5" cy="1115.2" r="1.45"/>
<circle cx="535.0" cy="1120.7" r="1.45"/>
<circle cx="537.4" cy="1120.7" r="1.45"/>
<circle cx="463.8" cy="1125.7" r="1.45"/>
<circle cx="478.2" cy="1125.7" r="1.45"/>
<circle cx="534.5" cy="1125.7" r="1.45"/>
<circle cx="536.7" cy="1125.7" r="1.45"/>
<circle cx="462.3" cy="1131.2" r="1.45"/>
<circle cx="484.8" cy="1131.2" r="1.45"/>
<circle cx="510.0" cy="1131.2" r="1.45"/>
<circle cx="490.3" cy="1136.5" r="1.45"/>
<circle cx="507.8" cy="1141.9" r="1.45"/>
<circle cx="534.5" cy="1141.9" r="1.45"/>
<circle cx="533.4" cy="1147.0" r="1.45"/>
<circle cx="536.1" cy="1057.6" r="1.45"/>
<circle cx="617.8" cy="1078.6" r="1.45"/>
<circle cx="565.2" cy="1083.5" r="1.45"/>
<circle cx="548.1" cy="1089.4" r="1.45"/>
<circle cx="577.7" cy="1089.4" r="1.45"/>
<circle cx="543.8" cy="1094.4" r="1.45"/>
<circle cx="591.3" cy="1094.4" r="1.45"/>
<circle cx="593.7" cy="1094.4" r="1.45"/>
<circle cx="630.7" cy="1094.4" r="1.45"/>
<circle cx="541.6" cy="1104.7" r="1.45"/>
<circle cx="591.5" cy="1104.7" r="1.45"/>
<circle cx="618.2" cy="1104.7" r="1.45"/>
<circle cx="541.6" cy="1110.4" r="1.45"/>
<circle cx="559.7" cy="1110.4" r="1.45"/>
<circle cx="539.8" cy="1115.2" r="1.45"/>
<circle cx="541.6" cy="1115.2" r="1.45"/>
<circle cx="536.1" cy="1120.7" r="1.45"/>
<circle cx="544.2" cy="1120.7" r="1.45"/>
<circle cx="554.7" cy="1120.7" r="1.45"/>
<circle cx="537.2" cy="1125.7" r="1.45"/>
<circle cx="544.9" cy="1125.7" r="1.45"/>
<circle cx="580.3" cy="1125.7" r="1.45"/>
<circle cx="598.5" cy="1136.5" r="1.45"/>
<circle cx="535.0" cy="1141.9" r="1.45"/>
<circle cx="574.0" cy="1141.9" r="1.45"/>
<circle cx="513.0" cy="1005.4" r="1.45"/>
<circle cx="506.8" cy="1057.8" r="1.45"/>
<circle cx="533.8" cy="1051.8" r="1.45"/>
<circle cx="535.9" cy="1057.8" r="1.45"/>
<circle cx="593.2" cy="1051.8" r="1.45"/>
</g>
<polygon points="461.2,1107.6 468.3,1106.7 475.3,1105.7 482.4,1104.6 489.4,1103.4 496.5,1102.1 503.6,1100.7 510.6,1099.2 517.7,1097.6 524.8,1095.8 531.8,1094.0 538.9,1092.0 546.0,1090.0 553.0,1087.8 560.1,1085.6 567.1,1083.2 574.2,1080.8 581.3,1078.2 588.3,1075.5 595.4,1072.7 602.5,1069.8 609.5,1066.8 616.6,1063.7 623.6,1060.5 630.7,1057.2 630.7,1107.6 623.6,1106.8 616.6,1106.2 609.5,1105.7 602.5,1105.4 595.4,1105.2 588.3,1105.2 581.3,1105.3 574.2,1105.5 567.1,1105.9 560.1,1106.4 553.0,1107.0 546.0,1107.8 538.9,1108.8 531.8,1109.9 524.8,1111.1 517.7,1112.5 510.6,1114.0 503.6,1115.6 496.5,1117.4 489.4,1119.3 482.4,1121.4 475.3,1123.6 468.3,1126.0 461.2,1128.5" fill="#ff7f0e" fill-opacity="0.16"/>
<g fill="#2ca02c" opacity="0.9">
<circle cx="443.0" cy="973.6" r="1.45"/>
<circle cx="450.9" cy="1057.6" r="1.45"/>
<circle cx="448.5" cy="1094.0" r="1.45"/>
<circle cx="443.6" cy="1110.4" r="1.45"/>
<circle cx="449.1" cy="1110.4" r="1.45"/>
<circle cx="445.8" cy="1115.2" r="1.45"/>
<circle cx="447.4" cy="1125.7" r="1.45"/>
<circle cx="445.4" cy="1136.5" r="1.45"/>
<circle cx="445.2" cy="1141.9" r="1.45"/>
<circle cx="504.5" cy="1147.0" r="1.45"/>
<circle cx="670.1" cy="1057.6" r="1.45"/>
<circle cx="596.3" cy="1078.6" r="1.45"/>
<circle cx="659.2" cy="1083.5" r="1.45"/>
<circle cx="670.1" cy="1083.5" r="1.45"/>
<circle cx="586.0" cy="1089.4" r="1.45"/>
<circle cx="617.1" cy="1089.4" r="1.45"/>
<circle cx="667.9" cy="1089.4" r="1.45"/>
<circle cx="574.4" cy="1094.4" r="1.45"/>
<circle cx="617.8" cy="1094.4" r="1.45"/>
<circle cx="665.7" cy="1094.4" r="1.45"/>
<circle cx="568.9" cy="1099.9" r="1.45"/>
<circle cx="667.5" cy="1099.9" r="1.45"/>
<circle cx="664.2" cy="1104.7" r="1.45"/>
<circle cx="568.3" cy="1110.4" r="1.45"/>
<circle cx="659.8" cy="1110.4" r="1.45"/>
<circle cx="669.0" cy="1110.4" r="1.45"/>
<circle cx="571.6" cy="1115.2" r="1.45"/>
<circle cx="662.0" cy="1115.2" r="1.45"/>
<circle cx="664.2" cy="1115.2" r="1.45"/>
<circle cx="572.7" cy="1120.7" r="1.45"/>
<circle cx="662.0" cy="1120.7" r="1.45"/>
<circle cx="667.9" cy="1120.7" r="1.45"/>
<circle cx="570.0" cy="1125.7" r="1.45"/>
<circle cx="666.4" cy="1125.7" r="1.45"/>
<circle cx="670.3" cy="1125.7" r="1.45"/>
<circle cx="664.2" cy="1131.2" r="1.45"/>
<circle cx="665.7" cy="1131.2" r="1.45"/>
<circle cx="669.7" cy="1131.2" r="1.45"/>
<circle cx="669.0" cy="1136.5" r="1.45"/>
<circle cx="664.2" cy="1141.9" r="1.45"/>
<circle cx="643.7" cy="1051.8" r="1.45"/>
<circle cx="656.6" cy="1051.8" r="1.45"/>
<circle cx="670.1" cy="1057.8" r="1.45"/>
</g>
<polygon points="443.0,1082.4 452.5,1084.4 461.9,1086.2 471.4,1087.9 480.9,1089.3 490.3,1090.6 499.8,1091.8 509.2,1092.7 518.7,1093.5 528.2,1094.2 537.6,1094.6 547.1,1094.9 556.5,1095.0 566.0,1094.9 575.5,1094.7 584.9,1094.3 594.4,1093.7 603.9,1093.0 613.3,1092.1 622.8,1091.0 632.2,1089.7 641.7,1088.3 651.2,1086.7 660.6,1084.9 670.1,1083.0 670.1,1108.6 660.6,1107.7 651.2,1106.9 641.7,1106.3 632.2,1105.8 622.8,1105.4 613.3,1105.1 603.9,1105.0 594.4,1105.0 584.9,1105.1 575.5,1105.3 566.0,1105.7 556.5,1106.2 547.1,1106.8 537.6,1107.5 528.2,1108.4 518.7,1109.4 509.2,1110.5 499.8,1111.7 490.3,1113.1 480.9,1114.6 471.4,1116.2 461.9,1117.9 452.5,1119.8 443.0,1121.8" fill="#2ca02c" fill-opacity="0.16"/>
<g fill="#d62728" opacity="0.9">
<circle cx="411.5" cy="973.6" r="1.45"/>
<circle cx="409.3" cy="989.1" r="1.45"/>
<circle cx="472.1" cy="1005.3" r="1.45"/>
<circle cx="409.7" cy="1052.0" r="1.45"/>
<circle cx="411.2" cy="1057.6" r="1.45"/>
<circle cx="420.7" cy="1057.6" r="1.45"/>
<circle cx="409.3" cy="1078.6" r="1.45"/>
<circle cx="419.6" cy="1083.5" r="1.45"/>
<circle cx="446.5" cy="1083.5" r="1.45"/>
<circle cx="409.7" cy="1089.4" r="1.45"/>
<circle cx="409.7" cy="1094.0" r="1.45"/>
<circle cx="483.1" cy="1094.0" r="1.45"/>
<circle cx="409.7" cy="1099.9" r="1.45"/>
<circle cx="417.4" cy="1099.9" r="1.45"/>
<circle cx="410.4" cy="1104.7" r="1.45"/>
<circle cx="466.6" cy="1104.7" r="1.45"/>
<circle cx="495.8" cy="1104.7" r="1.45"/>
<circle cx="520.7" cy="1104.7" r="1.45"/>
<circle cx="410.4" cy="1110.4" r="1.45"/>
<circle cx="429.4" cy="1110.4" r="1.45"/>
<circle cx="454.2" cy="1110.4" r="1.45"/>
<circle cx="488.5" cy="1110.4" r="1.45"/>
<circle cx="410.8" cy="1115.2" r="1.45"/>
<circle cx="433.4" cy="1115.2" r="1.45"/>
<circle cx="434.9" cy="1115.2" r="1.45"/>
<circle cx="409.7" cy="1120.7" r="1.45"/>
<circle cx="414.1" cy="1120.7" r="1.45"/>
<circle cx="409.3" cy="1125.7" r="1.45"/>
<circle cx="410.8" cy="1125.7" r="1.45"/>
<circle cx="411.9" cy="1125.7" r="1.45"/>
<circle cx="413.4" cy="1131.2" r="1.45"/>
<circle cx="473.2" cy="1131.2" r="1.45"/>
<circle cx="409.3" cy="1136.5" r="1.45"/>
<circle cx="467.7" cy="1136.5" r="1.45"/>
<circle cx="409.3" cy="1141.9" r="1.45"/>
<circle cx="464.5" cy="1147.0" r="1.45"/>
<circle cx="568.9" cy="1115.2" r="1.45"/>
<circle cx="538.3" cy="1120.7" r="1.45"/>
<circle cx="543.3" cy="1125.7" r="1.45"/>
<circle cx="571.6" cy="1125.7" r="1.45"/>
<circle cx="596.3" cy="1125.7" r="1.45"/>
<circle cx="571.6" cy="1131.2" r="1.45"/>
<circle cx="548.1" cy="1051.8" r="1.45"/>
</g>
<polygon points="409.3,1085.7 417.1,1087.4 424.9,1089.0 432.6,1090.3 440.4,1091.4 448.2,1092.3 455.9,1093.1 463.7,1093.6 471.5,1093.9 479.3,1094.0 487.1,1093.9 494.8,1093.6 502.6,1093.1 510.4,1092.4 518.1,1091.5 525.9,1090.4 533.7,1089.1 541.5,1087.6 549.2,1085.9 557.0,1084.0 564.8,1081.9 572.6,1079.6 580.3,1077.0 588.1,1074.3 595.9,1071.4 595.9,1127.3 588.1,1124.8 580.3,1122.5 572.6,1120.3 564.8,1118.2 557.0,1116.4 549.2,1114.6 541.5,1113.1 533.7,1111.6 525.9,1110.4 518.1,1109.3 510.4,1108.3 502.6,1107.5 494.8,1106.8 487.1,1106.3 479.3,1106.0 471.5,1105.8 463.7,1105.7 455.9,1105.8 448.2,1106.1 440.4,1106.5 432.6,1107.1 424.9,1107.8 417.1,1108.7 409.3,1109.7" fill="#d62728" fill-opacity="0.16"/>
</g>
<g clip-path="url(#c205)" stroke="#b0b0b0" stroke-width="0.9" fill="none" opacity="0.85">
<line x1="409.30" y1="965.00" x2="409.30" y2="1155.50"/>
<line x1="462.04" y1="965.00" x2="462.04" y2="1155.50"/>
<line x1="514.78" y1="965.00" x2="514.78" y2="1155.50"/>
<line x1="567.52" y1="965.00" x2="567.52" y2="1155.50"/>
<line x1="620.26" y1="965.00" x2="620.26" y2="1155.50"/>
<line x1="673.00" y1="965.00" x2="673.00" y2="1155.50"/>
<line x1="396.00" y1="1141.80" x2="683.20" y2="1141.80"/>
<line x1="396.00" y1="1115.53" x2="683.20" y2="1115.53"/>
<line x1="396.00" y1="1089.27" x2="683.20" y2="1089.27"/>
<line x1="396.00" y1="1063.00" x2="683.20" y2="1063.00"/>
<line x1="396.00" y1="1036.73" x2="683.20" y2="1036.73"/>
<line x1="396.00" y1="1010.47" x2="683.20" y2="1010.47"/>
<line x1="396.00" y1="984.20" x2="683.20" y2="984.20"/>
</g>
<g clip-path="url(#c205)">
<line x1="409.3" y1="1104.3" x2="572.2" y2="1089.4" stroke="#1f77b4" stroke-width="2.2"/>
<line x1="461.2" y1="1114.1" x2="631.3" y2="1082.4" stroke="#ff7f0e" stroke-width="2.2"/>
<line x1="442.6" y1="1104.9" x2="670.8" y2="1096.6" stroke="#2ca02c" stroke-width="2.2"/>
<line x1="409.3" y1="1098.1" x2="597.0" y2="1103.8" stroke="#d62728" stroke-width="2.2"/>
</g>
<rect x="520.5" y="970.2" width="157.7" height="62.2" rx="2.5" fill="#fff" fill-opacity="0.8" stroke="#d0d0d0" stroke-width="0.9"/>
<circle cx="534.8" cy="979.4" r="1.5" fill="#1f77b4"/>
<text x="553.5" y="981.7" font-size="11.85" fill="#262626">temperature (R: 0.11)</text>
<circle cx="534.8" cy="993.7" r="1.5" fill="#ff7f0e"/>
<text x="553.5" y="996.0" font-size="11.85" fill="#262626">humidity (R: 0.21)</text>
<circle cx="534.8" cy="1008.0" r="1.5" fill="#2ca02c"/>
<text x="553.5" y="1010.3" font-size="11.85" fill="#262626">light_intensity (R: 0.09)</text>
<circle cx="534.8" cy="1022.3" r="1.5" fill="#d62728"/>
<text x="553.5" y="1024.6" font-size="11.85" fill="#262626">wind_speed (R: -0.04)</text>
<rect x="396.00" y="965.00" width="287.20" height="190.50" fill="none" stroke="#505050" stroke-width="1.2"/>
<g stroke="#404040" stroke-width="1"><line x1="409.30" y1="1155.50" x2="409.30" y2="1159.00"/><line x1="462.04" y1="1155.50" x2="462.04" y2="1159.00"/><line x1="514.78" y1="1155.50" x2="514.78" y2="1159.00"/><line x1="567.52" y1="1155.50" x2="567.52" y2="1159.00"/><line x1="620.26" y1="1155.50" x2="620.26" y2="1159.00"/><line x1="673.00" y1="1155.50" x2="673.00" y2="1159.00"/><line x1="392.50" y1="1141.80" x2="396.00" y2="1141.80"/><line x1="392.50" y1="1115.53" x2="396.00" y2="1115.53"/><line x1="392.50" y1="1089.27" x2="396.00" y2="1089.27"/><line x1="392.50" y1="1063.00" x2="396.00" y2="1063.00"/><line x1="392.50" y1="1036.73" x2="396.00" y2="1036.73"/><line x1="392.50" y1="1010.47" x2="396.00" y2="1010.47"/><line x1="392.50" y1="984.20" x2="396.00" y2="984.20"/></g>
<text x="409.30" y="1168.50" font-size="9.2" fill="#262626" text-anchor="middle">0.0</text>
<text x="462.04" y="1168.50" font-size="9.2" fill="#262626" text-anchor="middle">0.2</text>
<text x="514.78" y="1168.50" font-size="9.2" fill="#262626" text-anchor="middle">0.4</text>
<text x="567.52" y="1168.50" font-size="9.2" fill="#262626" text-anchor="middle">0.6</text>
<text x="620.26" y="1168.50" font-size="9.2" fill="#262626" text-anchor="middle">0.8</text>
<text x="673.00" y="1168.50" font-size="9.2" fill="#262626" text-anchor="middle">1.0</text>
<text x="389.20" y="1145.10" font-size="9.2" fill="#262626" text-anchor="end">0.15</text>
<text x="389.20" y="1118.83" font-size="9.2" fill="#262626" text-anchor="end">0.20</text>
<text x="389.20" y="1092.57" font-size="9.2" fill="#262626" text-anchor="end">0.25</text>
<text x="389.20" y="1066.30" font-size="9.2" fill="#262626" text-anchor="end">0.30</text>
<text x="389.20" y="1040.03" font-size="9.2" fill="#262626" text-anchor="end">0.35</text>
<text x="389.20" y="1013.77" font-size="9.2" fill="#262626" text-anchor="end">0.40</text>
<text x="389.20" y="987.50" font-size="9.2" fill="#262626" text-anchor="end">0.45</text>
<text x="539.00" y="959.80" font-size="12.6" fill="#262626" text-anchor="middle" textLength="22.6" lengthAdjust="spacingAndGlyphs">205</text>
<line x1="365.5" y1="1050" x2="365.5" y2="1074" stroke="#444" stroke-width="0.9" stroke-dasharray="2.5,3"/>
</g>
</svg></body></html>
